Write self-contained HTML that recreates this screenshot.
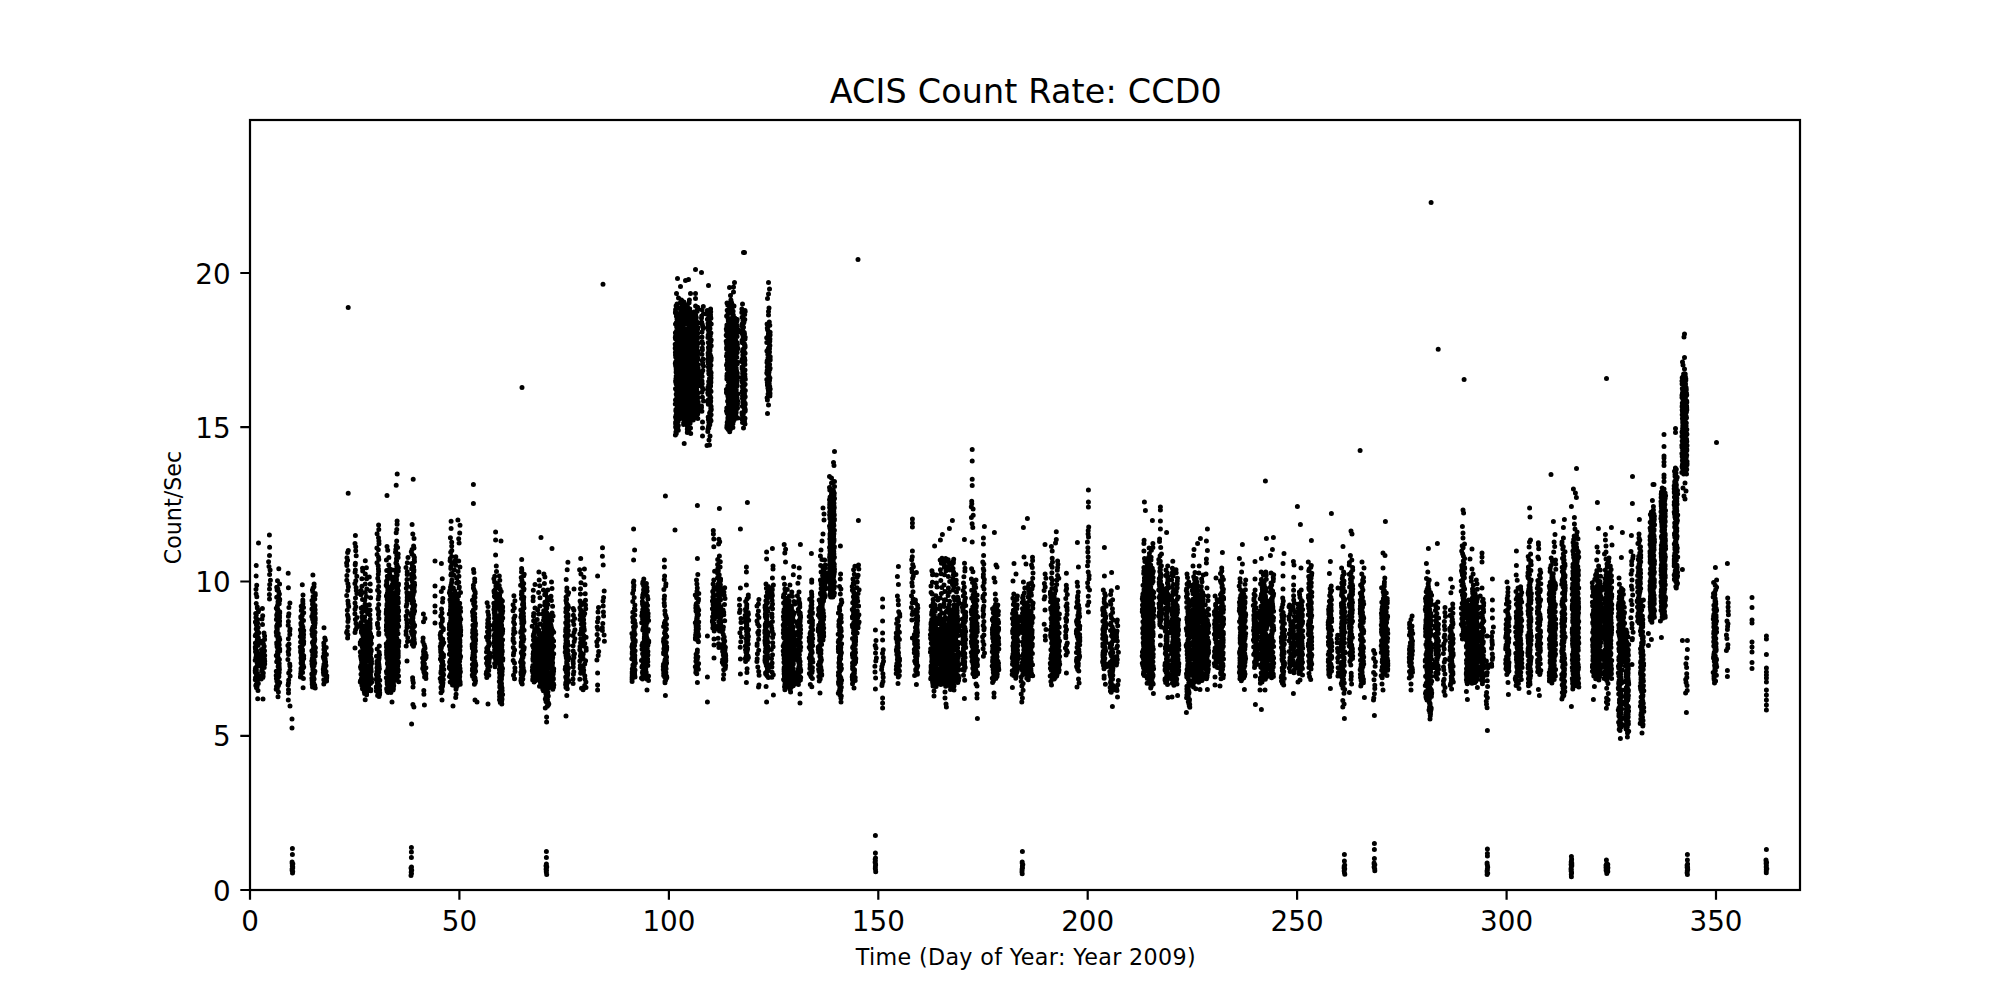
<!DOCTYPE html>
<html><head><meta charset="utf-8"><title>ACIS Count Rate: CCD0</title>
<style>
html,body{margin:0;padding:0;background:#fff;}
body{width:2000px;height:1000px;overflow:hidden;}
svg{display:block;font-family:"DejaVu Sans","Liberation Sans",sans-serif;fill:#000;}
.tk{font-size:27.78px;}
</style></head><body>
<svg width="2000" height="1000" viewBox="0 0 2000 1000">
<rect width="2000" height="1000" fill="#fff"/>
<g fill="none" stroke="#000" stroke-linecap="round" stroke-width="5">
<path d="M256.2 565.5h0m-.1 10.5h0m.6 9.3h0m-.7 4h0m.1 4.6h0m.7 2.8h0m-.6 6.8h0m1.1 3.4h0m0 1.1h0m1.4 2.3h0m-.4 1.4h0m-2.6 1.9h0m.6 1.4h0m-.4 2.5h0m1.6 2h0m-.3 1.5h0m-1.8 1.1h0m2.2 1.2h0m-1.3 1.4h0m.5 1.5h0m1.3 1.2h0m-2 1.5h0m1 1.3h0m.7 1.6h0m.9 .9h0m-2 .8h0m-1 1.3h0m-.4 1h0m2.7 1.1h0m.4 1h0m-.7 .8h0m-.4 1.1h0m.9 .8h0m-1.3 1.3h0m-1.5 1.1h0m2.1 1h0m.7 1.3h0m-1.6 .8h0m-1.3 1h0m.5 .9h0m-.4 .7h0m.3 1.1h0m.9 .7h0m-1.1 1.2h0m1.7 .9h0m.9 1.2h0m-1.9 1.2h0m.3 .9h0m2.1 1.2h0m-2.8 .7h0m.2 .7h0m1.3 .9h0m-2.1 .8h0m1.3 .8h0m2.1 1h0m-1.5 1.1h0m.5 1h0m.8 .6h0m-.1 1.1h0m-1.7 1.2h0m-1 .8h0m-.2 1h0m.6 .6h0m.4 .7h0m-1.2 .6h0m.4 .7h0m-.3 .8h0m2.1 1.2h0m-1.3 .6h0m.4 .9h0m1.8 .6h0m-1.4 1.3h0m-1.4 .9h0m.9 .6h0m1.8 .8h0m-2.9 .7h0m1.8 1.2h0m.1 .7h0m-.1 .5h0m1.2 1.3h0m-2.2 1.1h0m-.3 .8h0m1.3 1.2h0m-.7 1.1h0m1.6 2.7h0m-.3 8.4h0M262.4 608.6h0m.3 7.1h0m-.7 3.4h0m.5 5.3h0m1.5 8.5h0m.6 3.1h0m0 3.5h0m-2.6 1.8h0m-.1 1.5h0m1.5 1.3h0m.8 2.2h0m-.6 1.4h0m-2.1 1.7h0m3 1.3h0m-.6 1.4h0m-2.1 1h0m.6 1.3h0m2.3 1.2h0m-2.1 .8h0m1.2 1.3h0m-2.1 .7h0m2.8 .6h0m-2.8 1.2h0m3 1.1h0m-2.2 1.1h0m-.8 .9h0m3 .6h0m-1.6 1h0m-.3 1.3h0m1.4 1.2h0m-2.1 .7h0m0 .8h0m0 1h0m-.4 .8h0m.8 1.3h0m.8 .9h0m-.6 1.2h0m.3 1.3h0m.1 1.2h0m-.3 1h0m-1.6 1.3h0M269.4 534.9h0m.2 12.4h0m-.1 8.1h0m-.9 6.4h0m.4 4.8h0m1.1 3.4h0m-.5 4.5h0m.8 5.8h0m-.7 4.2h0m-.2 4.5h0m-.1 5.5h0m.1 4.6h0M278.8 568.8h0m-1.3 11.9h0m2.1 3.3h0m-2.9 3.2h0m1.1 1.5h0m-.7 1.4h0m1.5 1.4h0m.8 2.4h0m-.6 1.3h0m-2.1 2h0m3 2.1h0m-.1 1.2h0m-1.6 1.3h0m1.2 1.9h0m-1.4 1h0m-.4 1.2h0m-.1 .9h0m-1 1.4h0m1.5 1.2h0m-.4 .6h0m.6 1.2h0m1.7 .6h0m0 1.3h0m-2.5 .6h0m1.8 .6h0m-2.3 .8h0m2.8 .9h0m-2.4 1.1h0m2.4 .7h0m-.8 1h0m-2.3 .6h0m1.3 1.1h0m1.9 .6h0m-.5 1h0m.2 .6h0m0 .6h0m-1.9 .9h0m2.1 1h0m-2.8 .7h0m.4 .9h0m-.3 .7h0m.1 .6h0m.4 .8h0m-.1 1.1h0m-.4 .9h0m-.5 .8h0m0 .7h0m1.9 1.1h0m-.3 .7h0m-1.3 1.3h0m1.2 1.2h0m1.4 .9h0m-1.2 .8h0m1.7 1.1h0m-.5 .8h0m-.7 1.1h0m-1 .8h0m-.8 .6h0m2.2 .6h0m-2.1 .8h0m2.4 .6h0m-.6 1.2h0m-1.5 .7h0m.8 .8h0m-.1 .7h0m1.9 .7h0m-1.5 1.3h0m1.5 .7h0m-2.2 .8h0m.1 .6h0m.4 .9h0m0 .7h0m-.8 .5h0m.4 .6h0m-1.3 .6h0m.7 .8h0m1.1 1h0m.5 1.1h0m.8 1.1h0m-2 .8h0m-.7 1.3h0m1.8 1.1h0m.7 .6h0m-.7 1.2h0m.6 1.1h0m-1 .7h0m1.1 .9h0m0 1.2h0m.2 .9h0m-.7 1.1h0m-2.4 .7h0m1.2 .7h0m1.7 .6h0m-.7 1h0m.2 1h0m-2.5 .9h0m2.7 1.2h0m-.8 .9h0m-1.7 1h0m.7 1.1h0m.1 .6h0m-.3 1.1h0m2.8 1.1h0m-2.1 1h0m1.1 .9h0m-.3 1.1h0m-1.9 1h0m.6 .7h0m.2 1.1h0m-1.1 1h0m1 .6h0m1.2 2.3h0m-.4 4.6h0M288.2 573.3h0m.2 14.4h0m1.5 15.2h0m-1 4.7h0m0 6.1h0m-.5 2.6h0m0 5.2h0m-.2 3.8h0m1.8 3.6h0m-.3 2.1h0m.1 3.5h0m-1.4 4.3h0m.6 5.1h0m-1.1 1.6h0m1 3.5h0m-.7 2.7h0m.4 2.9h0m-.7 4.8h0m1.8 4.5h0m.2 2h0m0 4.4h0m-1.2 2.7h0m1.4 3h0m-1.4 3.9h0m-.2 3.2h0m-.4 1.8h0m.4 4.8h0m0 3.2h0m-.2 7.1h0m1.7 6h0M302.3 584.8h0m.7 10.2h0m-.2 5h0m0 1.6h0m.1 2.2h0m-1.7 2.5h0m2.3 1.3h0m-1.6 1.4h0m-.6 1.6h0m2.4 2.1h0m-1.1 1.4h0m-.4 1.3h0m-1.4 1.4h0m.1 1h0m1.1 1.8h0m1.5 1h0m-1.7 1.8h0m-.9 .8h0m.5 .8h0m-.3 .8h0m1.2 .8h0m.6 1.4h0m-1.2 1h0m-.1 1h0m-1.2 .8h0m3.3 .8h0m-1.7 .7h0m1.3 1h0m-2.1 .7h0m.4 .7h0m2 .9h0m-.3 1.2h0m-3 .6h0m3.1 1.1h0m-1.1 .9h0m-.7 .5h0m1.6 1.3h0m.5 1.2h0m-3.1 .7h0m1.5 .7h0m1.5 1h0m-1.1 1.1h0m-.7 1.1h0m-1.5 1h0m.7 1.1h0m1.5 1.3h0m-1.8 .8h0m1.8 .7h0m-1.9 1.1h0m1.5 .6h0m-.5 1h0m.8 .7h0m-1.1 .5h0m2.4 .9h0m-.3 1.1h0m-2.4 .9h0m2.7 .7h0m-2.4 1.1h0m.7 .5h0m-.3 1.1h0m.9 .7h0m-1.6 1.3h0m.4 .6h0m1.3 .8h0m.4 .7h0m-1.1 1.1h0m1.7 .7h0m-.5 .8h0m-2.2 .7h0m.3 1.2h0m.7 1.2h0m-1 .7h0m1.6 .9h0m-1.9 1.2h0m.3 .9h0m-.3 1.5h0m-.3 .8h0m3 1.5h0m-.3 9.4h0M312.9 575h0m1.2 8.9h0m-.1 2.9h0m-.9 1.2h0m-.7 2.1h0m.4 1.4h0m2.4 2h0m.1 1.4h0m-2.2 1.6h0m1.7 2.4h0m-2.8 1.6h0m1.1 1.7h0m-.6 2.1h0m2.5 1.3h0m-1.7 .8h0m1.3 1.7h0m-2.7 .8h0m3.2 .8h0m-.6 1h0m-1.5 1.5h0m2.2 1h0m-2.5 1.1h0m.2 1.3h0m-1.1 .8h0m3.3 1.2h0m.1 1h0m-2.6 .6h0m2.6 .9h0m-2 1.3h0m.1 .7h0m1.8 .9h0m-.4 .7h0m.1 1.1h0m-.8 1.2h0m-1 .8h0m1.6 .8h0m-2.1 .6h0m.2 1.1h0m-.8 .6h0m1.1 1h0m2 1.3h0m-2.2 1.2h0m-.7 .7h0m2.3 .9h0m-1.8 .9h0m1.4 .8h0m.5 1.1h0m-.3 1.2h0m.6 .6h0m-1 .8h0m.7 .8h0m-1.8 .7h0m-.3 .7h0m1.5 1.3h0m-.7 .8h0m.4 1.2h0m1.1 .8h0m.7 1h0m-1.9 .6h0m1.3 1.2h0m-2.9 1.2h0m.3 .8h0m3.1 .7h0m-.2 1h0m-.2 .8h0m-2.2 .9h0m2.5 1.1h0m-1.3 .7h0m-1.3 1h0m-.3 .8h0m.4 .7h0m1.4 1h0m-2.3 .7h0m2.4 .8h0m-1.3 .7h0m1.8 .7h0m-2.7 1h0m1.2 .6h0m.9 .9h0m-1.7 .7h0m.9 1h0m-.4 .8h0m0 1.3h0m.2 .9h0m1.8 .9h0m-1.8 1.3h0m1.3 .7h0m-2.6 .7h0m1.5 1.2h0m0 1.2h0m.2 1.2h0m-1.6 .7h0m2.2 .9h0m-2 1.3h0m1 1h0m-.8 .9h0m1.4 .8h0m-1.5 1.2h0m2.5 1h0m-2.2 1.7h0m2.7 1.1h0M324 627.7h0m.8 10.3h0m.6 2h0m-1.6 3.1h0m.2 2.7h0m2.2 1.7h0m-2.3 2.1h0m.7 1.2h0m0 1.4h0m-.5 1h0m2.3 1.4h0m-1.2 .8h0m-1.9 1.3h0m.3 1.3h0m1.6 1.1h0m-.9 1h0m1 .9h0m.3 .9h0m-.8 .8h0m.6 .6h0m-1.4 .9h0m2 1.2h0m-2.2 .8h0m-.2 1h0m1.2 .6h0m0 .6h0m-1.5 .9h0m.2 1.1h0m2.5 1.1h0m-2.6 .9h0m1.2 .9h0m-.9 1.3h0m3.1 1.2h0m-.7 1.1h0m.6 .7h0m-.1 .9h0m-2.8 1.2h0m2.8 1.4h0m-2.1 .9h0m-.7 2h0M348.3 550.5h0m-.7 2.1h0m-.6 5.1h0m.6 2.6h0m-1 2.8h0m.3 2.3h0m1.1 5.2h0m-1.1 5h0m-.1 4.6h0m1.1 3.6h0m.5 3h0m-.6 3.7h0m-1.1 5h0m1.2 5.4h0m.3 3h0m.5 2.6h0m-1.4 3.8h0m.2 4.6h0m.6 2.2h0m.2 1.8h0m-.4 2.5h0m-.1 5.4h0m-.6 4.1h0m-.6 1.6h0m1.3 2.2h0m-.3 3.2h0M355.4 535.5h0m-.4 8.1h0m.7 3.2h0m0 4h0m.5 4.9h0m-.8 7.6h0m-.2 1.5h0m.2 5.2h0m-.3 2.2h0m1.7 4h0m-1 4.6h0m-.9 2.6h0m1.2 4h0m.2 3h0m.6 3.2h0m-1.4 4.4h0m-.5 5.1h0m.8 3.6h0m-.8 2.5h0m-.1 4.6h0m2.1 3.7h0m-1.6 2.1h0m.6 3.9h0m.7 4.1h0m-1.1 2.2h0m-.6 2.7h0M362.5 568.3h0m.2 2.8h0m-.8 7.6h0m0 7.6h0m-.8 4.2h0m-.1 4.2h0m1.5 4.9h0m.2 7.3h0m-1.5 1.1h0m.6 4.2h0m.3 4.3h0m.4 2.3h0m-1.5 3.6h0m-.7 2.8h0m.7 1.6h0m2.6 2.1h0m-2.2 1.8h0m0 1.9h0m2.1 1h0m-.8 1.3h0m1 1.3h0m-.5 1h0m.1 1.2h0m-.5 .9h0m-1.5 1h0m1.1 .7h0m1.1 .6h0m-3.2 .7h0m3.2 .6h0m-2.8 .8h0m-.4 .6h0m2.2 1h0m.4 1.1h0m-.6 .6h0m.8 .8h0m.3 1.2h0m-.1 .6h0m.3 1.2h0m-2.7 .7h0m-.6 .6h0m2.8 1.2h0m.1 1h0m-2 1h0m-.6 .7h0m.3 1.1h0m.8 .8h0m-.6 .5h0m1.7 .8h0m-1.4 .8h0m.6 1.3h0m.4 1.2h0m-.7 .6h0m1.3 .8h0m-.3 .8h0m-1.7 1h0m-.5 1.2h0m.3 1.2h0m.1 .5h0m2.8 1.1h0m-1.7 .6h0m1.1 .9h0m-1.1 .7h0m1.2 .8h0m.4 .7h0m-2.6 .8h0m1 1.1h0m.5 .6h0m.5 .6h0m0 1.1h0m-1.5 1h0m.1 .9h0m-1.1 1.2h0m-.2 1.2h0m.8 .7h0m.9 1.2h0m1.4 .9h0m-1.5 .8h0m1 1.3h0m-.4 1.9h0M365.3 560.8h0m1.1 6.9h0m-1.1 6.3h0m1.3 4.7h0m-1.4 5.4h0m1.6 4.8h0m-1.5 3.6h0m1.1 3.9h0m-1.6 3.6h0m.3 4h0m1 4.1h0m-.7 2.9h0m2.3 2.5h0m-3.1 3.5h0m0 3.4h0m3.1 1.7h0m-.9 2.2h0m-1.9 1.4h0m-.3 1.4h0m1 1h0m0 .7h0m1.1 1.3h0m-.2 1h0m-1.8 .9h0m1 1h0m1.8 1.1h0m-1.2 .9h0m-.6 1.1h0m1.1 .7h0m.2 1.2h0m.3 1.1h0m-.8 1.1h0m-1.2 .9h0m-.7 1h0m2.4 .8h0m-.5 1.1h0m-.8 .8h0m.7 .8h0m.2 .9h0m-1.7 1.3h0m2.1 1h0m-1 .8h0m-1.7 1.3h0m.5 1h0m2.8 1.1h0m-3 1h0m1.5 .9h0m-.1 1.1h0m1.2 1h0m-1.5 1h0m-.7 1.3h0m.6 1h0m-1 1.1h0m.9 1.3h0m-.3 .6h0m-1 .9h0m1.5 .8h0m-.2 1.1h0m-.5 .8h0m2.6 1.1h0m-2.6 .9h0m.6 1.2h0m-.9 .7h0m2.4 1.1h0m-1.2 1h0m-.9 1h0m.5 1.3h0m1.6 1h0m-1.2 1.2h0m.3 .7h0m1 .7h0m.1 .8h0m-1.7 .7h0m.1 .8h0m-1.5 .7h0m1 1.1h0m.1 .7h0m.4 .9h0m.9 1h0m.9 .9h0m-3.1 1.1h0m3.1 1.2h0m-2.8 1.2h0m1.8 1.1h0m-2.3 .6h0m2.4 1.3h0m-2 .7h0m2 1.1h0m-1.4 5h0M369.3 577h0m.9 7.1h0m.2 6.6h0m.2 7.1h0m-1.3 6.9h0m.8 5.3h0m-.3 4.8h0m.4 4.4h0m-1.2 2.3h0m1 1.8h0m-.1 1.5h0m.1 1.5h0m.1 2h0m-1.9 2.3h0m1.7 2h0m.7 1.5h0m-1.1 1.7h0m2.2 1.1h0m-1.2 .7h0m-2.2 1.2h0m2.4 1.1h0m-1.3 1.4h0m.6 1.3h0m1.4 .9h0m-.6 .6h0m-1.4 1h0m.1 1.2h0m.6 .9h0m-1.1 1.1h0m.7 .9h0m1.5 .9h0m0 .8h0m-1.2 .9h0m0 .7h0m.6 1.3h0m-1.2 1.1h0m-.1 .8h0m1.2 1h0m-2.2 1.2h0m3.1 1.1h0m-3 .9h0m-.2 .8h0m3.3 .7h0m-.9 1h0m.9 1.1h0m-1.1 1h0m.3 1.1h0m0 1h0m-.1 .7h0m.3 .9h0m-2 .6h0m2.1 .6h0m-.4 1.2h0m.6 .8h0m-1 1.2h0m-.9 .7h0m0 .9h0m1.2 .8h0m-2.1 1.3h0m-.1 1h0m2.8 .6h0m.4 1h0m-3.2 .9h0m2 .8h0m1.4 1.3h0m-2 .9h0m.8 .6h0m-1.8 .7h0m-.5 .6h0m.4 1h0m-.1 1.3h0m.2 1.5h0m2.1 .9h0m0 1.4h0M378.6 525.1h0m.2 4.3h0m-1.7 4.4h0m1.4 4h0m.4 3.3h0m.1 2.6h0m-2.1 4.3h0m1.4 1.7h0m-1.2 4.7h0m1.4 2.8h0m.3 2.2h0m-1.8 3.4h0m1.2 3h0m.2 3.3h0m.2 2.1h0m-.3 3h0m-.5 4h0m.8 3h0m0 5.2h0m-1 3.8h0m1.4 1.8h0m-.3 4.3h0m-.5 2.8h0m.5 5.4h0m-1.1 3.9h0m1.2 3.2h0m-.4 3h0m.5 3.9h0m-1.4 4.7h0m0 1.6h0m.7 3.2h0m.6 4.7h0m-.1 1.7h0m.6 11.6h0m-2.1 3h0m1.9 3.2h0m.4 2.5h0m-3 1.6h0m2.6 1.8h0m-.2 1.1h0m-1.9 2h0m1.6 1.4h0m-1.7 1.1h0m2 .9h0m-1 1.3h0m1.2 .7h0m-2.1 1.2h0m2.4 1h0m-1.3 1.2h0m.2 .9h0m-1.4 .7h0m1.8 .7h0m-.5 .8h0m-.1 .9h0m-1.7 .6h0m1.1 1.3h0m1 .6h0m-1.7 1.2h0m.6 1h0m-1.1 .9h0m3.5 .6h0m-1.8 1.2h0m-.9 1h0m.6 1.1h0m1.3 1.3h0m.7 1.1h0m-3.4 .8h0m.6 .7h0m-.5 .6h0m2.9 1h0m.3 .9h0m-3.2 1.2h0m1.2 1h0m2.1 .6h0m-1.5 .8h0m1.4 1h0m-2 1h0m1.4 .9h0M387 546.6h0m.7 3.6h0m1.2 7.2h0m-2.5 2.6h0m2.4 5h0m.9 3.7h0m-3 1.8h0m2.9 3.2h0m-2.3 2.6h0m1.6 2.1h0m-1.5 1.3h0m-.8 1.3h0m.2 1.5h0m-.1 1.1h0m-.5 1.6h0m.7 1.4h0m2.6 .7h0m.1 .9h0m-.2 1.4h0m-1.6 .7h0m1.7 .6h0m-1 1.2h0m-1.1 .9h0m.5 1.2h0m-1.2 1h0m-.3 .7h0m1.8 1.1h0m1.1 .6h0m-1.6 .8h0m-.5 .7h0m.2 1.1h0m.6 .7h0m1.5 .8h0m.2 .6h0m-.3 .6h0m-2.4 1.1h0m.2 .9h0m-.3 .7h0m2.9 .9h0m-.3 1.3h0m-2.3 .6h0m-.8 1.2h0m.9 1.1h0m-1 1.3h0m1.1 1.1h0m-1.2 .7h0m1.9 1.2h0m-.3 .7h0m-.8 1.2h0m-.3 1h0m2.3 .7h0m-2.1 1h0m-.4 .7h0m1.5 1h0m-1.1 .7h0m1.8 1h0m-.4 1.2h0m-1.9 .7h0m1.3 1.1h0m-1.3 1.1h0m1 1.1h0m1.9 1.2h0m-3 .9h0m1.6 1.3h0m-.7 1.2h0m2 .7h0m-2.4 .8h0m1.5 .8h0m-.2 .6h0m0 .8h0m.7 .7h0m.5 1.2h0m-.5 .7h0m.1 .9h0m.4 .6h0m-1.3 1.2h0m.1 1h0m-1.8 .9h0m.7 1.3h0m-.4 .7h0m2.5 .7h0m-2.6 .6h0m.4 1.1h0m1.5 .5h0m-.3 1h0m-1.5 1.1h0m2.2 1.2h0m-2.2 .6h0m1.4 .9h0m-1.4 .8h0m.1 .8h0m2.6 1h0m-1 .7h0m-1.5 1.1h0m2.8 1.2h0m-1.9 .8h0m.4 1.2h0m1.5 .8h0m-2.2 1.2h0m0 .7h0m2.3 .9h0m-.2 1.1h0m-.2 1.2h0m-1.2 .6h0m1.5 1.2h0m-1.9 .8h0m-.2 1h0m-1.1 .9h0m1.6 .9h0m-1.3 .6h0m2.3 1.3h0m-.5 1.2h0m.9 1.2h0m-3.1 1.2h0m.9 1h0m0 1.1h0m2.3 .9h0m-2.4 1h0m.7 1h0m-.6 1.2h0m1.3 .8h0m-.2 .7h0m-.3 1.2h0m-.1 .8h0m-1.2 .9h0m0 .8h0m1 .9h0m-.6 1.2h0m1.1 1.1h0M392.4 570h0m.1 7.1h0m.3 3.8h0m-.6 3.9h0m-.3 3.5h0m-.8 2.2h0m.9 1.7h0m.3 1.7h0m-.8 1h0m-.4 2h0m.9 1.3h0m1.8 1h0m-.8 .9h0m-2.6 .7h0m1.4 1.3h0m-.2 .6h0m1.2 .9h0m-1.8 .6h0m1.9 1.3h0m-1.5 .6h0m1.2 .8h0m.7 1.1h0m-1.2 1.1h0m.8 1.1h0m-1 1.1h0m.9 1.2h0m-2.1 1.2h0m-.5 1.2h0m2.1 1.1h0m1.4 1h0m-2 1h0m1.6 1.1h0m-1.7 1h0m.2 .9h0m-.5 1.1h0m.9 .8h0m-.8 .9h0m1.9 1.1h0m-1.5 .9h0m-.5 .7h0m1 .7h0m-1.8 1h0m.9 1.2h0m1.8 1.2h0m-2.3 1.2h0m2.6 .9h0m-3.1 .6h0m1.6 .9h0m1 1.3h0m.8 .9h0m-1.7 1h0m-.5 1h0m.7 .9h0m1.3 .8h0m-1.5 1h0m-.6 .7h0m.7 .8h0m1.2 1h0m-1.4 1.3h0m.4 .8h0m-1 1.3h0m1.7 1h0m-1.8 .7h0m1.9 1.2h0m-2.6 1h0m2.1 1.2h0m1.1 1.2h0m-2.1 1.2h0m-.5 .7h0m.8 .9h0m-1.1 .7h0m1.5 1h0m1.4 .8h0m-3.4 1h0m2.6 .9h0m-.3 .8h0m-1.4 .5h0m1 1.2h0m-1.4 1.1h0m1.3 .9h0m.3 .7h0m1.3 1h0m-2.1 1h0m-.9 .6h0m-.2 1.1h0m.2 .7h0m2.4 .9h0m-.1 1h0m-2.9 .6h0m1.2 1.1h0m.1 1.1h0m-.3 .7h0m2.3 .6h0m-2 1h0m.1 .9h0m1.8 .6h0m.3 1h0m-1.3 .9h0m-2 .7h0m2.9 1.2h0m.1 .8h0m-2.1 1.2h0m2.4 1h0m-.1 .9h0m-2 .7h0m-.6 1.1h0m2.4 .8h0m-.3 1.2h0m-2.3 1.1h0m.1 1.4h0M397.1 520.9h0m0 3.4h0m-.3 5.3h0m-.6 3.1h0m.5 8.2h0m-.4 4.3h0m-.2 .8h0m1.5 1.5h0m-1.8 2.1h0m-.3 2.6h0m2.7 1.7h0m-1.4 1.3h0m1.3 2.4h0m-1.6 1.2h0m.1 2h0m-.7 2.1h0m1.1 1.9h0m-.2 1.1h0m.9 .9h0m.7 1h0m-1.9 1.3h0m.9 .9h0m.9 .9h0m-1.3 .7h0m-.8 1.1h0m.4 1.3h0m.6 1.1h0m-.6 .8h0m-.8 .6h0m.6 1.2h0m-.8 1.1h0m.9 1h0m-.2 .9h0m0 .6h0m-.6 .7h0m.5 1.1h0m2.3 .8h0m-.1 1.2h0m-2.7 1.2h0m-.4 .7h0m2.3 1.1h0m-.9 .8h0m1 1.1h0m.5 .7h0m-.7 .8h0m-1.9 .7h0m2.2 1.2h0m-2.5 1.1h0m.5 .6h0m.5 .7h0m-1 .8h0m2.2 .8h0m.7 .7h0m-.4 1h0m-1 .7h0m-.3 1.1h0m1.7 .5h0m-2 1.2h0m2.1 .5h0m-2.9 1h0m.2 .8h0m.4 1.1h0m1.9 1.3h0m-.2 .6h0m.2 .8h0m-1.7 1.2h0m2.4 .6h0m-.1 .9h0m-.6 1h0m-.4 1.2h0m-2.1 .9h0m1.3 1.1h0m1.8 .9h0m-.6 .7h0m-.2 .5h0m-1.6 1.2h0m2.6 1h0m-1.5 1h0m-1.8 .7h0m1.3 .8h0m-.4 .7h0m1.4 .7h0m-1.6 1h0m1 .8h0m1.5 .9h0m-2.3 .8h0m-.6 1.2h0m.7 1h0m.8 1.1h0m-1.4 1.1h0m1.6 1.1h0m.6 .9h0m-2.4 1.2h0m.9 .7h0m-1.1 .7h0m.5 .8h0m.9 1.1h0m-.4 .6h0m.1 .9h0m-1 .7h0m3.3 .5h0m-3.3 1.1h0m3.2 1.1h0m-3.1 1h0m1.2 .9h0m.4 .7h0m1.3 .6h0m-1 1h0m0 1.3h0m-1.4 .7h0m-.8 .7h0m2.9 1.1h0m-2.3 .8h0m2.3 1h0m-2.4 1.2h0m2.4 1.2h0m-1.8 1.1h0m1.8 .7h0m-1.7 .8h0m0 .9h0m-.4 1.2h0m1.1 .6h0m1 1h0m.3 1.1h0m-1.5 1.2h0m-1.2 1h0m1.5 .7h0m.4 .6h0m-.9 .7h0m-1.3 1.3h0m1.3 .6h0m1 .7h0m.4 .5h0m-.2 1.2h0m-1.8 .9h0m.9 1h0m-.7 .9h0m1.2 .9h0m.9 1.1h0m-2.2 .7h0m.9 1.1h0m-1.3 1.1h0m.5 1.1h0m2.3 1.8h0M408 557.5h0m-.7 5.3h0m-1.3 4.7h0m1.2 4.2h0m0 2.7h0m-.2 5.2h0m-.4 4.1h0m1.2 2.9h0m-1.5 1.7h0m.6 4.2h0m.4 1.9h0m-.1 3h0m-.1 3.2h0m-.3 3.7h0m-.5 2h0m.8 5h0m.7 2h0m-1.7 2.6h0m.4 3.6h0m.6 3.5h0m.1 2.4h0m-.2 2h0m-.9 3.9h0m0 3.1h0m1.7 3.3h0m-.3 3.7h0m-1.3 4.5h0M412.1 524.5h0m.7 9.6h0m1.2 4.4h0m-.4 7.5h0m.4 2h0m-1.9 1.6h0m-.8 2.1h0m.7 2.4h0m1.7 1.7h0m.7 1.8h0m-.1 2.1h0m.2 1.8h0m-2.7 2.1h0m.6 1.8h0m1.2 1.7h0m-2 1.6h0m2.3 1.2h0m-.1 1.6h0m-.4 .7h0m-.2 .8h0m-1.6 1.3h0m2 1.4h0m-1.7 .8h0m2.3 1h0m-2.6 1h0m0 .6h0m.3 1.1h0m.3 1h0m.4 1h0m1.8 .7h0m-.7 1h0m.9 1.1h0m-2.2 .6h0m.6 .6h0m1.1 1.2h0m-2.2 .6h0m1.7 1.2h0m-.7 .8h0m1.3 .7h0m.1 .8h0m-2.8 1h0m.5 .8h0m1.3 1.3h0m-1.5 .5h0m1.1 .9h0m-.3 .9h0m-1.4 .9h0m1.2 .9h0m.5 .6h0m-1.5 1.3h0m2.2 .7h0m-1.4 .7h0m-.1 .9h0m1 1h0m1.7 1.3h0m-1.6 .6h0m1.1 1.1h0m-.8 1.1h0m-1 1h0m1.6 .8h0m.5 1.2h0m-2.3 1.1h0m1.6 1.1h0m-.4 .9h0m-.3 .8h0m-1.8 .9h0m1 .8h0m.5 1.3h0m-.8 .8h0m.4 .7h0m-1.3 .7h0m1.6 1.2h0m.4 .9h0m-1.4 .8h0m.5 .6h0m1.5 .7h0m.8 1h0m-.1 .8h0m-3 1h0m1.8 .7h0m-.8 1.3h0m.2 1.1h0m-1.3 1.2h0m3 .9h0m-2.3 .8h0m-.3 .5h0m1.9 .8h0m-1.1 .7h0m.8 .7h0m.1 1.2h0m.3 .7h0m-.4 1.3h0m.7 .6h0m-1.7 1.2h0m-.5 .6h0m2.5 1h0m.1 1.1h0m-2.1 1h0m1.1 1.8h0m-.9 31.4h0m.2 2.6h0m.5 2.5h0m-.3 4.1h0m-.1 17.7h0m1 2.4h0M423.4 614h0m1.5 4.5h0m-1.4 3.2h0m-.4 16.3h0m-.2 3.5h0m1.2 2.9h0m.6 2.1h0m.3 1.8h0m-1.2 1.6h0m-.3 1.6h0m1.8 1.5h0m-1.6 1.3h0m2.4 1.3h0m-2.5 .9h0m2.4 1h0m-3.4 .6h0m2.4 .9h0m-1.1 1.1h0m-.5 1.3h0m-.5 1.1h0m.2 .6h0m1.3 .6h0m-1.1 1h0m.6 1.2h0m-.7 .7h0m2.7 1.1h0m-3.2 .7h0m.8 1.1h0m.9 1.3h0m-.6 1h0m.5 1.2h0m1.6 .8h0m-.7 .6h0m-.3 .7h0m.8 1h0m-1.1 .9h0m1.3 1.5h0m-2.1 12.1h0m.1 3.6h0M441.4 563.4h0m.9 15.4h0m.8 9.3h0m-1.8 3.3h0m1.5 7h0m-.3 3.7h0m-1 6.8h0m.5 4.1h0m-1.2 3h0m1.6 2.8h0m-.1 2.2h0m-1.3 2.8h0m.5 2.6h0m1.8 2.2h0m0 1.2h0m-2 2.2h0m-.7 .9h0m-.4 2h0m.5 1.8h0m-.1 1.5h0m2.1 .8h0m-1.3 .8h0m1.4 1.5h0m.9 1.4h0m-2.7 .7h0m1.7 1.2h0m-.7 .6h0m-.3 .8h0m-1.4 .6h0m1 1.3h0m-.7 1.3h0m.1 .9h0m.1 .8h0m-.1 1.1h0m1.3 1.1h0m-.5 .6h0m2 1h0m-2.5 .8h0m2.4 1.3h0m-2.2 1.1h0m0 .6h0m-.8 .6h0m1.3 1h0m-.2 .9h0m1.2 .6h0m-.5 1h0m.5 1h0m.6 1.3h0m-1.7 1.1h0m.1 .8h0m-.1 1.2h0m.1 .9h0m2.1 .6h0m-1.4 .6h0m-1.3 1.2h0m.5 1h0m-.7 .8h0m2.3 .6h0m.3 1.1h0m-.8 .6h0m-.2 .8h0m-1.2 1h0m-1.1 1.3h0m3.1 1.1h0m-1 .9h0m-1.3 1.3h0m1.9 1h0m-.1 .9h0m-.7 .8h0m.5 1h0m-.1 .8h0m-1.5 1h0m.2 1h0m.7 1.3h0m.2 1.5h0m-1.1 1.6h0M451.1 521.2h0m0 7.2h0m-.7 9.4h0m1.3 4.5h0m0 3.7h0m.1 4.6h0m-1.1 1.6h0m1 4.4h0m-1.4 1.8h0m-.2 2.4h0m1.6 2.7h0m-.8 3.2h0m-.1 1.8h0m.6 4.9h0m-.5 1.6h0m1 5h0m-.3 2.4h0m-.5 2.7h0m-.6 2.1h0m.1 2.1h0m-.7 1.4h0m-.5 2.1h0m2.4 1.4h0m-1.4 1.4h0m1.8 1.3h0m-.7 .9h0m-1.6 1.9h0m2.2 1.1h0m-1.6 1.3h0m.3 .7h0m1 1h0m-1.1 .8h0m1.4 1.2h0m-1.5 .8h0m1.9 1h0m.2 .7h0m-2.2 1.1h0m-.1 1h0m1.5 .6h0m-.8 .8h0m1.3 1h0m-3.1 1.1h0m1.6 1h0m1.3 .9h0m-1.3 .8h0m-.1 1.3h0m.2 .9h0m.6 1.1h0m-1 1.1h0m1 .6h0m.4 1h0m-2.4 1.1h0m-.1 .7h0m.1 1.2h0m2.3 .6h0m-2.5 1h0m2.4 1h0m-2.4 1h0m1.3 1h0m2.1 1h0m-.5 1.2h0m-1.9 .6h0m-1.2 1h0m1 1.3h0m.1 .7h0m2 .8h0m-1.3 .9h0m-1.6 .9h0m2.9 .8h0m0 1.1h0m-2.4 .8h0m1.2 .5h0m-.2 .9h0m.4 .9h0m.8 .8h0m.4 .7h0m-3.1 1h0m1.7 .8h0m.1 .8h0m-1 .8h0m0 1.2h0m1.9 1.1h0m-1.3 .9h0m0 1.3h0m-1.4 1.2h0m2.1 .9h0m.8 .6h0m-1 .6h0m1.2 .7h0m-.4 .9h0m-.5 1h0m-1.3 1h0m1.9 .7h0m.3 .7h0m-2.9 .7h0m2.4 .6h0m-1.3 1.3h0m-.6 1h0m1.6 1.2h0m-2.3 .7h0m0 1.1h0m.9 1.2h0m1 .7h0m-.1 .8h0m1.3 .6h0m-.3 .8h0m-.1 .7h0m-1.5 1.3h0m0 .6h0m-.6 1h0m-.5 .9h0m2.3 .9h0m-.2 .9h0m.6 .6h0m.3 .7h0m.1 1.3h0m-2.4 1.1h0m1.7 1.3h0m.6 1.6h0M455.8 556.8h0m-.7 3.9h0m-.9 1.9h0m1.6 2.7h0m-1.4 4.8h0m-.4 5.1h0m2.7 2.8h0m-.1 4.9h0m-3.2 5.1h0m1.4 3.1h0m1.1 2.4h0m.1 2h0m-2.6 2h0m.1 2.1h0m2.5 1.9h0m-1.1 1.7h0m.1 .8h0m.5 .9h0m-.2 .9h0m-.8 1h0m-.7 1.2h0m2.8 .7h0m-.4 .9h0m-1.3 1.2h0m-1.4 .6h0m.1 1.2h0m1.5 1h0m-.2 .6h0m.2 .7h0m-.6 .9h0m.2 .7h0m-1 .7h0m2.6 .7h0m.1 1h0m.2 .5h0m-.6 .9h0m-.3 1h0m.2 .7h0m-1.7 .7h0m.4 .6h0m-.3 .9h0m-.8 1.2h0m.5 1h0m2 1h0m-2.6 1.1h0m2 .7h0m-2.1 1.3h0m2.4 1h0m-1.3 1.2h0m.5 1.2h0m-1.7 1.2h0m1.5 1.2h0m-1.2 .9h0m2.3 .7h0m-2.1 1.1h0m0 .8h0m.3 .7h0m2.7 .8h0m-.7 1.3h0m-1 .9h0m1.5 1.1h0m-1 1.2h0m0 .7h0m.5 1.1h0m-.2 .7h0m-2 .8h0m1.8 1.2h0m-1.9 1.2h0m2.9 1.1h0m-.7 1.3h0m.2 1.1h0m-1.3 1h0m1.2 1.2h0m-1.7 1.2h0m.8 1.3h0m-1.5 1.2h0m2.4 1.3h0m.2 .7h0m-2.3 .8h0m.2 .9h0m2.4 .9h0m-.7 1h0m.2 .9h0m-.3 1.1h0m.5 1.3h0m-2.7 .8h0m2.7 1.1h0m-.9 .8h0m.8 1.2h0m-1.1 .5h0m-1.4 .6h0m1.1 1.1h0m.1 1h0m-.8 .8h0m2.2 .9h0m-1.9 1h0m-.1 .6h0m.6 1.1h0m1.3 1h0m-.4 .6h0m.5 .6h0m-2 .7h0m.3 1.3h0m1.9 .7h0m0 1h0m-.4 2h0m.1 5.1h0m-.4 3.3h0M457.9 520.1h0m2.1 5.2h0m-.3 7.6h0m-1 5.8h0m.4 4.4h0m-.4 17.9h0m1.2 5.9h0m-1.8 4.7h0m.8 4.6h0m-.2 6h0m.6 4.7h0m-.2 1.1h0m1.4 4.6h0m-2 3.4h0m-1.1 4.1h0m2.3 3.1h0m-.9 2.2h0m1.6 2.3h0m-.5 1.9h0m-1.5 1h0m2.2 1h0m-2.9 1.8h0m1.6 1.3h0m-.7 .7h0m.9 1.3h0m.4 .8h0m-.7 .9h0m1.5 .9h0m-.6 1h0m-1.5 1.1h0m1.2 1.2h0m-1.6 1.1h0m1.1 .7h0m.8 1.1h0m-2.4 .9h0m2.7 .9h0m-.5 .7h0m-1.6 .6h0m0 .6h0m2.4 .9h0m-2.8 1.2h0m2.7 .8h0m-2.2 .7h0m-.8 .9h0m1 .7h0m2.1 .9h0m-2.8 .7h0m.9 1.3h0m.7 1.1h0m-1.2 1.2h0m1.6 .6h0m-.7 .9h0m.7 1.1h0m-1.4 .8h0m.6 1.2h0m.4 .8h0m.5 .7h0m.2 .6h0m-1.7 1h0m-.3 1.2h0m-.7 .7h0m2.4 1h0m-1.2 1.1h0m-1.1 1.1h0m1.9 .8h0m0 1.3h0m.5 1h0m.6 .9h0m-2.2 1.1h0m1.7 .8h0m-2.2 .9h0m1.2 1.2h0m.5 .9h0m-1.9 1.2h0m-.3 .8h0m1.6 .9h0m.6 1.2h0m-.9 1h0m-.5 .9h0m1.8 1.2h0m-2.3 1.2h0m2.2 1.1h0m.5 .9h0m-.5 1.2h0m-.4 1.2h0m-1.8 1.2h0m2 1.1h0m-1.5 1h0m1.2 .6h0m-1.2 1.1h0m-.2 .8h0m1.6 .6h0m.5 1.4h0m-.4 1.2h0m.5 1.1h0m-3 1.6h0M473.5 569.4h0m.4 3.1h0m.8 6.4h0m0 2.9h0m-1.3 3.5h0m0 2.7h0m.8 2.1h0m.9 1.8h0m.1 1.7h0m-1.1 2.6h0m.9 1.2h0m-1 1.2h0m-1.6 1.6h0m2.4 1.9h0m-1.2 1.7h0m.7 1.5h0m1 1.1h0m-.2 1.9h0m-1.7 1.7h0m-.9 1.7h0m.2 1.1h0m2 1h0m-.9 1.3h0m-.9 .9h0m.3 .9h0m1.6 .7h0m-1 1h0m.9 .7h0m-1.5 .7h0m1.5 1h0m.2 1.2h0m.6 1.3h0m-.7 1.1h0m-1.9 .6h0m2.4 .6h0m-.8 1h0m-1 .8h0m1 .7h0m-1.2 1.3h0m-.5 .5h0m2.6 .9h0m-1.6 1.1h0m-1.2 .6h0m2.4 .7h0m.8 .9h0m-.7 1.2h0m.1 .9h0m-2.6 .7h0m1.4 1h0m-.9 .7h0m2.4 .5h0m.1 1.1h0m-1.8 1.3h0m-.2 1.1h0m1.6 1.2h0m-3 .6h0m2.1 .7h0m-2.1 .9h0m2.8 1.1h0m-2.6 .9h0m1.7 1.2h0m-.7 .6h0m2 1.1h0m-.9 .9h0m-1.4 .7h0m.5 1.2h0m.7 .6h0m-1.4 .7h0m1.4 .9h0m.4 1h0m-2.3 .9h0m0 1.1h0m1.2 .9h0m1.2 1h0m-.3 .8h0m-.6 1h0m1.6 .7h0m-3.1 1h0m3.4 .7h0m-2.2 .7h0m1.6 1.2h0m-.3 1h0m-2.4 .6h0m2.6 1.3h0m-2.7 .5h0m3.2 .8h0m-1 .7h0m-.1 1.2h0m-1.4 1.3h0m-.8 .6h0m.3 1.2h0m2.2 1.2h0m.3 .7h0m-1.1 .7h0m1 .6h0m.5 1.3h0m-.2 .6h0m-.1 1.3h0m-.8 1.6h0M487.1 602.8h0m1 3.6h0m-.3 5.4h0m.7 3.2h0m.2 3.3h0m-.9 1.7h0m.7 1.7h0m-.8 1.8h0m2 1.5h0m-2.2 2.1h0m1.3 1.3h0m.5 2.3h0m-1.8 1.1h0m1.4 1.3h0m-.5 1h0m.6 2h0m-2.5 .8h0m2.2 .8h0m-.6 1.3h0m-.4 1.1h0m.8 1.2h0m.3 1.4h0m.7 1.3h0m-.7 1.2h0m-.1 .6h0m-.9 1.2h0m-1 1.2h0m1 1.2h0m-.7 1.1h0m.4 .8h0m-1 .8h0m3.2 .9h0m-.1 1h0m-.4 1.1h0m-.3 1.3h0m-1.8 .8h0m-.8 .8h0m3.1 .8h0m-2 1.2h0m1.6 1.1h0m.1 1.2h0m-2.5 1h0m.7 1.2h0m.2 1h0m2.2 .9h0m-1.6 .7h0m0 1h0m-.4 1.3h0m1 1.2h0m-2.2 1.3h0m.7 .7h0m-1 1.4h0m2.6 1.2h0m-2 2.3h0M496.3 566h0m.2 5.6h0m-1.8 4.6h0m-.8 2.5h0m.7 3.2h0m2.7 1.8h0m-1.4 2.3h0m.1 2.1h0m-1.1 1.8h0m-.9 1h0m1.1 .8h0m-.9 .9h0m3.1 1.2h0m-2.5 1.2h0m-.4 1.3h0m.5 .7h0m1.4 .8h0m.1 .9h0m.8 .6h0m-.4 .8h0m0 .6h0m.1 .7h0m-.7 1.2h0m-2.4 .7h0m3.3 .7h0m-.9 .7h0m0 1h0m-1.9 .7h0m3 .6h0m-1.2 .8h0m-1.5 1h0m-.7 .6h0m.4 1.2h0m.8 1.3h0m-.8 1.1h0m.4 1.1h0m1 .8h0m-1 .7h0m.1 1.1h0m1.8 .9h0m-2.1 .7h0m.7 .7h0m.9 .8h0m.8 .9h0m-.7 .6h0m-1.6 1.2h0m.8 .6h0m.1 .6h0m-1.4 1.1h0m1.4 .6h0m-.9 .7h0m-.4 .9h0m.9 .6h0m2.1 .9h0m-3.1 .9h0m2.4 .8h0m.4 .9h0m0 1.3h0m.3 .6h0m-2.5 1h0m2.2 .7h0m-2.8 .7h0m3 .7h0m-.7 .9h0m-1 .6h0m-.9 .8h0m.6 1.1h0m2.2 .6h0m-2.9 .9h0m1.8 .6h0m-2.3 .9h0m2.6 .9h0m-1.9 1h0m1.4 .9h0m-1.7 1h0m2.9 1.2h0m-.3 1.1h0m.1 .8h0m-2.4 .7h0m2.4 1h0m-2.4 .6h0m.8 .6h0m-.9 .6h0m1.4 1.1h0m-.7 1.3h0m-1.4 1.1h0m.8 1.2h0m1 .9h0m0 1.3h0m.4 1.3h0m.8 .7h0m.6 .7h0m-2.8 1h0m.4 1.7h0m0 1.6h0M499.3 576h0m.5 4.3h0m-.6 5.1h0m.9 3.6h0m1.1 2.6h0m-1.5 2.7h0m-.1 1.6h0m.1 2.5h0m1.4 1.1h0m1.3 1.6h0m-2.4 .8h0m1.3 .9h0m-.6 1.2h0m.9 1.4h0m1 1.3h0m0 .8h0m-3.2 .9h0m.2 1.2h0m.6 .6h0m2.5 .7h0m-2 1.2h0m1.6 1h0m-.7 1.1h0m-2 1h0m2 .7h0m.5 1h0m.6 1.2h0m-3.2 .7h0m1.8 1.2h0m.4 .7h0m-1.6 .8h0m1 .8h0m-1.6 1h0m1.9 1.1h0m.2 .9h0m-2.4 1.2h0m2.4 .9h0m-.1 1.1h0m1.2 .7h0m-2.7 1.1h0m2.6 .9h0m-1.9 .7h0m1.7 1.3h0m-.6 .7h0m-.2 .8h0m-1.9 1.1h0m.3 .7h0m-.7 .8h0m1.4 .6h0m-1.2 .9h0m3.1 1h0m-2.1 1h0m.3 1.1h0m.1 .6h0m.7 .6h0m-1.1 .7h0m1.5 1.2h0m-.5 1.2h0m.2 1h0m-1.8 1.3h0m.4 1.1h0m1.9 .8h0m.1 1h0m-1 1.2h0m-2 .7h0m2.5 .9h0m-2.3 .8h0m.3 .6h0m-.6 1h0m1 .7h0m2.6 1.1h0m-3.2 .6h0m3.1 1.2h0m-2.3 .7h0m0 1h0m.5 .8h0m-1.5 .8h0m.4 .6h0m1.6 .6h0m-1.3 1.1h0m1.7 1.1h0m-.8 .8h0m1.5 .7h0m-3.1 1h0m2.3 .6h0m.1 .9h0m.3 .7h0m-2.6 1.2h0m.4 .9h0m2.2 1.1h0m-2.1 1.2h0m1.6 .6h0m-1.9 1h0m1.6 .7h0m.2 .6h0m-1.4 .7h0m1 .9h0m-1.8 1.1h0m.7 1.1h0m1.5 .7h0m-.1 1.1h0m-1.5 1.2h0m1.7 .8h0m-1.8 .8h0m2.2 .7h0m-.2 1.2h0m.3 1.2h0m-1.8 .8h0m-.9 1.1h0m.1 1h0m1.5 .6h0m1.6 .6h0m-1.7 1.3h0m-1.3 .7h0m1.5 .9h0m.7 .8h0m.2 1h0m-2.5 .6h0m1.4 .8h0m.7 .9h0m-1.3 1h0m1.5 1.4h0M513.9 595.7h0m1 5.1h0m-1.8 4h0m1.2 3.3h0m-1.3 2.6h0m1.9 5.4h0m-1 2.1h0m-.3 3.9h0m.9 1.9h0m-.6 4.5h0m-.1 1.9h0m1.2 1.9h0m-1.5 1.8h0m-.3 4.5h0m-.1 2h0m1 2.2h0m-.8 4.8h0m1.3 2.3h0m-.9 3.2h0m-.3 2h0m-.2 5.3h0m1.3 2.6h0m.4 5h0m.1 3.4h0m-1.5 3.9h0m1 3.4h0M521.7 559.4h0m-.1 9h0m.2 1.6h0m-.3 2h0m2.7 2.3h0m-.5 1.5h0m-2.5 1.8h0m.6 2.3h0m.3 1.4h0m1.6 2.2h0m-3.1 1.7h0m2.2 1.8h0m1.2 1.9h0m-.3 1.2h0m-2.1 1.6h0m.3 1h0m.1 1.1h0m-.6 .7h0m.7 1.5h0m1.7 1.2h0m-2.3 1.2h0m2 1.3h0m-.3 1.4h0m.3 1.1h0m-.5 .7h0m.6 .9h0m-1.1 .6h0m1.1 .8h0m0 .8h0m.2 1.2h0m.2 .7h0m-1 1.1h0m-2.2 1h0m1.8 1.2h0m-.8 .9h0m1.6 1.1h0m-2 1.2h0m.1 .8h0m.3 .7h0m1.7 .5h0m-2.6 .8h0m2.4 .6h0m-1 .7h0m1.2 .8h0m-1.8 1.3h0m2.1 1h0m0 .9h0m-2.1 1.1h0m1 1.2h0m0 .6h0m-.2 1.2h0m-.4 .9h0m.9 1.2h0m-1.1 .7h0m2.2 .9h0m-3.1 1h0m-.3 1.3h0m1.5 1h0m-.1 1h0m.4 .7h0m.9 1.1h0m-2 .8h0m2.1 1.2h0m.3 .7h0m-1.6 1.3h0m1 .8h0m-1.9 1.2h0m.5 .8h0m-.5 1.1h0m1.1 1h0m-1.3 1h0m3.1 1.3h0m-.7 1h0m.4 .7h0m-.6 .9h0m-1.4 1.2h0m-.6 1.3h0m1.1 .5h0m1.4 1.3h0m-1.4 1.2h0m.2 1.3h0m.3 .6h0m-.8 1.2h0m-.6 1h0m.6 .7h0m.2 1h0m-1.7 .6h0m2.6 .8h0m-1.7 1.1h0m1 .8h0m.3 .6h0m-1.5 1.3h0m1.9 1h0m0 1.1h0m-1.6 1.1h0m2.3 1.1h0m.1 .6h0m-3.1 .9h0m2.6 .6h0m-2.4 1.1h0m1.8 .9h0m-1.1 1.3h0m-.3 1.1h0m-.3 .7h0m1.6 .8h0m-1.6 .8h0m-.3 .7h0m.8 .8h0m-.4 1.2h0m.9 1.5h0M535 584.5h0m-1.7 5.8h0m-.1 6.6h0m-.1 3.8h0m1.9 7.3h0m-1.3 5.4h0m-.2 2.6h0m.1 4.7h0m1.7 2.4h0m-3.1 3.2h0m2.6 3.3h0m-.3 2h0m-.9 2.6h0m-.3 1.7h0m1.3 1.6h0m1 1.7h0m-2.1 .9h0m1.5 1.6h0m-.4 1.2h0m1 .9h0m-2 1.1h0m-1 .7h0m2.5 1.2h0m-1.7 .6h0m.6 .9h0m1.4 .8h0m-1.3 .9h0m.4 1.2h0m-1.1 .9h0m1 .9h0m-1.3 1.1h0m.5 .8h0m1.9 .8h0m-2.3 1h0m2 .8h0m-.5 .7h0m-1.8 .5h0m2.2 .6h0m-2.1 .7h0m.1 .6h0m1.7 1.1h0m.8 1.2h0m-.1 1h0m0 .6h0m-2.6 .9h0m2.4 1.1h0m-2.8 .8h0m2.4 1.2h0m.8 1h0m-3.3 .6h0m-.1 .6h0m2.2 1.1h0m-1.7 .7h0m1.6 .6h0m1.3 1.1h0m0 .8h0m-2.1 .9h0m-.6 .7h0m2.8 1.3h0m-3 1.1h0m-.1 .9h0m2.2 1.1h0m-.8 1.1h0M538.9 572.1h0m.3 7.9h0m.6 5.7h0m-1.2 6.7h0m1.4 5.3h0m-.1 8.4h0m-2.2 3.9h0m.9 4.1h0m-1.4 5.5h0m2.8 4.5h0m-2.8 2.9h0m1.5 3h0m.6 2.3h0m-.6 2h0m1.9 2h0m-1.2 1.8h0m-.8 .9h0m1.9 .9h0m-.5 1.2h0m.8 1.2h0m-2.5 1.1h0m-.2 1.1h0m-.3 1h0m1.2 1.2h0m1.5 .7h0m0 .7h0m-2.8 1.1h0m1.6 1.1h0m0 1.2h0m1.3 .9h0m-.6 .6h0m-1.8 .6h0m2.1 .7h0m-.5 .9h0m0 .7h0m-2.2 1h0m2.2 1h0m-.2 .7h0m-1.1 .7h0m2.1 1.3h0m-1.9 1.3h0m1.4 .9h0m-1.3 1.2h0m-.2 1.2h0m.3 1.2h0m1 .7h0m-.3 .6h0m1.2 .6h0m-.9 1h0m-.4 .6h0m-1.4 .8h0m-.8 1.2h0m.2 .9h0m2.9 1.2h0m-1.5 .6h0m.9 .9h0m-1.4 1.1h0m-.5 1.2h0m2.2 .7h0m-2.2 .6h0m.5 .9h0m2.1 .7h0m-.5 .9h0m.5 .8h0m0 .7h0m.2 1.3h0m-1.2 1.9h0M543.9 574.1h0m1 2.8h0m-.5 6.7h0m-1 6.4h0m1.3 4.8h0m.2 7.5h0m-.2 2.7h0m-1 5.8h0m-1 3.2h0m1.3 3.7h0m-.5 2.5h0m1.4 2.8h0m-2.1 2.5h0m.7 2.5h0m2.2 2.2h0m-1.4 1h0m-.7 1.8h0m-.3 1.2h0m-.4 .6h0m.3 .7h0m1 1.1h0m.5 1.2h0m.9 .9h0m-1.4 1h0m.4 1.2h0m-.2 .8h0m1.3 .8h0m0 .7h0m-3.5 .6h0m.7 1h0m-.3 .9h0m2 1.2h0m.9 1.1h0m-.9 1.2h0m-2.4 1.1h0m1.5 .6h0m-.4 1.3h0m-1.1 1h0m3.2 .8h0m-.2 1h0m-2.3 .6h0m2.3 .7h0m.4 .6h0m-.2 .7h0m-2 1h0m.3 1.3h0m-1.3 1h0m3.3 1.2h0m-.8 .6h0m-2.2 .8h0m1.9 .8h0m1.2 1.3h0m-1.4 1.3h0m-1.6 1h0m1.4 1.1h0m1.2 .8h0m-2.7 .8h0m0 .6h0m2.4 1h0m-1.1 .7h0m.2 1h0m0 .8h0m-1.8 .6h0m.7 .9h0m0 1.1h0m0 1.2h0m.8 .6h0m-.5 .8h0m-.4 1.1h0m2.2 1.1h0m-1.2 .9h0m.4 1.2h0m-1.9 .7h0m.9 .6h0m1.1 .6h0m-1.2 .9h0m2.3 1.2h0m-2.8 1.1h0m.6 1.5h0M547.7 590h0m-1.9 2.7h0m-.2 1.7h0m1.9 3.1h0m0 1.6h0m-.5 1.4h0m-1.4 1.7h0m2.2 2.3h0m-2 1.7h0m1 1.8h0m-1.3 1.7h0m-.3 1.8h0m1.4 1h0m-1.1 1h0m3.3 1.3h0m-2.6 1h0m-.2 1.3h0m1.7 .9h0m-1.9 1h0m1.4 .6h0m1.3 1.4h0m-1.5 .6h0m-1.1 .9h0m1.1 1.1h0m-.7 1.1h0m1.8 1.3h0m-2.4 .9h0m0 .9h0m2 1.1h0m1 .9h0m-.9 .6h0m-2.2 1.2h0m-.2 .8h0m2.4 .9h0m-.1 .9h0m.1 .8h0m.9 .7h0m-3.5 .9h0m2.6 .6h0m-.3 1.2h0m.8 .7h0m-2.7 1.1h0m2 .8h0m-2.2 .6h0m2.9 .8h0m-2 1.3h0m1.7 1.2h0m-.7 1.2h0m.2 1.3h0m-.3 1.3h0m-.1 .7h0m-.7 .9h0m.6 .8h0m-1 1h0m1 .8h0m-.3 .9h0m-.8 1h0m.3 1h0m1.5 1.1h0m-.6 1.1h0m1.4 .8h0m-1.9 .9h0m0 .8h0m1.5 1.1h0m-.3 .9h0m-1 .7h0m-.5 .8h0m1.6 .8h0m-2 1.1h0m2.1 .7h0m-.4 1.1h0m.1 1h0m-2.3 .8h0m-.1 .8h0m1.8 1.3h0m1.6 1h0m-2.7 1.2h0m-.4 .8h0m2.3 1.1h0m-1.4 .9h0m.5 .8h0m1.4 1.1h0m-.1 1.2h0m-1.6 .8h0m2 .8h0m-2.9 .7h0m2.7 .8h0m-2.1 1.2h0m2 1.1h0m-2.5 .9h0m.6 1.1h0m2 .7h0m-1.9 .9h0m-.5 1h0m.5 .5h0m-1.4 .9h0m2.7 .8h0m-.3 .8h0m-1.7 1h0m1.7 .6h0m-1.3 1h0m2 .7h0m-2.3 1.2h0m1.3 1h0m-2 .8h0m2.2 .8h0m-.5 1h0m-1 .6h0m.7 .8h0m1.7 .9h0m.4 .8h0m-.5 1.1h0m-1 1.2h0m-2 1.8h0M551.5 582h0m.5 6.5h0m-1 7.7h0m.4 4.4h0m1.2 5.7h0m-.5 6.8h0m1 2.9h0m-2 1.7h0m.7 2.8h0m-1.3 3.1h0m.5 1.9h0m-.5 1.1h0m1 1.1h0m.5 1.7h0m.7 1.3h0m1 1.6h0m-1.7 1h0m-.5 1.4h0m-.5 1.8h0m.5 1.6h0m.9 1h0m-1.2 1.3h0m2.4 .7h0m-3 1h0m1.5 1.1h0m-.7 .9h0m0 1.3h0m2.2 .9h0m-2 .8h0m1 .7h0m-.8 1h0m-.8 .9h0m.8 1.1h0m-.3 1.2h0m-1.2 1.1h0m3.4 .7h0m-1.1 1.1h0m-.7 .9h0m-1.1 .7h0m1.9 1h0m-.2 .8h0m-.1 .6h0m-.4 .7h0m.2 .8h0m-.3 .6h0m-1.2 1.1h0m1.9 .7h0m-.2 1h0m-.1 1.1h0m-.5 .8h0m.4 1.1h0m-.7 1.1h0m2.2 .9h0m-1.1 1.2h0m-.2 .6h0m1.2 .6h0m-.8 1.3h0m.4 .7h0m0 .7h0m-2.9 1h0m1.5 1.2h0m.9 1.1h0m.6 1h0m.1 .7h0m-3.1 .8h0m.1 .8h0m2 .6h0m-1.6 .6h0m.4 .8h0m2.3 1.3h0m.3 1.2h0m-.7 1.1h0m.4 1.1h0m-.7 2.1h0M567.9 562.3h0m-.7 7.4h0m-1 9.8h0m.7 8.5h0m-.1 3.1h0m1.8 1.7h0m-.7 1.7h0m-1.8 2.6h0m.5 2.2h0m-.6 1.3h0m.5 2.3h0m.5 1.5h0m.9 .9h0m.5 1.7h0m-2.4 1.2h0m1.8 1.1h0m-1.1 1.4h0m-.9 1.2h0m1.1 1.5h0m1.1 1.1h0m-.2 .7h0m.3 .9h0m-1.9 .7h0m.7 1.1h0m.4 .8h0m-.5 .8h0m1.3 .5h0m.1 .7h0m-.8 1h0m-1.7 1h0m.6 1.2h0m1.7 1.2h0m.1 1h0m-.5 .9h0m-1.7 1.3h0m.8 .6h0m-1 .9h0m2.6 .7h0m-2.6 .9h0m1.6 .7h0m-.4 .7h0m-.1 .9h0m1.4 .9h0m.3 .6h0m-3.2 .7h0m2 1.1h0m-1.3 1h0m.3 1.1h0m-.3 1.1h0m1.5 1h0m-.6 .8h0m.6 .6h0m-1.7 1.1h0m2 .9h0m.4 .7h0m-2.8 1.2h0m.1 .7h0m0 .8h0m.6 .9h0m.8 .7h0m1.1 .9h0m-2.4 1.1h0m-.4 .7h0m.4 .8h0m2.4 1.1h0m-2 1.3h0m1.9 .5h0m.7 .9h0m-2.3 .8h0m2.3 .6h0m-1.8 1h0m1.2 .8h0m-1.1 1.2h0m-.2 .7h0m0 1.2h0m.5 1.1h0m.1 .9h0m-.1 .7h0m-1.7 1.2h0m2.9 .8h0m-3.2 1.3h0m2.3 1h0m-.6 1.2h0m-.6 .7h0m1.5 1h0m-.3 .7h0m.1 1.1h0m-.8 .6h0m.5 .7h0m-1.6 .9h0m.5 1h0m.1 1.1h0m1.8 1h0m-.3 .6h0m.8 .6h0m-.8 .6h0m-2 .8h0m1.2 .9h0m-1.4 .8h0m.7 1h0m.3 1.3h0m-.6 .8h0m1.3 1.2h0m-.5 6.8h0M573.2 608.5h0m.7 1.7h0m-.5 5h0m1.2 3.2h0m-1.4 2.7h0m.6 3.5h0m1.1 5.2h0m-.8 2.5h0m-1.1 3.2h0m1.9 3.3h0m-.7 2.7h0m-1.1 4.3h0m.1 5.2h0m1.3 2.7h0m-.8 1.7h0m.2 2h0m-.7 1.7h0m-.1 2.4h0m.2 1.9h0m-.1 3.6h0m.6 4.7h0m-.4 2.6h0m-.4 4.8h0m.1 4.4h0M580.7 558.6h0m-1.1 11.2h0m1.3 4.2h0m.1 8.8h0m-.5 6h0m-.1 5.3h0m-.3 6.8h0m.7 2.2h0m.4 1.7h0m-1.3 3h0m.6 1.7h0m.5 3h0m-.7 2.6h0m-.3 4.3h0m1.3 4.6h0m.2 4.6h0m-.3 2.2h0m-1.3 3.3h0m.9 4.7h0m-.2 4h0m.7 1.6h0m-1.3 2h0m-.2 3.3h0m1.2 2.9h0m-.2 1.7h0m-.4 1.7h0m.5 3.5h0m-1.1 1.5h0m.5 4.5h0m-.1 2.7h0m.8 3.7h0m-.3 1.3h0m-.9 6.1h0m1.7 9h0M584.4 569h0m-.5 8.2h0m1.1 7.6h0m.2 8.9h0m.3 6.6h0m-1.6 2.6h0m1.6 2.2h0m.2 3.6h0m-2.3 3.1h0m1.3 1.6h0m-.8 1.8h0m-.6 1.4h0m.3 3.2h0m.3 3.6h0m-.1 3.6h0m.3 2h0m.2 1.2h0m-1.5 2.2h0m1.3 3.7h0m2 1.1h0m-2.4 1.9h0m-.6 1.2h0m1.7 3.2h0m-1.2 2.6h0m2.5 2h0m.1 2.2h0m-3 3.7h0m-.3 3.6h0m2.7 3.2h0m-.9 3.2h0m-1.4 3.5h0m.4 2.7h0m-.3 2.3h0m1.4 3.2h0m.1 3.4h0m1 2.9h0m-1.2 3.5h0m1.3 2.1h0m-2.9 2.2h0M598.5 607.4h0m-.5 4.7h0m.2 5.9h0m-.7 3.7h0m-.3 5.2h0m.7 2.3h0m-.8 5.3h0m1.3 4.8h0m-1.6 2.4h0m.4 4h0m1.5 5.9h0m-.5 3.8h0m-1.3 4.6h0M602.5 547.8h0m-.1 8.5h0m.8 8.8h0m1 25.9h0m-.6 6.6h0m-.6 3.5h0m.2 5h0m.2 5.8h0m.2 4h0m-.8 7.7h0m-.5 4.1h0m.1 2.8h0m1.7 4.6h0m.3 6.1h0M633.8 581h0m-.5 1.6h0m.6 2.6h0m-.2 1.9h0m-.1 3h0m-.9 3.1h0m1.5 4.4h0m-1.4 3.9h0m2.1 3.5h0m-.4 3.5h0m.5 1.4h0m-2.2 2.4h0m2 2.6h0m-2.1 2.4h0m.5 1.8h0m1.3 1.3h0m-1.5 1.7h0m2.1 1.4h0m0 1.5h0m.3 1.3h0m-1.9 .8h0m.9 1.2h0m-.4 1.6h0m.1 1.1h0m.2 1.1h0m-2.4 1.3h0m3.1 .9h0m-.4 .6h0m-.5 .6h0m-1.4 1.2h0m-.1 .8h0m1.1 1.1h0m-.7 1h0m2.2 1h0m0 1.1h0m-1.5 .7h0m-.7 .9h0m-.6 1.1h0m2.2 1h0m-2.7 1.3h0m1.7 .7h0m-1.2 1.3h0m.8 1.1h0m1.9 1h0m-2.1 .6h0m-.7 .7h0m2 .7h0m-2.1 1h0m1.4 1.2h0m1.2 .6h0m-2.2 1.2h0m2.1 1.3h0m-2.9 .7h0m3 1.2h0m-.2 .6h0m-.5 1.1h0m1.2 1.2h0m-.5 .8h0m-1.9 1.2h0m1.4 1.1h0m-.5 1.2h0m-1.1 .7h0m-.4 1h0m2.7 1.2h0m-.7 .7h0m-2.1 1.1h0m2.4 1.1h0m-2.4 .8h0m2.4 .8h0m.1 .9h0m-2.5 .6h0m2.8 .9h0m-2.9 .8h0m0 1.6h0m0 2h0M643.8 579.1h0m-.9 2.8h0m-.2 1.6h0m.9 2.3h0m0 3.9h0m-.2 3.3h0m-.6 1.9h0m-.3 2.5h0m-.1 4.1h0m.1 2.5h0m.4 1.5h0m1.5 1.5h0m-1.6 2.5h0m1.4 1.9h0m-2 1.2h0m.8 1h0m-1.2 2.2h0m2.9 1.5h0m-2.1 1.7h0m1.7 2.3h0m-2.6 1.5h0m2.1 2h0m-.3 2.5h0m-.4 1.3h0m-.3 1.3h0m1.6 1.6h0m.1 2.5h0m.1 1.7h0m-.2 1h0m-.1 1.9h0m.4 1.6h0m-.5 .8h0m-1.6 2.3h0m-.6 2.3h0m.9 2.2h0m-.9 1.5h0m1.8 2.3h0m.8 .9h0m-2 1.2h0m.7 1.5h0m1.2 2.5h0m-2 1.9h0m-1 1h0m1.8 1.7h0m1.3 1.6h0m-2.1 1.5h0m-.6 1.6h0m1.4 2.5h0m-.6 1.8h0m-.3 1.2h0m.4 1.7h0m.4 2.6h0m-1.7 1.2h0m1 1h0M646.4 583.4h0m.5 4.2h0m.2 3.3h0m-1 1.6h0m1.3 3.8h0m.5 2.8h0m-1.3 4.3h0m.9 2h0m-2.1 1.2h0m0 1.5h0m2 2.1h0m-.6 1.2h0m-.9 1.1h0m2.2 1h0m-.4 1.5h0m.3 1.4h0m-.5 1.8h0m-.3 1.4h0m1.4 1h0m-1.5 1.9h0m-1.5 1.9h0m.5 1.3h0m-.8 2.2h0m3 1.5h0m-.6 2.1h0m-1.6 1.2h0m.2 2h0m.2 2h0m.7 2h0m1.5 2.2h0m0 1.4h0m-.4 .7h0m-1.1 .8h0m.7 1.4h0m-1.9 1.3h0m1.2 2.1h0m-.2 2h0m.9 .8h0m-1 1.1h0m-.7 .7h0m1.7 1.9h0m-1.1 1.9h0m.8 2h0m-.5 1.1h0m.7 1.7h0m-1.4 1.1h0m-.8 1.3h0m2.2 1.3h0m-1.9 1.8h0m-.2 2h0m.1 2h0m.4 .9h0m0 1.7h0m2.3 2.2h0m-.6 1.2h0m-.7 2h0m1.3 1.2h0M664.6 576h0m-.3 3.6h0m1.6 4.2h0m-.2 2.1h0m-1.8 3.6h0m.6 6.5h0m-.3 3h0m0 3.9h0m.3 2.9h0m.4 4.9h0m.2 3.5h0m.7 1.8h0m.7 2.2h0m-1.3 2.8h0m-.8 2.1h0m2 1.4h0m-2.8 2h0m2.8 2.4h0m-.7 1h0m-.6 1.2h0m-.6 1.9h0m1.1 1.4h0m-.1 1h0m1.2 1.2h0m-.9 .9h0m-1.6 .7h0m-.5 .8h0m.1 1.1h0m-.3 1.4h0m2.8 1.1h0m-2.3 .7h0m.9 1.2h0m-.5 1.3h0m2.2 .8h0m.1 .8h0m-2.8 1.3h0m2.7 .9h0m-.3 .7h0m-.4 1.1h0m-2.3 1h0m0 1.3h0m2.2 1.1h0m-.1 .8h0m.2 .8h0m.7 .6h0m-.5 .9h0m0 .9h0m-.9 .7h0m-.2 .6h0m1.3 .6h0m-1.6 1.1h0m1.9 1.3h0m-3.1 1.2h0m2.3 1.1h0m-2.5 1h0m1.5 1.3h0m1.3 1h0m-2.8 .7h0m.9 1.3h0m-.5 .5h0m2.2 1.3h0m-2.2 .7h0m1.9 1.3h0m-1.9 .9h0m2.9 .9h0m-1.9 .6h0m2.1 .6h0m-.2 .6h0m-.8 1.2h0m-.1 .8h0m-.7 1.3h0m0 1.3h0M697.8 574.4h0m-1.3 5.5h0m.4 4.2h0m.4 3.9h0m-.3 3.3h0m1.8 2.2h0m-3.5 1.5h0m1 1.6h0m.4 1.2h0m1.8 1.1h0m-.1 1.6h0m-.6 1.7h0m-1.5 1.6h0m-.4 1.6h0m1.4 1.2h0m-1.5 1.4h0m2.4 .9h0m.5 1.3h0m-2.7 .7h0m1.8 .7h0m-.3 1.1h0m-.4 1.1h0m1.4 1h0m-.9 1h0m-.6 1h0m.3 1.2h0m-.6 .6h0m.1 .9h0m-.3 .9h0m.2 .9h0m2 .8h0m-3.4 .6h0m1.3 1.1h0m.7 .9h0m-1.2 .8h0m2.2 .6h0m-2.1 1.2h0m.2 .9h0m2 .6h0m-2.3 1.2h0m1.6 .8h0m-.8 1.1h0m-.9 .8h0m2.3 1.2h0m-2.7 1.2h0m3.1 1h0m-1.8 1.1h0m-1.5 .6h0m0 1.1h0m2.2 1.4h0m.8 1.5h0m-1 8.2h0m-.1 1.9h0m-1.2 2.3h0m1.7 2.6h0m-1.8 1h0m1.3 1.1h0m-.5 1h0m-.9 1.3h0m.5 1.1h0m2.2 1.3h0m-1.2 .8h0m-.7 .6h0m.8 1h0m-2.2 .8h0m1.9 .7h0m-.9 .7h0m2.1 1h0m-2.3 .9h0m.1 1h0m-.4 1.5h0m1 1.2h0M713.3 530.5h0m.1 3.6h0m.4 4.9h0m0 7.7h0m.8 24.5h0m-.8 8.7h0m-.7 4.1h0m1 3.4h0m-.5 2.5h0m-.9 1.5h0m.8 2.3h0m.4 1.8h0m-1 1.5h0m.5 .9h0m.8 1.5h0m.6 .7h0m-2.4 1h0m.6 .9h0m1.2 1.3h0m-1.1 .8h0m.1 .8h0m1.8 .9h0m-.3 1.1h0m-.1 1.2h0m-2.2 .6h0m.7 .7h0m2.1 1h0m-1.5 1h0m2 .7h0m-2.3 1.1h0m2.3 .6h0m-.4 .7h0m-.7 .7h0m.8 .8h0m-2.8 .8h0m2.5 .7h0m-.6 1.2h0m-1.3 1.1h0m-.7 .8h0m-.1 1.2h0m1.1 1.1h0m.3 .6h0m-.7 1.3h0m1.4 .7h0m-.5 1h0m1.3 .8h0m-2.5 .8h0m1.2 1.1h0m.2 1.7h0M718.9 539.2h0m.8 2.5h0m-1.1 2.4h0m.8 11.9h0m-1.7 3.5h0m2.6 2.2h0m-2.7 2.7h0m2.5 2.5h0m-2.3 1.8h0m.5 2.1h0m-.5 1.2h0m-.1 1.4h0m1.5 1.4h0m-.5 1.5h0m-1.2 1.7h0m3.1 1.1h0m-.1 1.6h0m-1.4 1.3h0m.2 1.4h0m-1.2 .7h0m2.3 .7h0m-1.7 .8h0m-1.1 1h0m2.5 1.1h0m.3 1.2h0m-2.7 .7h0m2 1.2h0m-1.3 .8h0m1.8 .7h0m-.1 .9h0m-1.7 .8h0m1.5 .9h0m-1.4 1.2h0m.2 1.1h0m1.2 1.2h0m-1.4 .9h0m1.9 .8h0m-2.1 1.1h0m-.4 .7h0m-.6 1.2h0m1.8 1.2h0m0 1h0m.1 .8h0m1.3 .6h0m-2.8 .7h0m1.8 1h0m.2 1.2h0m-2.3 1.2h0m.7 .6h0m-.4 1.1h0m2.3 1h0m-.9 .6h0m.8 1.2h0m-1 .9h0m1.8 .8h0m-1.1 1.1h0m.2 .8h0m.3 .9h0m.3 .8h0m-1.6 1.1h0m1.3 .9h0m.6 1h0m-.3 .5h0m-1.4 1.1h0m-1.3 1.2h0m2.1 .9h0m-1.3 1.6h0m1 2.2h0m-1.4 7.2h0m.5 5.4h0m.3 3.7h0M724.7 587.8h0m-.8 4.3h0m.3 3.1h0m.8 3.4h0m-.5 6h0m-1.4 5.4h0m.6 2.3h0m.1 2.4h0m.9 6.1h0m-1.3 6.1h0m-.4 2.7h0m-.6 2.4h0m.9 2.5h0m.9 2.5h0m-.9 2h0m1.4 1.9h0m-.8 1.7h0m-.7 1.3h0m.7 .7h0m-1 1.3h0m2.5 1.3h0m-.3 1.3h0m-2.3 .9h0m2.1 .8h0m-2.3 1.2h0m.9 .6h0m.9 .8h0m.8 .6h0m.3 .8h0m-2.2 .8h0m2.4 .7h0m-.5 1h0m-1 .6h0m1.5 1.1h0m-3.1 1.3h0m3.2 .8h0m-.2 1h0m-3.3 .7h0m.8 1.2h0m.4 1h0m2.1 1.1h0m-.2 1.7h0m-.2 1.4h0m-1.5 1.2h0m0 4.7h0m-.3 4.4h0M739.5 599.3h0m0 5.9h0m.6 4.8h0m-.6 2.4h0m1.5 6.2h0m0 3.9h0m.3 6h0m-1.4 4.2h0m1.5 4.1h0m-.6 5h0m-.6 5.5h0M748.3 595h0m0 2.2h0m-1.2 1.6h0m-1.4 2.7h0m1.1 3h0m-.1 1.6h0m0 2h0m-1.2 1.1h0m.2 1.9h0m2.4 1.3h0m.3 1.9h0m-3.2 1h0m2.2 1.6h0m-2.1 1.1h0m.8 1.1h0m2.6 1.2h0m-3.2 .8h0m.1 1.2h0m1.2 .7h0m-.4 1.4h0m.5 .8h0m-.3 .7h0m-.2 1.1h0m-.5 1.1h0m1.6 .6h0m1 .9h0m-.6 .6h0m-1.4 1.1h0m.9 .6h0m-.5 1.2h0m.8 .9h0m-1 1h0m.2 .7h0m1.5 .9h0m-1.2 1.3h0m-1.2 .8h0m1.9 1h0m-.2 .8h0m-1.1 1.3h0m.2 1.2h0m1.5 1.1h0m-1.9 .7h0m-1 1.3h0m1.5 .7h0m.6 1.1h0m.1 1.3h0m-2.1 .5h0m1.3 .6h0m.3 .6h0m-1.2 1h0m.8 1.2h0m-.2 1.3h0m.7 1h0m.8 .7h0m-1.9 .6h0m2.3 .8h0m-3.1 1h0m2.1 1.1h0m-1.8 1.9h0m1.5 7.3h0m-.2 3.6h0M758.9 599.6h0m-.5 4.4h0m-1.4 2.1h0m1.4 4.8h0m-.8 4h0m1.3 2.6h0m-1.9 3.6h0m.7 2.9h0m1.3 1.9h0m-.3 5h0m-.9 1.6h0m.7 2h0m.1 4.7h0m-1.4 4.6h0m-.1 1.6h0m1.6 4.9h0m-1.3 3.5h0m-.2 4.9h0m-.3 2.8h0m.9 5.4h0m.9 4.5h0m.4 3.8h0m-.1 9.7h0m-.5 2.1h0M766 584h0m2.4 2.5h0m-2 1.7h0m2 1.7h0m-1.1 2.4h0m.3 2.2h0m-1.3 1.7h0m1 2.3h0m-1.4 2.2h0m1.6 2h0m-1.2 1.6h0m-1.2 1.4h0m.8 .8h0m-.9 .9h0m2.4 1.4h0m-1.9 1.2h0m2.3 1.3h0m-2.2 1.2h0m.6 1h0m-.9 .8h0m1.8 1.2h0m-1.7 1.3h0m1.2 .7h0m-.7 .6h0m.6 1h0m.4 1.2h0m0 1h0m-.8 1.2h0m2.2 .5h0m-3 1.2h0m.3 .6h0m-.3 1h0m1.3 .6h0m-.9 .6h0m-.2 .8h0m.2 .6h0m.3 .7h0m.1 .8h0m-1.2 .8h0m2.6 1.2h0m-2.7 .9h0m3.2 .8h0m-2.5 .9h0m2.5 1.1h0m-1.4 .7h0m-1.4 .9h0m1.8 .8h0m.1 1.1h0m-.9 1h0m-1.3 .6h0m3 1.2h0m-2.8 1.2h0m.3 1.1h0m.1 .8h0m2.2 1.2h0m-1.5 1.2h0m-.5 1.3h0m1.5 .9h0m-1 .8h0m1.5 .6h0m-2.4 .7h0m1.8 .7h0m-.4 1.1h0m.8 1.2h0m-.8 .7h0m-1 .6h0m-.6 .7h0m2.9 .8h0m-2.9 1.1h0m1.8 .7h0m-2 .9h0m1.9 .6h0m-1.7 1h0m.6 1.2h0m1 1h0m1.5 .8h0m-1.9 .8h0m1.5 1h0m-.2 1.3h0m-.2 .9h0m.9 1h0m-.8 1.3h0m-.7 .7h0m-1.2 .9h0m0 1.1h0m1 1.1h0m.7 1.1h0m1.1 1.6h0m-2.3 9h0M773.4 584.9h0m-1.3 3.3h0m.2 1.6h0m-.3 3.7h0m.4 1.9h0m-.7 1.9h0m.4 3.3h0m.4 3.5h0m-.9 3h0m.9 1.7h0m-.6 5.3h0m.1 2.9h0m.4 4.5h0m-1.1 4.6h0m.5 2.1h0m.4 3h0m1.2 3h0m-.8 3.3h0m.1 5.3h0m.4 3.9h0m-1.7 2.8h0m1.1 5.3h0m-1 3.8h0m.6 4.4h0m-.2 4.1h0m.2 5.1h0m1.2 2.6h0m-1.4 2.5h0M784.2 544.4h0m1.4 4.8h0m-.8 3.7h0m.7 9.2h0m-1.9 15.9h0m.9 6.3h0m.4 4.7h0m0 3.9h0m-1.2 2h0m-.3 2.2h0m2.9 1.4h0m0 1.8h0m-1.4 1.2h0m-1.3 1.4h0m2.9 1.1h0m-1.5 1.4h0m1.3 1.3h0m-1 1.4h0m1 .6h0m-2.2 .7h0m.9 .7h0m-.1 1h0m-1.2 .9h0m1.4 1.1h0m1.1 .8h0m.3 1.2h0m-3.1 1.3h0m1.4 .8h0m1.1 .8h0m-2.2 1.2h0m3 .9h0m-1.9 1.3h0m0 .6h0m1.2 .9h0m-1.8 .7h0m-1 1.3h0m.3 1h0m1.2 1.1h0m-.7 1.3h0m0 1.2h0m-.5 .6h0m1.1 .6h0m-.1 1.2h0m-1.2 1.1h0m1.8 1h0m.2 .6h0m-.9 .9h0m1.3 1.1h0m-2.1 .7h0m.5 .6h0m2.6 1h0m-.4 1.3h0m-.2 .6h0m-1.2 1.1h0m.5 1.3h0m-1.4 .7h0m1.4 .6h0m.9 1h0m-3.1 .6h0m.9 1.3h0m2.2 .7h0m-.2 .7h0m-.9 1.2h0m-2 1h0m2.2 1h0m-.3 1.1h0m-1.1 .7h0m-.5 1h0m.6 .6h0m1.1 1.2h0m1.5 .8h0m-2.6 1h0m2.2 1h0m-1.5 .8h0m2 1h0m-2.9 1h0m.5 1h0m1.4 .9h0m-.8 .6h0m.4 .7h0m-.5 1.2h0m-.7 1h0m.8 .8h0m-1 .9h0m1 1.1h0m-.9 .9h0m2.3 1.1h0m-2.3 1.3h0m1.4 .6h0m.8 .6h0m-1.9 1h0m1.3 .9h0m-1.2 .7h0m1.2 1.1h0m-2.1 1h0m.5 .7h0m1.4 .6h0m1 1h0m0 .9h0m-1.4 .9h0m-.2 .8h0m.1 1.4h0m-.5 .8h0m.9 1.2h0m-.5 1.8h0M789.9 585h0m-2.6 4.5h0m2 6.5h0m-.3 4.5h0m-.2 1.9h0m.6 3.5h0m-1.8 1.3h0m1.6 2.5h0m.5 1.2h0m.6 1.9h0m-.2 1.3h0m-1.2 .7h0m-.5 1.3h0m1.9 .7h0m-3.1 1.1h0m2 .6h0m.2 1.3h0m-1.8 1.2h0m.3 .9h0m-.2 .8h0m-.3 .9h0m2.1 1.1h0m.5 1.2h0m.3 .6h0m.3 1h0m-3.1 .9h0m.3 1.1h0m1.3 1.3h0m-.1 1.2h0m.6 .8h0m-.7 1.1h0m-.2 .7h0m-.7 1.1h0m.9 .7h0m-1.5 1h0m3.3 .8h0m-.7 .7h0m-2.5 .8h0m2.8 .9h0m-2.9 1.1h0m2 1.1h0m.2 .9h0m-1.7 1h0m-.2 1h0m2.6 .8h0m-1.3 1h0m0 1.1h0m.2 .8h0m-.7 .6h0m2.3 .6h0m-1.2 1.2h0m.7 .7h0m-.2 .7h0m-.7 1.1h0m-1.2 1.1h0m1 1.2h0m1 1.1h0m-1.5 .7h0m-1.2 .8h0m2.2 1.2h0m-.5 1h0m-1.7 1.2h0m2.2 .8h0m-.7 .9h0m-1 .8h0m.4 1h0m2 1.3h0m-2.2 1.3h0m-.6 .9h0m-.1 .8h0m3.1 .9h0m-2.1 1.2h0m2.1 .7h0m-.4 .6h0m-2.8 1.2h0m2.1 1.3h0m-.8 .8h0m.4 1h0m1.3 1.2h0m-3.2 .8h0m2.3 1.2h0m-2 1h0m2.9 .6h0m-1.5 .8h0m-1 1.3h0m-.5 1h0m2.5 1h0m0 .8h0m.3 1.9h0m.4 2.2h0M793.7 566.6h0m-.4 8.1h0m-1.5 17.3h0m.6 4.2h0m1.6 5.2h0m.8 2.7h0m-3.4 1.8h0m.1 2.2h0m1 3.2h0m1.8 1.7h0m-.8 1.7h0m-.6 1.5h0m-.7 1.9h0m.7 1.3h0m-1.2 .8h0m2.4 1.1h0m-2.7 .9h0m.3 1.3h0m-.3 1.3h0m.3 1h0m1 .8h0m.1 1.1h0m-.2 .8h0m-.4 1h0m-.3 1.2h0m1.3 .7h0m.6 .8h0m-.2 .6h0m.9 .8h0m-1.7 .8h0m.3 .8h0m.5 .7h0m.1 .9h0m-.9 .8h0m1 .9h0m-1.1 1.1h0m-1.1 .6h0m.3 .6h0m1.7 .7h0m.9 .8h0m-2.4 .8h0m-.4 .6h0m1.6 1.1h0m.8 .7h0m-1.4 1.1h0m.9 1h0m-2.1 .9h0m3.1 .8h0m-1.1 .8h0m.5 .7h0m-1.5 1.2h0m.5 .8h0m-1 .7h0m1.7 .7h0m.9 .9h0m-.3 1.3h0m-.1 1.2h0m-2.5 .6h0m2.6 1.3h0m-.9 1h0m-.7 .9h0m.5 .6h0m-1.6 .8h0m1.7 1.2h0m-1 1.2h0m-.1 1h0m-.2 1.2h0m1.2 1h0m-1.7 .8h0m1.6 .9h0m-1.2 1.2h0m.4 .6h0m-.3 1.2h0m-.7 1h0m2.4 .6h0m-2.1 1h0m3 .9h0m-1.4 .8h0m-.2 .9h0m1.4 .6h0m-2 .9h0m-.5 .8h0m2.3 1.3h0m-.8 .8h0m-1.5 1.1h0m1.9 .9h0m-.6 1.1h0m-1.9 1.1h0M799.2 568h0m.1 9.2h0m-1.4 6.1h0m1.1 8.7h0m-1.6 3.7h0m1.5 3.2h0m-.2 1.8h0m.6 1.4h0m.4 1.5h0m0 1.4h0m.1 2h0m-1.5 2.3h0m.3 1.8h0m1.6 1.9h0m-.8 1.6h0m1.1 1h0m.1 1.6h0m-.4 1h0m0 1.2h0m-1.4 1.3h0m1.3 .9h0m-1 1.1h0m-1.8 1.2h0m1.6 .6h0m1.3 .6h0m.2 .6h0m-2.7 .7h0m1.9 1.1h0m-.3 .9h0m1.3 1h0m-1.5 .9h0m-.4 .9h0m-1.1 1h0m2.9 1.1h0m-1.3 1.1h0m-1.6 .9h0m1.5 .6h0m1.2 1.2h0m-.4 .7h0m-1 1.1h0m-1 1.2h0m1.2 .8h0m-.3 1.1h0m1.5 .8h0m-1.6 .8h0m.2 .8h0m-.4 1h0m.5 1.1h0m1.7 .5h0m-1.5 .8h0m-1.3 1.3h0m0 .6h0m2.4 .6h0m-2.9 1h0m1.6 .7h0m-.7 .7h0m.5 1.2h0m.6 .8h0m-.3 .6h0m-1.6 1h0m.8 1h0m1.1 1.1h0m0 1.2h0m-1.5 .7h0m2.2 1.1h0m-1.4 .6h0m.2 .8h0m.3 1.2h0m.8 1.1h0m-.6 .7h0m-.5 .9h0m.7 .9h0m.6 .7h0m-1.9 .7h0m2.4 1.1h0m-.1 .9h0m0 .5h0m-3.3 .7h0m.5 1.2h0m-.6 1.1h0m1.3 .6h0m.4 .6h0m1 .8h0m.8 1h0m-2.9 1.1h0m2.6 1.3h0m-1.3 1h0m-.7 .8h0m-.5 1h0m.5 1.7h0M811.7 580.1h0m0 2.2h0m-.2 9.7h0m.2 2.3h0m.1 2.4h0m-2.1 2.6h0m2.2 1.9h0m-.4 1.3h0m.3 2.1h0m-.9 1.5h0m1 1.8h0m-.9 1h0m.3 1.3h0m-1.4 1.2h0m2.5 1.1h0m0 1.1h0m-2.2 1.6h0m-1 1.2h0m2.3 1.6h0m-.4 .7h0m.5 1.1h0m.9 .8h0m-3 1.1h0m2.9 1.2h0m-.6 .8h0m.6 1.2h0m-.2 .6h0m-.1 .8h0m-1.2 1h0m1.2 1.2h0m.6 1.3h0m-.9 1h0m-1.2 1.1h0m.4 .9h0m-.9 .7h0m2.1 1.2h0m-.5 1.1h0m-.4 .9h0m-2.1 1h0m3.5 .9h0m-1.8 .7h0m-.8 .6h0m-.8 1.2h0m2.8 1.2h0m-2 1.2h0m.4 1.2h0m2.1 .9h0m-.9 1h0m-2.5 .6h0m.4 .7h0m.5 1.2h0m1.5 1.3h0m.2 .7h0m-.7 .8h0m1.1 .6h0m-.9 1.1h0m-.9 1.1h0m0 .6h0m.8 1.1h0m-1.1 .7h0m-.8 .9h0m1.5 .6h0m1.6 .6h0m-.5 .7h0m-1.6 1.1h0m2.5 1h0m-2.2 1h0m-.5 1.3h0m.2 1.2h0m0 .9h0m2.1 1h0m-2.5 1.1h0m1.9 1.3h0m.5 .9h0m-.9 .6h0m.6 1.2h0m-2.6 1h0m.8 .9h0m.4 1.2h0m.5 1.2h0m1.3 1.7h0m-2.1 6h0m1.5 2.3h0M829.8 490h0m1.5 1.9h0m.2 2.5h0m-1.4 2.6h0m-.1 1.2h0m-.5 1.6h0m.9 1.3h0m-.6 1.8h0m.4 1h0m-.5 .9h0m1.4 1h0m-1.5 1.7h0m1.6 1.6h0m-1.1 1.4h0m-.4 1.5h0m1.7 .7h0m-.1 .9h0m-1.7 1.3h0m1.2 .7h0m0 .7h0m-.8 1.2h0m-.1 .9h0m.9 1.3h0m-.1 1.1h0m.6 .6h0m-.8 1.1h0m0 1h0m.1 1.1h0m-.1 .8h0m-1 .7h0m1.7 .9h0m-1.3 1.1h0m.8 1h0m-.3 .9h0m.5 1h0m-.4 1.2h0m.4 1.1h0m-.9 .7h0m.2 .7h0m-.1 1h0m.9 1.3h0m-.1 .8h0m-1.1 1.2h0m1.6 1.1h0m-.1 .8h0m-1.2 1.1h0m1 .7h0m-.9 .9h0m.8 .9h0m.3 1.2h0m-1.4 1.1h0m-.4 .8h0m.7 .7h0m.3 .7h0m.3 .7h0m-.8 .8h0m.2 1.1h0m1 .6h0m.1 1.1h0m-1.3 .7h0m-.2 1.1h0m1 1.3h0m-1.2 .9h0m.7 .8h0m-.5 1.3h0m-.1 1h0m1.3 1.3h0m0 1.1h0m-1 .7h0m.6 .6h0m-.7 .6h0m1.4 .7h0m-1.2 1.1h0m-.3 1.3h0m.5 .7h0m-.6 1.1h0m.9 1.2h0m-.4 1.1h0m-.5 .6h0m.8 1.1h0m-.6 1.1h0m0 .8h0m1 1.1h0m.1 .7h0m-.6 .6h0m.6 .7h0m-.1 1.1h0m-1.3 .7h0m1.3 1.1h0m.3 .5h0m-1 1.2h0m.6 1h0m0 1.2h0m.2 1h0m-1.4 .9h0m.7 .9h0m0 .8h0m-.2 .7h0m1.2 1.2h0m-.1 .9h0m-.7 .6h0m.6 1.2h0m-1.3 1.2h0m.9 2.2h0M833.2 490h0m.4 1.4h0m.7 1.9h0m-.3 2.2h0m0 1.9h0m.5 1.2h0m-.8 1.7h0m-1 1.2h0m1.3 1.8h0m-1 1.6h0m1 1.4h0m.3 1.5h0m-.3 .8h0m-.2 .8h0m-1.2 1.2h0m1.2 1.1h0m-1.1 1.5h0m1.4 1.1h0m.2 .7h0m-1.1 1.4h0m-.4 .8h0m.5 .8h0m1.1 1.1h0m0 1h0m-.6 .9h0m-.5 .6h0m-.5 .5h0m-.1 1.2h0m.9 .8h0m-1 .9h0m1.3 .6h0m-1.2 .9h0m.5 .9h0m-.6 1.3h0m0 .7h0m1.8 .9h0m-1.7 1.2h0m.5 .9h0m.7 1.3h0m-.9 1h0m.6 .9h0m0 .8h0m-.3 .6h0m0 1.3h0m.7 1h0m0 1.1h0m-.1 .9h0m-.2 .7h0m-.8 .5h0m.3 .7h0m-.7 1.1h0m.2 1.2h0m1.7 1.3h0m-.2 1h0m-.8 1.2h0m-.8 1.2h0m1.2 1.2h0m-1 1.1h0m.7 .6h0m.4 1h0m-.3 .7h0m-.6 1.3h0m1.4 1.2h0m-1 1h0m0 .9h0m-.8 .6h0m.2 .8h0m.4 1.2h0m.4 1.2h0m.7 1.2h0m-.9 1.1h0m.2 .7h0m.6 .8h0m-.4 .6h0m-.5 .8h0m1.2 1h0m-1.3 1.3h0m1.2 1.2h0m-.8 1h0m.5 .7h0m-.1 .9h0m-.3 1.2h0m-.1 1.1h0m-.2 .7h0m-.5 .5h0m.4 1.3h0m.1 .7h0m.3 .6h0m-.8 .7h0m1.5 1h0m-.5 .6h0m-.4 1h0m-1 .8h0m1 .9h0m1 .8h0m-.3 .8h0m-.1 1.1h0m-.6 .9h0m-.8 1.2h0m-.2 .7h0m.9 1h0m1 1.2h0m-.9 1.1h0m.5 1h0m-1.2 1.7h0M820.4 556h0m1.5 3.6h0m-1.2 5.9h0m2.3 2.6h0m.5 2.4h0m-2.4 1.6h0m2.2 1.9h0m-.7 1.4h0m1.1 2.5h0m-3.3 2h0m.6 1.4h0m.1 .9h0m1.2 1.4h0m-1.1 .8h0m2.3 .7h0m-1.6 1.3h0m1.8 1.3h0m-2.6 .7h0m1.4 .7h0m-.4 1h0m0 1.1h0m.5 .8h0m-2.2 1.3h0m.3 .9h0m1.1 1.1h0m.8 1.2h0m-.3 1.2h0m1.4 1h0m-2.3 1.2h0m2.1 .6h0m0 .6h0m-.9 1.3h0m-.2 1.2h0m-.1 1.1h0m-1.8 .8h0m1.3 1.1h0m.4 .6h0m-1.1 .8h0m1.3 1.2h0m.7 1.1h0m-1.3 .9h0m-.3 .8h0m1.9 1.2h0m-.6 .7h0m-2.6 .7h0m2.8 1.1h0m.8 .8h0m-2.4 1.1h0m1.8 1.1h0m.3 .7h0m-2.3 .8h0m.9 .9h0m-.8 .9h0m1.2 .6h0m.2 1.1h0m.6 .9h0m-2.6 .5h0m1.5 .6h0m-1.2 .9h0m-.8 1h0m3.5 .5h0m-3.3 1.3h0m1.6 1h0m1.2 1h0m.4 1h0m-.1 1h0m-.3 .7h0m.3 .8h0m.2 1.4h0m-2.1 1.7h0m1.4 1.9h0M824.6 560h0m.7 5.1h0m-.4 2.8h0m-.8 3.1h0m1.9 2.1h0m-1.4 1.3h0m1.1 1.3h0m-2 .9h0m1.3 .9h0m1.2 .7h0m-.9 .9h0m-2.5 .9h0m2 .8h0m1.4 .6h0m-1.8 1h0m-.8 .6h0m1.4 .8h0m-.6 .7h0m.3 .7h0m-.1 1.1h0m.3 1.1h0m.2 .6h0m.3 .9h0m-1.4 1.3h0m-.5 1.2h0m-.8 1h0m1.6 1.2h0m.2 .9h0m-1 .9h0m1.5 1.4h0m-1.3 1.1h0M819.2 600h0m1.1 2.4h0m1.3 2.4h0m-2.9 3.4h0m.1 1.7h0m.4 1.9h0m2.2 2.2h0m-3.1 1.1h0m1 1.2h0m.5 1.1h0m1 1.3h0m.9 2h0m-1.2 1.3h0m-.1 .9h0m1 1.6h0m-2.6 .8h0m1.9 1.5h0m-2.3 1.2h0m-.1 1.1h0m2.8 1.2h0m-2.9 .8h0m3.6 1.1h0m-2.3 1h0m1.6 .8h0m-1.6 1.3h0m2.3 .7h0m-2 .9h0m1 .8h0m-.9 1.3h0m-.3 1.2h0m1.5 .8h0m-.2 1.3h0m.3 1.1h0m.4 1.2h0m-2 1h0m.5 .5h0m-1.9 .8h0m1.1 1.3h0m-1 1.3h0m2.7 .8h0m-.4 1.1h0m-2.1 .9h0m2.4 1.2h0m-.7 .9h0m-.2 1.1h0m-.1 .9h0m.9 1.1h0m.2 .8h0m-.4 .9h0m.8 .8h0m-.4 1.2h0m-1.5 .9h0m.9 .9h0m-.2 .5h0m-1.8 1.3h0m1.9 1.2h0m.5 1.3h0m.1 1.1h0m-2.3 .8h0m2.8 1.2h0m-2.4 1.1h0m1.1 1h0m-.1 .8h0m1.7 .9h0m0 1h0m-2.9 1.2h0m.8 1.3h0m.6 1.4h0m-.9 1.9h0M840.6 573.9h0m-.3 5h0m-.8 7.7h0m1.4 2.3h0m-.6 5.1h0m1.1 6h0m.4 2.2h0m-1 2.2h0m-1.3 2.7h0m0 1.9h0m.2 1.6h0m-1.3 2.3h0m2.6 2.3h0m-.5 1.6h0m.5 1.2h0m-1.4 1.8h0m-.6 1.3h0m2.3 .9h0m-1.5 1.4h0m-.9 1.2h0m.6 .7h0m-.6 1.1h0m.5 1.1h0m1.5 .8h0m0 .9h0m-1.3 1.2h0m1.6 .5h0m-.9 1h0m-.1 1.1h0m-2 1.2h0m2.2 1.3h0m1.1 .8h0m-1.2 1.3h0m.1 .5h0m-.1 .9h0m-1.6 1.2h0m.6 1.1h0m-1 .8h0m.9 .6h0m2.4 1h0m-2.4 .6h0m1.3 .9h0m.1 .8h0m-2.2 .6h0m2.4 1h0m-2.4 .7h0m0 1h0m2.3 1.3h0m-1 .6h0m-1.2 .6h0m2.9 .9h0m-.5 1.2h0m-.6 1h0m.3 .9h0m-1 1h0m-.3 1.1h0m1.3 .9h0m-1.2 1.3h0m.2 .8h0m-.1 .8h0m-.6 1.1h0m.3 .9h0m1.8 1h0m-1 .6h0m.5 .7h0m-1.5 1.1h0m.3 .7h0m2.1 .8h0m-.4 1.2h0m-1.2 .8h0m.1 .7h0m-1.4 1.3h0m.4 .9h0m.4 1.1h0m-.9 1h0m1.7 1h0m.7 1.2h0m-1.7 1.1h0m1.3 .7h0m1.2 .6h0m-1.6 1.1h0m-1.5 .8h0m2.5 1h0m-2.4 .6h0m1.3 1.1h0m-.2 1.1h0m1.6 1.3h0m-1.2 .8h0m-.3 1h0m.9 1.2h0m-1.6 1.1h0m1.1 1h0m-1.9 1h0m1.5 1.5h0m1.5 1.2h0m-.4 1.9h0M854.9 566.2h0m-1.3 3.6h0m.7 4.4h0m-1.3 4.8h0m.3 4.2h0m.5 .8h0m-1.6 2.4h0m.9 2.4h0m-.7 1.4h0m1.2 1.5h0m.3 1.4h0m.9 1.4h0m-1.4 2.3h0m2.3 1.1h0m-1.2 1h0m-.6 1.9h0m-1.2 1.9h0m2.8 1.5h0m-.2 1.7h0m-1.3 1.2h0m-.4 1.4h0m-1.3 .9h0m.4 .8h0m.6 1.4h0m2.4 .9h0m-1.9 1.2h0m-.3 .6h0m2.1 .8h0m.1 .9h0m-3.3 .7h0m.1 1.2h0m1.8 1.2h0m.9 .7h0m.5 .9h0m-.1 1h0m-2 1.2h0m1.2 1.1h0m-2.5 1h0m2.6 1.1h0m-2.4 .7h0m1.7 .6h0m1.1 .6h0m.5 .9h0m-2.1 1.1h0m0 .7h0m1.6 1h0m-1.9 1.2h0m1.2 .6h0m-.1 1h0m.6 1.2h0m.1 1h0m.4 .7h0m-3.1 1h0m2 .7h0m1.1 .8h0m-1.7 .7h0m1.7 .9h0m-.2 .8h0m-1.2 1.1h0m1.2 1.3h0m-1.2 1.1h0m-1.2 .6h0m-.4 1h0m.8 1h0m1.8 .9h0m-.3 1.2h0m-.8 .8h0m1.4 1.3h0m-3 1h0m-.1 1.3h0m2.2 .6h0m.3 .7h0m-2.1 1.1h0m3 1.2h0m-.1 1h0m-1.8 1.2h0m1.7 1.2h0m-3.1 1h0m2.2 .9h0m-1.9 .8h0m-.1 .9h0m-.1 .9h0m.4 1.1h0m-.4 1.2h0m1.9 1.1h0m0 .7h0m-.1 .9h0m-.5 .7h0m.5 1.2h0m-1 .7h0m-1 1.2h0m1.6 .9h0m-1.8 .9h0m3 .6h0m-1.9 .9h0m-.9 1h0m2.8 .9h0m-2.3 1.8h0m-.4 1.6h0M858.5 565h0m.3 4.1h0m-.7 6.2h0m-.9 2h0m0 4.7h0m-.2 5.8h0m2.1 2h0m-1 3.6h0m-.9 4.4h0m.5 3.3h0m.9 5h0m-1.3 4.9h0m1.6 3.8h0m-1.2 2.6h0m1.4 4.5h0m-.7 1.9h0m-.3 3.9h0m-1 5.4h0M876 640.6h0m-.8 5h0m.8 2.4h0m-.5 4.9h0m.9 5.1h0m-.6 2.9h0m-.9 5.3h0m.1 5.8h0m.6 6h0M883.2 649.8h0m-.7 3.4h0m.8 4.4h0m.2 3.6h0m-.9 2.8h0m-.7 2.4h0m-.3 3.1h0m1.3 4.3h0m.3 3.5h0m-.2 4.2h0m-.8 2.2h0m-.3 1.9h0M898.2 600.3h0m.2 4.4h0m.3 7h0m1 2.3h0m.1 2.3h0m-2.6 2.8h0m.9 1.8h0m-1.5 2.5h0m2 2.3h0m-.9 1.8h0m0 1.4h0m.1 1.7h0m1.6 1.6h0m-3.1 .8h0m.6 1.7h0m.8 1.4h0m-1.5 .9h0m2.2 1h0m-2.2 .6h0m3.2 .9h0m-2.3 1.2h0m.6 .8h0m-.5 1.1h0m.8 .9h0m-.3 .7h0m.3 1.1h0m-.5 .6h0m-.5 1h0m1.2 .8h0m-1.3 .8h0m-.5 1.2h0m.1 1.3h0m1.7 .9h0m.3 .9h0m-1.2 1.2h0m-.4 .6h0m1.5 1.2h0m-.8 1.1h0m1.1 .8h0m.8 1h0m-2.1 .7h0m2.1 1h0m-.5 .9h0m-.5 .7h0m.2 .8h0m-1.8 .7h0m1.9 .8h0m.7 1.1h0m-3.1 .8h0m.7 1.2h0m.9 1.1h0m-1.7 .9h0m2.6 .7h0m.5 .9h0m-1.3 1.1h0m-1.9 1.4h0m1.9 1.1h0m1.2 1h0m-1 1.3h0M912.3 556.8h0m-.6 3h0m1 4.8h0m.7 2.1h0m-1.6 2.3h0m.3 3h0m1.2 4h0m-.7 2.2h0m-.7 4.6h0m.4 3.3h0m.7 5.7h0m-1.5 4h0m1.6 3.3h0m-.9 3.7h0m-.8 4.7h0m1.4 4.6h0m-.6 2.3h0m-.3 5.6h0M915.4 600h0m.2 3h0m1.9 2.3h0m.3 2.7h0m-1.9 1.9h0m1.4 1.9h0m-.7 1.7h0m-.4 1.3h0m1.3 1.3h0m.1 1.5h0m-2.2 1.6h0m2.2 1.4h0m-.4 1.6h0m-.8 1.3h0m.8 .9h0m-.7 1.2h0m.4 1h0m-1.5 1h0m1.6 1.5h0m.2 1.1h0m-1.6 1.1h0m1.9 1.3h0m-1.7 1h0m-1.4 1h0m2.8 1.2h0m-1.3 1h0m-1.6 1.1h0m.8 .9h0m.4 1h0m1.9 1h0m-2.8 .8h0m2.6 .6h0m-1.4 .9h0m-1.2 .6h0m2.8 .5h0m-2 .6h0m.9 .9h0m.2 .7h0m1.2 1.1h0m-2.4 .6h0m-.1 .6h0m-.9 .7h0m.9 1.2h0m1.9 1.1h0m-2.8 1.1h0m3 1h0m-.9 1h0m.8 .9h0m-1.7 1h0m.4 .9h0m.7 .7h0m0 1.1h0m-.9 .6h0m-1 1.1h0m2 1h0m-1.3 .9h0m1.3 .6h0m-.3 .6h0m.4 1h0m.9 .6h0m-.4 1.1h0m-.5 .7h0m-.1 .9h0m-1 1h0m.1 1.3h0m1 1.1h0m.6 .9h0m0 1.4h0m-2.8 1.4h0M931.9 570.7h0m.6 4h0m-.1 7.6h0m-1.4 3.6h0m.1 6.5h0m1.1 1.6h0m.9 5.4h0m.1 3.7h0m-2 2.9h0m1.5 1.5h0m-.2 2.6h0m-.7 2.1h0m-.2 2.4h0m2 1.1h0m-.2 1.8h0m-1.6 1.9h0m.2 .9h0m-.4 1.1h0m-.5 1.4h0m-.1 1.4h0m2.2 .8h0m-.4 .7h0m-1.1 .8h0m-.6 .9h0m2.5 1.2h0m-2.8 1.2h0m1 .6h0m.4 1.1h0m1.6 1.2h0m-2.7 1.1h0m-.7 .9h0m2.5 .8h0m-2 .8h0m2.5 .9h0m-2.8 1.1h0m.4 .8h0m.7 1.2h0m1.7 .9h0m-1.6 .8h0m-.5 1.2h0m1.2 1h0m0 .8h0m.7 .9h0m-.4 .9h0m-.1 1h0m-2 .9h0m.7 .8h0m1.6 .5h0m-1.1 1h0m-1.5 1.1h0m2.4 .6h0m.5 .6h0m.4 .9h0m-2 1.2h0m.1 .8h0m.1 1.2h0m1.9 1h0m-1.8 1.2h0m0 1.1h0m-.3 .9h0m2.1 1.3h0m-1.6 1h0m0 .6h0m-1.1 1.2h0m0 1.2h0m.1 1.1h0m1.8 1h0m.2 .5h0m-2.1 1h0m1.1 .8h0m-1.4 1.1h0m.2 .6h0m.7 1h0m1.1 1.1h0m-.5 .8h0m.1 .7h0m-1.3 1h0m-.4 1.1h0m1.5 1.5h0m.4 1.9h0m.2 1.4h0M936.4 575.1h0m0 7.8h0m.6 4.1h0m-1.1 8.7h0m1.9 4.3h0m-2.9 4.9h0m1.1 3.6h0m-.9 2.7h0m-.8 4h0m1.4 3h0m-.6 2.6h0m-.1 1.9h0m2.3 1h0m-2 1.3h0m.2 1.9h0m-.8 1.3h0m2.7 1h0m-.3 1.4h0m-2.1 1.2h0m-.3 .6h0m1.5 1.1h0m.6 .8h0m-.4 .7h0m-1.7 .9h0m.2 1.1h0m2 1.2h0m-1.1 .8h0m-1.1 .7h0m.8 1.1h0m0 1h0m-.7 .7h0m1 1.2h0m1.5 .6h0m-2.3 .7h0m1.2 .7h0m-1.9 1.1h0m2.4 1.2h0m-1 1.2h0m-1.2 .9h0m2.8 .7h0m.1 .8h0m.1 1.2h0m-1.8 .6h0m-.4 1.2h0m-1 .7h0m1.9 1h0m-1.1 .7h0m-.3 1h0m2.5 1.2h0m-2.6 .8h0m.6 1h0m1.5 .6h0m-1.6 1h0m1.6 .7h0m-1.3 1.3h0m-.5 1h0m1.3 .9h0m.1 .7h0m-2 1h0m1.3 .6h0m.5 .7h0m.3 1h0m-.1 1.2h0m-1.8 1.1h0m2.9 1.2h0m-.3 1h0m-1.4 1h0m.1 .7h0m1.2 1h0m-1 1.3h0m-.6 1.2h0m.2 .6h0m1.3 .9h0m-2.7 .8h0m.6 1.2h0m1.3 1.7h0m-.1 1.2h0M942 558.3h0m-1.8 1.6h0m1.2 3.3h0m-1 6.5h0m.7 4h0m-.3 6.7h0m1 7.1h0m-.4 6.1h0m-1.2 4.4h0m-.1 7.5h0m-.2 3.4h0m1.8 3.9h0m-2.1 2.5h0m.8 2.6h0m1.2 2.1h0m-2.2 1h0m2.9 2h0m-2.3 1h0m2.2 1.2h0m.4 1h0m-.1 .8h0m-1.1 .6h0m.4 1.4h0m-1.3 1.3h0m2 1.3h0m-.5 .7h0m-2 1.3h0m2 .8h0m.5 1h0m-1.7 .9h0m-.6 .6h0m-.1 1.2h0m2 1.3h0m-1.8 .9h0m-.7 .6h0m3.1 1.2h0m-2.5 1.2h0m.6 1.3h0m1.7 .8h0m-.9 1.2h0m-2 .7h0m.5 .7h0m1.2 .7h0m-1.3 .8h0m.5 1.2h0m-1.3 .6h0m.1 .9h0m0 1h0m2.1 .9h0m-1.4 1h0m2.7 1.1h0m-.1 1.2h0m-2.1 1.3h0m.2 .9h0m-.9 1.2h0m1 .7h0m2 1h0m-3.6 .8h0m3.2 .8h0m-1.3 .6h0m1.1 1h0m-.8 .8h0m1.3 1.3h0m-2.3 1h0m1.4 1h0m-.2 1.1h0m.2 .8h0m-1.8 .8h0m1.2 .6h0m-1 .7h0m.3 .8h0m2.2 .8h0m-1.5 1h0m0 .8h0m-.1 1.2h0m-.6 .9h0m-.5 .7h0m.2 .6h0m.5 .7h0m-1.1 1.3h0m1.2 1.9h0M945.6 558.6h0m-1.4 3.6h0m.3 3.2h0m-.1 1.9h0m1.6 3.4h0m-1.5 4.1h0m-.5 10.3h0m.9 6.3h0m.7 8.4h0m-1.3 .2h0m-.3 3.7h0m.2 2.9h0m2.2 4.6h0m-2.2 2.3h0m1.1 3.9h0m-1.8 2.2h0m.5 1.3h0m-.6 2h0m2.7 1.7h0m-1.9 .8h0m1.2 1.3h0m.2 1.5h0m-1.2 1h0m.5 1.2h0m.2 1.3h0m.5 1h0m-.6 .9h0m.4 1.1h0m-1.1 1.3h0m2.4 .9h0m-1.5 1.1h0m-1.4 .8h0m.9 .9h0m-.6 .9h0m1.2 .9h0m.3 .6h0m-1.7 1.1h0m-.6 .7h0m2.3 .9h0m-.3 .9h0m-1.9 1h0m1.6 .6h0m.7 1.2h0m-1.6 .9h0m1.4 .6h0m-.9 1.2h0m-.4 .6h0m1.8 1.1h0m.4 .8h0m-3.1 .9h0m3.1 .7h0m-2.9 1h0m1.1 .8h0m-1.3 .9h0m1.8 1.2h0m-1.8 .8h0m3.3 1h0m-.3 1.1h0m-.7 1.2h0m-1.3 .6h0m.4 .9h0m-1.3 .8h0m2.2 1.2h0m-.7 .7h0m-1.2 1.2h0m.3 1.1h0m2.1 1.2h0m-1.5 1.3h0m-.2 .9h0m2.2 .8h0m.2 1.3h0m-1.8 1.2h0m1.5 1h0m0 .9h0m-2.3 1.2h0m1.5 .8h0m-1.6 .7h0m-.5 .7h0m3.2 1.2h0m-1.8 1.4h0m.7 1.8h0M948.2 559.8h0m.5 2.1h0m.6 2.6h0m-.9 2.1h0m1.5 3.4h0m-1.6 6.5h0m1.4 4.9h0m-1.3 6.7h0m.9 3.9h0m-1.2 3.4h0m1.5 5.8h0m-.3 3.6h0m-.9 3.1h0m1.5 1.7h0m-1.1 2.9h0m1.4 2.3h0m-.1 1.9h0m-2.8 2h0m1.5 1.7h0m1.1 1.3h0m-.6 .7h0m.5 .7h0m-1.2 .8h0m1.5 .7h0m-1.8 1.1h0m-.4 1.1h0m1.5 1.1h0m0 1.2h0m.3 1.3h0m-.4 .8h0m-1.1 1h0m1.9 .8h0m.6 1.2h0m-1.7 1h0m.7 .9h0m.9 1h0m-2 1.1h0m-1.2 .8h0m1.3 1.1h0m-1.3 .9h0m3 .9h0m-.5 .7h0m-.3 1.2h0m-1.5 1h0m1.2 1h0m-.2 1.3h0m1.4 .8h0m-2.1 1h0m-.7 1.1h0m2.7 .7h0m-.3 .9h0m-1.2 .7h0m1.2 .7h0m-1.5 1h0m-.6 .8h0m1.7 .7h0m-2.1 .8h0m1.2 .9h0m-.2 1.3h0m2.1 .8h0m-1.8 1.1h0m-.9 .8h0m.9 .7h0m-1.3 1h0m.2 .9h0m.6 1h0m1.6 1.1h0m-1.4 .8h0m-.6 .7h0m2.1 1h0m.6 .6h0m-2.2 1.3h0m1.1 .9h0m-1.1 .8h0m.4 1.1h0m.3 .9h0m-.3 .6h0m-1.1 .8h0m1.9 .9h0m-.7 1h0m-.3 1h0m-.7 1.3h0m1.2 .6h0m-.6 1h0m-.2 .9h0m1.7 .7h0m-1.9 1.2h0m.7 1h0m.9 .8h0m1 1.4h0m-.3 2.2h0M953.7 559.2h0m-.3 1.7h0m0 1.9h0m-1.3 1.5h0m.9 4.2h0m.6 3.4h0m-.2 2.8h0m-.5 3.5h0m-.5 3.2h0m.1 3.1h0m1.3 2.7h0m-.6 2.8h0m.4 7h0m1 3h0m-.4 4.8h0m0 2.4h0m-2.9 2.7h0m2.4 1.8h0m.9 1.8h0m-.4 2h0m-1.8 1.8h0m-1.2 1.6h0m.3 1.3h0m1.3 1h0m.7 .6h0m-1.5 1.2h0m2 .7h0m-2.7 1h0m3.3 .7h0m-2.4 .8h0m2.2 .9h0m-1.8 1.1h0m-1.3 1.1h0m1.2 .6h0m-.8 1h0m2.6 .6h0m-2.9 .7h0m.1 .6h0m1.8 .8h0m-1.1 1h0m.2 .9h0m-.8 1h0m-.4 1h0m.8 1.3h0m-.1 1h0m.3 .8h0m1.8 1.1h0m.7 1.2h0m-1.5 .8h0m-1 .9h0m2.5 .9h0m-.8 .6h0m-.5 .8h0m.4 .7h0m-1.5 .9h0m-1.1 .9h0m3.3 .7h0m-1.9 .6h0m-1.3 1h0m.6 1.3h0m.9 1.2h0m.6 1h0m-.4 .6h0m1 1.2h0m-.4 1.1h0m-.9 .6h0m-1.4 .9h0m.3 1.2h0m.6 .9h0m2.4 .7h0m-.8 1h0m-.6 1h0m-1.8 1.2h0m.6 .9h0m.6 1h0m-.6 1.2h0m2.5 .8h0m-1.8 1h0m1.1 .9h0m0 .6h0m.3 .8h0m.4 .6h0m-3.2 1.2h0m3.2 .6h0m-2.2 1.2h0m1 1.1h0m.4 .8h0m-2 .8h0m2.1 1.2h0m-1.1 .8h0m-.2 1h0m.6 .8h0m-1.6 1.5h0m1.4 1.2h0M955.9 574.5h0m.3 5.8h0m0 3.4h0m1.9 4.9h0m-1.6 3.4h0m1.2 5.3h0m.7 2.2h0m.3 2.4h0m-.3 1.9h0m-1.3 2.5h0m-.1 1.7h0m.2 2.4h0m-.1 2.5h0m-1.4 2.1h0m1.7 1.6h0m-1 1.7h0m1.7 1.1h0m-1.6 .9h0m1 1.3h0m-2.2 1h0m1.4 1.2h0m-.1 .7h0m1.6 .7h0m.5 1.1h0m-2.9 1.1h0m3 .8h0m-2.4 .6h0m-.6 .6h0m1.6 .8h0m.9 .6h0m-2.5 .9h0m1.3 .6h0m-.1 .8h0m-.5 .6h0m-1 1h0m2.7 .9h0m-2.5 1h0m-.2 1h0m-.3 .7h0m.6 .9h0m-.2 .8h0m.1 1.2h0m2.4 1.1h0m-.8 .8h0m.8 .8h0m-2.6 1.1h0m.2 1.1h0m.2 .9h0m1.7 .9h0m-1.2 1.1h0m.4 .6h0m.4 1.2h0m.8 1h0m.6 1.1h0m-.7 1.2h0m-2.2 1.2h0m2.1 .7h0m.5 1h0m-1.9 1.2h0m1.2 .6h0m-.6 .7h0m-.4 .7h0m.9 1.1h0m-2.1 1h0m2.3 1.2h0m-.3 1.2h0m1 1.1h0m-.9 1.1h0m-2.2 .6h0m2.9 1h0m-2.2 .9h0m2.2 .9h0m-2.5 1.1h0m.2 .7h0m.2 1.1h0m.6 1.2h0m0 .7h0m1.7 .7h0m-1.7 .5h0m-1.4 .9h0m3.5 .7h0m-2.1 1.2h0m1.8 1.5h0m-.7 2h0M964.5 563.2h0m.5 5h0m-.1 2.9h0m-1 5.7h0m-.4 6.3h0m.8 3.9h0m-1.2 3.4h0m1.5 2.9h0m-1.3 2.7h0m2.1 2.1h0m-.7 2.3h0m-.2 2.1h0m-1.6 1.6h0m2.8 1.4h0m-3.3 1.8h0m.7 1.1h0m-.2 1.6h0m0 1.4h0m2.8 .9h0m-1.4 .8h0m.6 .8h0m-.3 .7h0m1 .8h0m-1 .9h0m1 .5h0m-.1 1.1h0m-3.1 1.1h0m1.2 1.1h0m1.8 .7h0m-1.9 1.1h0m1 .6h0m-1.4 .6h0m-.3 .6h0m.4 1.1h0m0 1.3h0m1.6 1.1h0m-.4 1h0m.8 .7h0m-1.1 1.2h0m-1.6 .7h0m3.2 .8h0m-2.5 .8h0m-.9 .9h0m2.7 1.2h0m-2.7 .7h0m2.8 1.3h0m-2.1 1.1h0m1.5 1.2h0m1.2 .6h0m-2.8 1.1h0m1.4 1.2h0m-2 1h0m2.8 .7h0m-2.2 .6h0m1.4 .6h0m.7 .7h0m0 .9h0m.7 1.2h0m-2.2 .7h0m-.1 1.1h0m0 1.3h0m-.3 1h0m.1 1.1h0m1.6 .9h0m-2.1 1.1h0m.3 .7h0m1.6 1.1h0m.5 1.1h0m-1.1 .7h0m-.5 .6h0m-.4 1h0m-.1 1.1h0m1.7 .9h0m-.1 .7h0m-2.2 .9h0m2.1 .6h0m.1 1.2h0m0 1.2h0m.6 1.1h0m-1.1 1h0m-1 .7h0m-.5 .6h0m1.5 .7h0m-.6 4.8h0m1.2 5h0M971.7 501.3h0m.1 2.4h0m-.5 3h0m1.8 2.2h0m.1 6.3h0m-1.8 2.4h0m.7 6.2h0m.7 3.8h0m-1.2 41.2h0m1.3 2.9h0m-1.5 7.2h0m1.1 3.5h0M976 580h0m-.9 4.8h0m.6 2.8h0m-1 4.4h0m2.4 2.9h0m-1.7 2.6h0m1.6 2.8h0m-1.7 2.5h0m.5 1.5h0m.6 1.8h0m-.3 1.3h0m-.6 1.5h0m-.7 .7h0m-.3 .8h0m1.7 1.3h0m-.4 1.2h0m-.8 .9h0m.7 1.3h0m1.2 .8h0m.9 1.2h0m-2.1 .9h0m0 1.2h0m.2 .7h0m-.8 .8h0m.4 1.1h0m-.2 1h0m1.7 .7h0m-.3 1.1h0m-1.9 1h0m2.4 .9h0m-.9 1.2h0m-1.5 1h0m2.4 .6h0m-2.1 .5h0m1.6 .9h0m.6 1.1h0m-2.1 1.2h0m-.6 .7h0m0 .8h0m1.7 1.3h0m-1.9 .9h0m.7 1.3h0m-.2 1.1h0m-.2 .7h0m.5 1h0m1.6 1h0m-2.1 .7h0m.9 .9h0m-.1 .9h0m-.9 .7h0m1.9 1.1h0m0 1h0m-1.6 1h0m1.2 1.2h0m-1 .9h0m2.6 .8h0m-.6 .9h0m-.7 .6h0m-1.4 .8h0m.6 .8h0m.1 1h0m-.9 1.2h0m1 1.2h0m-.2 1.1h0m1.8 .8h0m-.6 1h0m0 1h0m.1 1.2h0m-1.4 1.3h0m1.9 .8h0m0 1.1h0m-1.7 .9h0m-.8 1.3h0m-.1 .7h0m.9 .7h0m.2 .9h0m-.5 .5h0m-1 1h0m3.1 .9h0m.1 1.2h0m-1.6 1.8h0m-1.6 1.1h0M974.2 586h0m-2.5 4.2h0m1.4 4.9h0m-1.4 3.2h0m1.6 2.9h0m1.1 2.8h0m-.2 1.4h0m-1.5 1.6h0m1.4 1.5h0m-2.6 1.5h0m.2 1.3h0m-.3 .8h0m1.4 1.1h0m-1.1 .7h0m1.5 1.5h0m0 1.4h0m.5 1.3h0m-2.3 .8h0m2.7 .7h0m-1.8 1h0m1.2 .7h0m-1.4 1.3h0m1 1.3h0m-1.2 .7h0m2.6 1.1h0m-2.4 .7h0m-.1 .6h0m.7 .7h0m.9 .8h0m-1.4 .7h0m-.4 .9h0m-.3 .5h0m2.1 .6h0m-.7 .6h0m.5 1.2h0m-.8 .8h0m-.2 .8h0m-.6 .6h0m.1 .7h0m-.3 .8h0m.3 1h0m1.8 .9h0m.2 1h0m-1.1 1.1h0m-1.4 .7h0m1.1 1.1h0m-1 .7h0m2.9 .7h0m-.2 .9h0m-2.1 1.2h0m2.3 .7h0m-1 .8h0m-.5 1.2h0m1.7 .9h0m-.1 1.2h0m-2.5 1.1h0m-.7 .5h0m1.9 1.3h0m1.4 1.2h0m.1 .7h0m-2.9 .8h0m3 .7h0m-2.3 1.3h0m1.7 .9h0m.2 1.2h0m-2.4 .8h0m2.6 .9h0m-.3 1h0m-1.3 .7h0m.3 1.3h0m.8 1.1h0m-.4 .9h0m-.9 1.1h0m1.3 .9h0m.7 1.2h0m-1.2 .9h0m.7 1.3h0m-1.4 1.2h0m1.2 1.5h0M982.8 562h0m1 2.1h0m-.5 4.6h0m.5 1.9h0m-.4 3.9h0m-.1 2.6h0m1 2.5h0m-.2 3h0m-1.1 3.7h0m1 2.7h0m.5 4.9h0m-1.4 2.2h0m-.2 1.9h0m1.2 3.1h0m-.3 5.1h0m-.5 2.1h0m-.2 2.1h0m.5 3.8h0m-.5 2.3h0m.8 5h0m-.7 3.9h0m1 2.7h0m-.3 1.6h0m0 5.3h0m-1.3 1.8h0m.3 4.5h0m1 3.2h0m-.8 4.2h0m1.4 4.2h0m-1.1 3.4h0M995.3 594h0m.2 5.5h0m.1 4.8h0m-1 2.4h0m-2 2.1h0m3 2.2h0m-2.3 1.8h0m2.4 2.6h0m-2.2 2h0m-1.1 1.9h0m0 .8h0m.7 1h0m.7 1.5h0m.2 1.4h0m-.6 .9h0m.4 .6h0m1.9 1.2h0m-3.1 1.3h0m2.6 .9h0m-2.8 .6h0m.1 .7h0m2.3 1.1h0m-2.4 1.3h0m2.7 1.1h0m-2.6 .7h0m2.5 1.3h0m-2.1 .6h0m-.1 1h0m-.1 .9h0m1.2 .6h0m1.3 1h0m-1.7 .5h0m.7 .6h0m-.8 .7h0m1.1 1.3h0m-.1 1h0m.3 .7h0m-2.2 1.3h0m.9 1.2h0m1.2 .7h0m-1.8 1.2h0m1.2 .7h0m0 .7h0m-1.7 1.3h0m.6 .9h0m1.4 .6h0m-.4 1.3h0m.8 1h0m1 1.2h0m-2.9 .8h0m1.6 1.2h0m-1.7 1.2h0m-.1 1.1h0m0 .7h0m1.1 .8h0m1.9 1.1h0m-1.3 .8h0m-.7 .9h0m-1.4 .7h0m2.6 .8h0m-.1 1.1h0m-1 .9h0m-.6 .7h0m1.2 1.3h0m-.2 .9h0m-.8 .9h0m.4 .8h0m1.7 1.3h0m-1.6 .7h0m1.8 .7h0m-1.7 .7h0m0 .6h0m-1.6 .8h0m1.7 .8h0m-.7 1.1h0m.1 .9h0m-.8 1.4h0M996 600h0m1.8 4.9h0m-.8 2.4h0m1.4 4h0m-.2 3.4h0m-2.2 2.8h0m1.9 2.6h0m.6 1.8h0m0 1h0m-1.3 1.4h0m-1.4 1.7h0m-.5 1.2h0m3.3 .7h0m-1.9 .9h0m1.9 .7h0m-.3 1h0m-1.4 .8h0m.4 .8h0m0 1h0m-1 1h0m-1 1.3h0m2.3 .7h0m.7 1.3h0m.3 .7h0m-1.3 .9h0m.1 1h0m1 1.2h0m0 .8h0m-.7 .8h0m-.2 .7h0m1.3 .7h0m-2.2 1.1h0m-1 1.3h0m1.9 1.1h0m-.6 .5h0m1.9 .7h0m-1.3 .6h0m-1.8 1h0m1.6 1.2h0m-1.2 1h0m.3 .7h0m-.5 .6h0m.7 .9h0m-.9 1.1h0m1.4 .7h0m-.8 1.1h0m-.6 .7h0m.9 .8h0m-.5 1.1h0m1.8 .9h0m-2.6 .7h0m3.2 1.2h0m-2.3 .8h0m-.2 .9h0m2.4 1.2h0m-1.8 1h0m2 1.2h0m-1 .7h0m1.2 .7h0m-2.1 1.1h0m-.4 1.1h0m.7 .6h0m-.2 .6h0m.5 1.2h0m-1.3 .9h0m1 1.2h0m-1.2 2h0M1013.8 594h0m-.9 4.3h0m1.3 3.7h0m-.8 2.6h0m2.2 3.1h0m-2.2 2.6h0m.7 1.4h0m-1.5 1.8h0m1.8 1.8h0m.4 1.5h0m-2.4 1.7h0m1.7 .9h0m.1 1.4h0m-.8 .9h0m.2 1.3h0m-.6 1.1h0m.9 1h0m1 .6h0m.9 1.2h0m-1.1 1.2h0m-1.5 .9h0m.5 1.1h0m-1.1 .8h0m2.2 1h0m-2.1 1.1h0m1.8 .7h0m.9 .7h0m-.9 1.2h0m-.3 .8h0m-.8 1.1h0m1 1h0m.6 1.3h0m-.8 1h0m.2 1.2h0m-1.1 1.1h0m.9 .6h0m1.5 .7h0m-.3 .8h0m-2.5 .8h0m.5 .9h0m1 1.3h0m-1.1 .7h0m.7 .6h0m-.7 .9h0m.5 1.1h0m.8 1.2h0m.6 .7h0m-2.2 .6h0m2.6 .6h0m-.4 .9h0m-2.7 1.3h0m-.2 1.2h0m2.8 1.1h0m.3 .8h0m-1.4 1.2h0m-1.2 .7h0m1.3 .6h0m-1.2 1h0m-.4 .9h0m2.1 .8h0m-.5 .7h0m1.3 .6h0m.2 .7h0m.1 1.3h0m-1 .7h0m1 .6h0m-3.4 1.1h0m.3 .6h0m3 .9h0m-2.2 1.1h0m-1.2 1.2h0m1.4 1h0m1.9 .9h0m.3 1.7h0M1017.4 596h0m-.5 3.4h0m.3 5.5h0m-.3 3.7h0m-1.7 2.4h0m.7 1.9h0m-.5 1.5h0m3.4 2.4h0m-.6 2h0m.1 1.2h0m0 1.2h0m-2 1.1h0m-.3 1.2h0m1.8 .9h0m.9 1.3h0m-2.2 1.2h0m.8 .9h0m1.2 1h0m.2 1h0m-1.9 .9h0m-.4 .5h0m-1.2 1h0m.4 .8h0m2.8 .8h0m-2.8 1.2h0m1.4 1h0m-.7 .6h0m.4 1h0m-1.3 .9h0m2 1h0m-.2 .7h0m1.2 1.3h0m-1.3 1h0m-.3 1.1h0m-.3 1.1h0m1.3 1h0m-.4 .9h0m-.9 .9h0m.3 1h0m-.2 .9h0m.9 .8h0m-1.6 1.2h0m1.2 1h0m.5 1h0m-2.4 .9h0m1.9 .8h0m1.4 1h0m-.9 1.1h0m.5 .8h0m.3 .6h0m-1.6 1h0m.4 1h0m-1.6 1.3h0m1.7 .6h0m-1.3 .7h0m1.1 1.3h0m-.6 .8h0m-.4 .7h0m2.6 .7h0m-2.2 1.1h0m2.2 .6h0m-3.2 1.2h0m1.7 1.2h0m-.4 1.3h0m-1.6 .9h0m.9 1.3h0m-.1 1.9h0M1023.4 582h0m1.4 6h0m-.5 5.1h0m-1.2 2.6h0m-.5 2.1h0m.7 1.9h0m-1.1 2.7h0m1.8 1.7h0m.7 1.2h0m.2 1.1h0m.5 1h0m-2.9 1.1h0m.4 .9h0m.4 .8h0m.2 1.5h0m1.4 .9h0m-2.4 .6h0m.9 1.2h0m-.5 .7h0m2.8 1.1h0m-.9 .9h0m-1.9 .9h0m.5 .8h0m1.7 .7h0m-1.5 .6h0m-1.3 1.1h0m2.1 1.3h0m-1.5 1h0m2.3 .7h0m-2.9 1.3h0m.6 1.2h0m1.4 .6h0m.9 .6h0m-2 1.2h0m.8 .6h0m-1.7 1.2h0m.3 1h0m.2 .9h0m1.3 .6h0m1.4 .8h0m-.7 1.2h0m-.3 .9h0m-.6 .8h0m-.2 1h0m1.6 .9h0m-.5 1.2h0m-1.5 1.2h0m-.3 .6h0m2 1h0m.5 1.1h0m-2.2 1.1h0m.6 .6h0m1.4 .8h0m-1.2 1.2h0m.7 1.2h0m-1 .9h0m1.3 1.3h0m.7 .9h0m-.8 .7h0m-1.6 1h0m.9 .6h0m-1.5 1.2h0m3 1.2h0m-1.6 .7h0m-.8 .9h0m-.2 .7h0m2 1.2h0m-1.2 1.3h0m-1.6 .9h0m1.9 .9h0m-1.9 1.3h0m0 1h0m.5 1.3h0m1.6 1.1h0m-.6 .7h0m-1.1 .9h0m-.4 .8h0m3.3 1.2h0m-2.1 1.4h0m-.9 1.6h0M1028.7 584h0m-1.1 3.3h0m1.1 2.9h0m.6 2.3h0m-.1 2.2h0m-1.1 2.2h0m1.5 3.2h0m-2.9 3h0m1 2.2h0m.2 1.3h0m-1.6 2.1h0m1.9 1.5h0m-.3 1.6h0m1.4 .9h0m-.6 .7h0m-2.3 .9h0m2.9 .7h0m.2 .7h0m0 .6h0m-.9 .6h0m-.3 1h0m-1.3 1.2h0m1.3 1.3h0m-1.2 1.2h0m1.7 1.3h0m-1.8 .9h0m1.2 1.2h0m1.2 1.3h0m-.6 1.1h0m.4 .7h0m-2.6 1h0m0 .6h0m2.4 .8h0m-.3 1.1h0m.9 .8h0m-2.6 .7h0m.1 .9h0m2.1 1.1h0m-1.8 1.1h0m-.1 1h0m.8 .9h0m1.1 .7h0m-.2 1.1h0m-2 .7h0m2.1 1.1h0m.5 1h0m-2.6 .9h0m.3 .9h0m1.7 .8h0m-.2 .8h0m-2.5 1h0m3 .9h0m0 1.1h0m.5 1h0m-2.1 .6h0m1.2 .7h0m-.3 .7h0m-2.3 1.1h0m1.1 1h0m1.1 .7h0m-1.5 1h0m-.5 1.1h0m2.9 .6h0m.2 1.3h0m-.7 1.3h0m-.8 .9h0m1.5 1h0m-1.8 1.3h0m.3 .7h0m1 .8h0m-.7 1.3h0m-.3 .6h0m0 .6h0m.5 1.2h0m-1.8 .9h0m2.5 1.2h0m-2.9 1h0m1.2 1h0m0 .9h0m-.9 .7h0m1.4 1.1h0m.8 1.2h0m-2.1 1.6h0m1.4 1.5h0M1032.5 557.3h0m.1 3.3h0m-1.1 4.4h0m.8 2.4h0m.7 5.5h0m-.3 5.4h0m-1.2 4.4h0m1.3 3.1h0m-.8 3h0m-1 4.2h0m.4 2.3h0m-.3 5.9h0m2 1.9h0m-.5 1.9h0m.2 3.2h0m-1.7 3.8h0m1.4 3.9h0m.5 1.5h0m-1.1 2.3h0m.2 3.1h0m-1 3.2h0m1 4.2h0m-.1 1.7h0m-.1 1.9h0m.6 3.8h0m-1 1.9h0m.8 4.5h0m-.1 2h0m-1.1 2.1h0m.1 3.6h0m1.2 1.8h0m-1.3 4.5h0m.1 3.8h0m-.2 1.6h0m1.5 1.4h0m-1.6 4.3h0m.1 1.9h0m.6 2.7h0m1.1 2h0M1021.2 677.1h0m0 4.1h0m1.9 2.3h0m-1.2 2.6h0m1.2 4.2h0m-1.9 3.6h0m1.2 4.2h0m-.6 3.8h0M1045.1 574.1h0m.8 4.2h0m-1.5 5.2h0m.8 3.5h0m-1.1 3.5h0m.8 6.2h0m-.7 2.4h0m0 25.2h0m1.8 5.3h0m-.8 6.5h0m.2 3.8h0M1051.4 546.5h0m.8 4.5h0m0 7.2h0m.3 3.7h0m-1.3 3.1h0m1 2.3h0m-.3 5.4h0m-.6 5.3h0m1 2h0m-.3 3.7h0m-.1 4.7h0m-1.5 3.5h0m0 2.4h0m.5 1.7h0m-.1 1.8h0m.5 2.5h0m-.8 1.4h0m2.5 1.3h0m.4 1.4h0m-.9 1.4h0m.7 1.2h0m-2.5 1h0m2.4 .9h0m-2.3 .6h0m1.9 1.1h0m-.2 .9h0m-.2 .9h0m-.6 .6h0m.6 1.3h0m.1 .8h0m-.5 1.3h0m1.3 .8h0m-2.2 1.2h0m.3 1.1h0m1.8 .8h0m.4 .8h0m-.2 .9h0m-1.6 .7h0m1.6 .5h0m-1.4 1.2h0m1.8 .9h0m-2.4 .9h0m2.2 .6h0m-1.4 1.2h0m1.1 1.1h0m-2.6 1h0m2.7 1.1h0m-1.6 .9h0m-.8 1h0m1.7 .7h0m-2 1.3h0m1.4 1.1h0m-1.2 .6h0m1.9 .7h0m-1.2 .7h0m1.4 1h0m.3 1.3h0m-1 .7h0m0 1h0m-.6 1h0m1 .7h0m.1 1.2h0m.9 1.1h0m-1.3 .7h0m.2 1.2h0m-.5 .5h0m-1.1 1.2h0m2.8 .8h0m-1.5 .9h0m1.1 1h0m.1 .9h0m-1.8 1.1h0m-.3 1h0m.6 .6h0m-.6 .6h0m2.4 1.2h0m-2.9 .7h0m1 .8h0m1.3 .6h0m-1 .7h0m.4 .8h0m-.5 .6h0m-1.7 1.2h0m.2 .7h0m2.1 1.2h0m.8 .7h0m-1.4 .7h0m.4 1.1h0m-2 .6h0m3.2 .6h0m-2.3 1.3h0m1.2 .6h0m.9 .7h0m-.4 1.2h0m0 1.1h0m-1.4 1.2h0m-1.4 1.1h0m1.6 1.1h0m1.2 1.3h0m-.3 .8h0m-1.8 2.2h0m.6 3.5h0M1056.3 531.7h0m0 7.8h0m-.8 3.6h0m1.4 36.9h0m-.2 4.5h0m-1.4 3.5h0m.4 2.5h0m-1.1 3.3h0m-.4 3.5h0m1.2 2.5h0m-.2 2.5h0m1.5 1h0m.4 1.3h0m-1.3 1.5h0m.9 1.4h0m-1.8 1h0m1.3 1.2h0m-1.4 .6h0m-.3 .9h0m1.1 1h0m1.3 .8h0m-2.5 1.1h0m3.4 1h0m-.1 1h0m-2.7 .7h0m0 .8h0m.1 .7h0m2 .9h0m-2.8 1.1h0m2.2 1.2h0m-2.3 .7h0m.5 1.2h0m.6 .7h0m2.3 1.2h0m-.3 1.2h0m-1.4 1.2h0m-.9 .6h0m-.4 .7h0m.7 .6h0m0 .6h0m-.2 1.2h0m2.2 .9h0m-.5 .6h0m-2.5 .9h0m2.8 1.3h0m.6 .6h0m-1.2 1h0m-2.2 .7h0m2.5 1h0m-2.5 .7h0m1 1h0m2 .8h0m-2.7 1h0m2.2 1.1h0m.8 .9h0m-1.1 1h0m-1.2 .5h0m.4 .8h0m-1.1 1h0m-.2 1h0m1.9 .8h0m-.9 .5h0m1.4 1.2h0m-2 .8h0m2.5 1.1h0m-1.6 .6h0m1 1h0m.5 .7h0m-.1 1h0m-.4 1.3h0m-1.4 1h0m.2 .8h0m.8 1.1h0m1.1 .8h0m.3 .9h0m-.9 1.1h0m1 .8h0m-1.2 .9h0m-.5 .8h0m-.6 .7h0m1.4 .9h0m-2 .7h0m1 1h0m-1.6 1.2h0m2.9 .9h0m-1.7 1.1h0m.1 .9h0m-1.1 .6h0m2.8 .7h0m-2.1 .7h0m1.5 1.2h0m-1.4 1.5h0m-1.1 1.6h0M1057.6 560.9h0m.4 3.4h0m-.4 3.1h0m-.3 2.8h0m.3 5.2h0m1.2 2.8h0m-1.1 21.8h0m-1.3 4h0m1.4 3.4h0m-.7 4.1h0m2.3 2.6h0m-1.6 2.9h0m1.2 1.6h0m-1.9 2.7h0m.4 2.1h0m-1.2 1.5h0m.8 1h0m2.1 1h0m-1.9 1.6h0m0 1.3h0m-.4 1.1h0m1.2 1.2h0m1 1h0m-1.1 1h0m-.1 1.1h0m-.6 .9h0m-.3 .7h0m1.3 1.3h0m-1.4 .5h0m1.1 1h0m1.5 1.3h0m-.4 .6h0m-.2 1.3h0m-1.3 1.3h0m1.1 1h0m.1 1.2h0m-1.4 1.1h0m.9 1.2h0m-.9 1.2h0m1.9 1h0m-.6 1.2h0m-1.9 .6h0m1.7 .8h0m.1 .6h0m-1.7 .6h0m1.3 .8h0m1.4 1.1h0m-3.1 .7h0m1.8 1.2h0m.5 1.2h0m-1.3 .7h0m.3 .7h0m1.5 .8h0m-2.4 1.2h0m2.8 1.3h0m-.4 .8h0m-.5 1.3h0m-.3 .8h0m-1.1 1.1h0m-.9 .9h0m2.6 .7h0m-.4 .8h0m.1 1h0m-2.3 1.1h0m.6 1.8h0M1066.4 573.2h0m-.1 12h0m.3 3.3h0m-.6 2.1h0m1.3 3.9h0m-1.5 3.9h0m1.2 5.3h0m-.9 2.4h0m.9 1.7h0m.1 2.4h0m-.1 4.3h0m-1.2 3.8h0m.8 1.7h0m-.2 1.6h0m-.8 4.6h0m.9 3.2h0m-.7 2.2h0m-.1 3.9h0m.1 2.2h0m1.5 5.2h0m-.7 2h0m-1.2 3.1h0m1.3 2.6h0m.7 1.6h0m-1.3 2.7h0M1077.2 582.3h0m.4 3.9h0m.7 5.8h0m-.6 3.9h0m-.2 1.6h0m.3 3.1h0m-.7 1.4h0m.4 1.5h0m1.1 1.7h0m-2.2 2.1h0m2.8 1.2h0m-.2 2h0m-.3 1.1h0m-.1 .9h0m.6 1.1h0m-1.3 1.6h0m1.7 1.4h0m-1.1 1.5h0m-1 1.2h0m-.8 1.2h0m-.2 1h0m2.1 .6h0m-1.7 .9h0m.3 1.3h0m.8 .9h0m1.8 .7h0m-.4 1.1h0m.1 .8h0m.1 1.3h0m-2.8 .6h0m-.3 .7h0m-.1 1h0m1.1 .9h0m-1.1 1.1h0m3.2 1.1h0m-1.9 .8h0m-.4 1.1h0m2.5 1.2h0m-1.9 .7h0m.3 .7h0m1.5 .8h0m.1 1.1h0m-.6 1.1h0m-.6 .9h0m-1.1 .6h0m2.2 1.3h0m-1.7 .6h0m.4 .9h0m-1.3 1h0m.7 1.2h0m1 1.1h0m-.7 1.3h0m.9 1h0m-2.6 .7h0m2.3 1.2h0m.4 1.1h0m.3 .7h0m.2 1h0m-.3 1h0m-2.5 .6h0m1.8 1h0m-2.1 .8h0m0 1.2h0m.5 1.2h0m1.3 1.1h0m-.9 .7h0m.7 .8h0m.1 .7h0m-1.6 .8h0m.5 1.2h0m.6 1.8h0m1.1 1.4h0m-.3 8h0m.6 4.1h0m-2.1 3.9h0M1088.7 527.1h0m-.5 3.3h0m-.1 3.7h0m.4 2.8h0m-1.1 5h0m.5 5.9h0m-.1 4.1h0m.4 5h0m0 4.6h0m-.7 4.2h0m.7 6.4h0m.9 3.5h0m-.1 3.2h0m-1.4 3.9h0m.3 4.5h0m1.6 2.8h0m-1.2 6.3h0m.5 5.6h0m-1.2 3.3h0M1103.3 590h0m1.4 3.5h0m.7 1.9h0m-1.1 3.3h0m-.1 3h0m.1 1.1h0m1.6 1.6h0m.2 1.8h0m-2.1 1.2h0m-1.2 .9h0m-.1 1.7h0m1.5 1.1h0m-.8 1.7h0m1.7 .8h0m-2 1.3h0m2.6 1.6h0m-.1 1.4h0m-.5 1h0m-.2 .7h0m-1.1 .9h0m-.9 .8h0m2.5 1.1h0m-1 .6h0m.2 .6h0m1.5 .6h0m-1.6 .8h0m1.4 .8h0m-2.2 .5h0m1.6 .8h0m.4 .8h0m-2.6 .8h0m-.2 .9h0m1.6 .6h0m-1.1 1h0m1.1 .7h0m-.2 .9h0m-1.2 1h0m-.3 .6h0m2.3 1.1h0m-1.3 .7h0m2.1 .8h0m-.7 .9h0m-2.5 .6h0m2.2 .7h0m.8 .9h0m-.7 1.1h0m1.1 1.3h0m-3.2 1.2h0m.2 .9h0m1.3 1h0m-1.5 .6h0m1.9 .9h0m-.5 .9h0m.8 1h0m-1 1.1h0m1.6 .7h0m-2.4 .5h0m1.4 .7h0m-1.7 1.1h0m1.7 .9h0m-1.8 1.1h0m.7 1.1h0m-.6 .8h0m1.8 1.2h0m-.3 1.1h0m-.5 .7h0m-1 .6h0m-.4 1.1h0m.2 .9h0m3.4 1.1h0m-2.3 .6h0m-.4 1.3h0m2.7 1.1h0m-2.2 2.1h0m.1 7.2h0m0 2.2h0m1.3 6.1h0M1111.3 590.7h0m-.7 3.9h0m2 5.1h0m-2.1 1.7h0m.3 2.8h0m1.6 4.5h0m.2 3.7h0m-1.7 2.5h0m.6 3h0m1.6 2.1h0m-2.3 3h0m0 1.7h0m1.4 2h0m1 2.5h0m-2.7 1.2h0m2.7 1.6h0m-.8 1.7h0m-.9 2h0m1.1 1.3h0m.8 1.6h0m-.2 1.1h0m-.3 1.3h0m-1.1 1.4h0m-1.7 1.5h0m1.5 .9h0m-1.1 1.4h0m-.4 1.3h0m1.4 .9h0m.2 1.1h0m.6 1.2h0m-.6 .9h0m1.2 .8h0m-2.4 .8h0m.2 .7h0m1.6 1.2h0m-1 .7h0m2 1.3h0m-.1 .7h0m.2 .6h0m-.2 .8h0m-.9 .5h0m.5 1.3h0m-2.4 1h0m2.8 .7h0m-2.6 1.2h0m1.4 .8h0m-1.4 .8h0m-.4 1.2h0m1.1 1h0m1.6 .9h0m-.3 1.1h0m.1 .6h0m-2.9 1.1h0m2.6 .7h0m-.7 1.2h0m-1.6 1.2h0m2.7 .8h0m-2.2 1.1h0m.8 1h0m-.2 1.1h0m1.3 .8h0m-1.4 1.1h0m-.4 1.1h0m-.2 .9h0m.8 .8h0m-.4 .6h0m.1 .8h0m2 1h0m-2.1 1.1h0m-.8 .7h0m2.4 1.2h0m.6 1.3h0m-2.7 1.2h0m.8 1.1h0M1117.3 620.1h0m-.5 1.9h0m.9 3.7h0m-.7 5.2h0m-.5 2.5h0m-.1 2.3h0m.2 1.6h0m.7 3.6h0m.1 5.1h0m-.8 1.9h0m1.8 4.3h0m-1.6 4.4h0m.5 2.9h0m-.4 3.3h0m-.5 2.2h0m2 15.4h0m-.6 4.4h0m-1.2 3.4h0m.4 2.2h0m.5 6.7h0M1144.1 540.2h0m-.2 3.3h0m0 7.4h0m.6 7.7h0m.4 2.9h0m-1 6.1h0m.7 .4h0m-.7 3h0m-.2 2.6h0m.7 4.5h0m0 2.7h0m0 2.7h0m-1.4 1.7h0m2.5 2.1h0m-1.5 2.2h0m.3 1.2h0m-.3 .9h0m1.7 1.7h0m-2.8 .8h0m1.5 1.1h0m-1.8 1.6h0m1.3 .7h0m-1.6 1.2h0m2.5 .9h0m-2 .8h0m2.1 .6h0m-.8 1h0m.8 1h0m-1.4 .9h0m-1 1.2h0m1.4 1.2h0m-.8 .9h0m.2 1.3h0m-.9 .8h0m2.8 1.2h0m-2.5 .6h0m-.4 .7h0m3 1h0m-1.3 1h0m-.7 1.3h0m-.1 .8h0m.7 1h0m.1 .7h0m1.4 1.2h0m-.1 1.1h0m-1.3 .9h0m-1.1 1h0m1.1 1h0m0 .8h0m.5 .7h0m-.7 .6h0m.3 .6h0m1.1 .6h0m-.1 .6h0m.5 .8h0m-2.9 .8h0m.4 1h0m.8 1.2h0m.4 .7h0m-1.1 .8h0m-.1 .6h0m-.3 .7h0m1 .8h0m.4 1h0m.2 1.1h0m.9 .9h0m-2.1 .7h0m2.3 .5h0m-1.8 1.2h0m.5 1.2h0m1.2 1.3h0m-2.2 .8h0m2.4 .8h0m-2.1 .9h0m.1 .6h0m.1 1.2h0m1.7 1.2h0m-.6 1.2h0m-1.5 1h0m1.8 1.2h0m-2.7 1.1h0m2.3 1.1h0m-1.3 .6h0m-.3 .9h0m-.4 .6h0m-.5 .9h0m1.5 1.2h0m-.6 .7h0m1.3 .8h0m-.7 1.1h0m.6 1.1h0m.5 1.1h0m-2.5 1.2h0m.3 .8h0m.2 1.2h0m.6 1.2h0m1.3 .7h0m-1.2 .6h0m1 .9h0m.1 1h0m1.1 1.1h0m-2 1.2h0m-.2 1.4h0m.7 2.2h0M1149.1 548h0m.3 5.6h0m-.7 3.7h0m-.7 4.2h0m-.8 3.3h0m2.1 1.6h0m.4 2.1h0m-2.6 1.9h0m2.3 1.1h0m-2.6 1.2h0m2 1.3h0m-2.4 1.4h0m2.2 1.4h0m.9 .9h0m-.5 1h0m-1.7 .6h0m1.4 1.1h0m0 1.1h0m.6 .6h0m-2.2 .6h0m.9 .7h0m-.3 .7h0m-.3 .6h0m-.8 .8h0m-.3 1.2h0m3.1 .7h0m.2 .8h0m-1.5 .8h0m-.4 1h0m-.1 1.2h0m.4 1.2h0m1.2 .8h0m-2.9 1.2h0m2.6 1h0m-1.2 1h0m-.9 1.1h0m.1 .9h0m2.1 1.2h0m0 .8h0m-.4 1h0m.4 .7h0m.8 1h0m-2.2 .8h0m-.5 1.1h0m2.2 1.1h0m-.5 .7h0m-1.6 .8h0m1.8 .8h0m-1.4 1h0m1.5 1.1h0m.2 .7h0m-.8 .9h0m-1.5 1.2h0m1.8 .9h0m-1.2 .6h0m.2 .9h0m1.4 1h0m-.4 .6h0m-2.3 .8h0m.2 .9h0m.1 .9h0m-.1 .8h0m.3 1.3h0m1.4 .9h0m-1.7 1.1h0m.8 1.2h0m.2 .6h0m-.2 1h0m-.2 1.1h0m2.3 1.2h0m-3.2 1.1h0m1.7 .9h0m-1.2 .8h0m-.3 1h0m1.1 .7h0m-.1 1.3h0m1 1.3h0m.9 1h0m-.6 1h0m.2 .9h0m-2.9 1.2h0m.1 1.2h0m.2 1.1h0m1.3 1.1h0m1.4 .6h0m.2 .8h0m-1.2 .8h0m.7 .9h0m-.9 .8h0m-.6 .7h0m-.3 .7h0m1.6 .7h0m-1.9 .7h0m1.7 1.3h0m.8 .6h0m-.9 1.1h0m-.3 1.3h0m-1.9 .6h0m1.7 .6h0m1.3 1h0m-2.7 .6h0m1 .6h0m1.5 1.3h0m-.7 .6h0m-1.3 .7h0m.1 .7h0m-.1 .8h0m1.3 .8h0m.5 1h0m-2.5 .8h0m1 .9h0m.4 .7h0m.7 1.3h0m-2 1.1h0m2.3 .9h0m.2 1.2h0m.9 .6h0m-.8 .6h0m.5 .9h0m-.6 1.3h0m-.4 .6h0m-.8 .6h0m-.4 .7h0m.8 .5h0m-1 .7h0m.2 1.1h0m2 1.1h0m-.2 1.4h0m-2 2.2h0M1152.9 543.5h0m0 4h0m-1.5 2.7h0m-.3 7h0m-.1 2.8h0m-.3 4.9h0m1.6 3.4h0m1 3h0m-.5 1.6h0m-.7 3h0m1 1.6h0m-2 1.8h0m1.9 2.1h0m-1 1.9h0m-1.7 .8h0m0 1.4h0m.4 1.3h0m-.4 1.4h0m.7 1.2h0m.9 1.4h0m1.4 1h0m.4 .7h0m-3.4 .8h0m1.2 .8h0m-1.1 1h0m2.6 1.2h0m.8 1.1h0m-1.1 .6h0m-1.9 1.2h0m.1 .8h0m1 1.3h0m-.8 1.2h0m1.8 1h0m-1.7 .8h0m1.3 .6h0m-1.6 .8h0m.4 .8h0m1 .7h0m-1.3 .6h0m2.8 .9h0m-2.8 1h0m2.6 1.2h0m-.5 .8h0m-.9 1h0m.4 1.3h0m1 1h0m-3 .9h0m2.2 .5h0m.6 1h0m-2.3 1.2h0m1.2 .7h0m-1.7 .6h0m.7 .6h0m-.4 .9h0m2 1h0m-.7 1.2h0m.9 1.1h0m-1.8 1.1h0m1.9 1h0m-1.7 .8h0m.9 .5h0m-.6 .6h0m-1.2 .7h0m.8 1.3h0m1.5 1.2h0m-1 1h0m1.2 1h0m-1 .7h0m-1.2 .8h0m2.1 .7h0m-1.2 1.3h0m-1 .6h0m.7 .8h0m.6 1.2h0m.4 .9h0m-1 .7h0m-1.1 .9h0m1.9 .8h0m-1.1 1h0m1.1 .6h0m-2.1 .7h0m2.6 1.2h0m-1.5 1.3h0m2 1.1h0m-3 1h0m1.2 .8h0m.8 .9h0m-1.3 .7h0m.6 .5h0m-.6 .7h0m2.2 .5h0m-1.2 .8h0m-1.7 .9h0m2.8 1h0m-.6 .7h0m-.3 1.1h0m-.2 .8h0m-.2 1.1h0m1.1 1.1h0m-1.1 1.1h0m-1 .7h0m1.4 .7h0m-.9 .6h0m.8 .7h0m1.1 .7h0m-1.7 .6h0m1.7 1.1h0m.4 .8h0m-1.4 1.2h0m-1.3 .8h0m-.5 1.1h0m.6 1.1h0m1.4 .6h0m-2 .9h0m2.6 .6h0m0 .9h0m-2.8 1h0m2.2 .8h0m-1.7 .7h0m.7 1.3h0m.4 1.1h0m-.8 1.3h0m1.5 .6h0m.7 1.3h0m-2.4 .9h0m.4 1.6h0m-.5 1.4h0M1159.6 539.1h0m-.1 2.4h0m1.2 6.1h0m.8 6.4h0m-1.4 1.8h0m-1.3 3.7h0m1.5 1.7h0m-1.5 2h0m2.6 2.6h0m-1.3 2.1h0m.3 1.8h0m-.6 1.7h0m.7 1.9h0m.2 1.1h0m-.3 1.7h0m.2 1.1h0m-1.3 1.4h0m.8 1.5h0m.4 1h0m-1.3 1.2h0m1.2 .8h0m-.2 .6h0m-.9 .6h0m2.5 .9h0m-2.2 1h0m.8 1h0m-.2 .6h0m1.3 1.1h0m-2.8 1.2h0m1.3 1h0m1.6 .9h0m-1 .8h0m1.1 1.2h0m-1.2 .9h0m-.5 .7h0m1.4 .7h0m-2.3 1h0m2.6 1h0m-1.7 1.2h0m.5 .8h0m1.6 .9h0m-.3 1.2h0m-2.8 1.3h0m.9 1.2h0m.9 .8h0m-1.4 .8h0m-.1 1.3h0m.7 .6h0m1.5 1.2h0m-1.4 .9h0m1.4 .6h0m-2.1 1.1h0m2.4 1.1h0m-2.4 .8h0m1.4 1.1h0m-2.2 .9h0m2.5 .8h0m-.8 .6h0m-.4 1.2h0m1.1 .6h0m-.2 1.1h0m-.9 1.2h0m.3 .9h0m-.4 1.4h0m.1 1.1h0m1.4 2h0M1167.7 566h0m-1.7 4h0m1.3 3.1h0m-1.7 2.5h0m2.3 1.2h0m-.1 1.7h0m.1 2.4h0m-.5 2h0m.8 1.9h0m-.2 2h0m.1 1.1h0m-2.6 .9h0m1.3 1.6h0m-.8 1.5h0m-.7 .7h0m2.4 1.4h0m-.5 1h0m1 .6h0m-2.7 .8h0m1 .9h0m.9 .9h0m.3 .7h0m-1.5 .8h0m1.3 1.2h0m.2 1.1h0m-1.7 .9h0m1.9 .9h0m-.6 .7h0m.9 .9h0m-.1 1.1h0m-1.6 .9h0m-1 .7h0m.1 .8h0m1.2 1h0m.7 1.1h0m-.8 1.3h0m0 1h0m-.7 .9h0m0 .8h0m.4 .9h0m.8 1h0m-.3 1.3h0m-1 1.3h0m1 1h0m-.4 .9h0m1.8 .7h0m-.6 .6h0m-1.7 .9h0m2.2 .8h0m-1.3 .8h0m.3 .9h0m-.5 .9h0m-1.8 .7h0m-.1 1h0m1 .9h0m.2 1.1h0m-.6 .6h0m1.7 .8h0m.7 1.1h0m-1 1.3h0m.4 .6h0m-.2 .8h0m-.8 .6h0m1 .8h0m-1.1 1.2h0m1 1h0m-1 1.1h0m1.1 .7h0m-.6 .8h0m.2 1h0m-.7 1.3h0m.2 .7h0m1.6 1.3h0m-2.5 .6h0m2.2 .7h0m-2.2 1.1h0m2.5 1.1h0m-1.8 1.2h0m-.4 1.1h0m-.4 1.3h0m.6 .8h0m1.7 1.2h0m-.9 .9h0m.2 .8h0m.5 .6h0m-1 1.3h0m.5 .8h0m1.2 .9h0m-1.5 .7h0m.9 1.1h0m-2.3 .7h0m.1 1.1h0m-.4 1.2h0m2.8 1.2h0m.3 .9h0m-.8 1.2h0m-2.1 .7h0m0 .6h0m2.2 1.1h0m-1.1 1.3h0m1.7 .8h0m.4 1.1h0m-.1 .6h0m-.5 .8h0m-1 .7h0m.7 1.2h0m-2.3 1h0m-.1 1.3h0m1.8 1.1h0m-1.2 1.4h0m1.9 1.9h0M1172.8 561.3h0m-.4 7h0m0 4.3h0m-.2 2.4h0m.9 1h0m-1.5 4h0m1.9 4.6h0m-1.3 2.9h0m2.3 2.4h0m-1.5 2.1h0m-.4 2.7h0m-1.2 2.3h0m.2 1.8h0m-.1 1.1h0m2.9 1.8h0m-1.4 1.4h0m.1 .8h0m.7 1.4h0m1 .6h0m-1.5 1.3h0m.5 .6h0m-2.6 1h0m.1 .9h0m2.3 .6h0m-1.2 1.1h0m-.2 .7h0m1 .7h0m1.3 .8h0m-2.5 .5h0m.8 1.1h0m-.2 .6h0m1.5 .7h0m-.6 .8h0m-.8 1h0m.4 .6h0m-1 .6h0m-.3 1.3h0m0 1.2h0m-.5 .6h0m3.1 1.2h0m-2 .8h0m1.1 .8h0m-.6 .7h0m-.7 1.1h0m1.4 .6h0m-2.4 1.1h0m3 .8h0m-.6 1h0m-1.7 1.3h0m-.2 .9h0m1.6 1.2h0m.3 1.2h0m.2 .8h0m-.8 .8h0m1 1h0m-.1 .7h0m-.4 1h0m-.4 .6h0m.4 .6h0m-.9 1.1h0m.8 .9h0m1.3 1h0m-1 1.2h0m-2.3 .8h0m.6 1h0m1.5 1.1h0m-2.1 1.2h0m1 .9h0m-.3 .8h0m.7 1.2h0m-1.2 1h0m1.9 .9h0m-1.1 .7h0m.8 .7h0m1.5 .6h0m-.2 .9h0m-.6 .6h0m-1.1 1.2h0m.6 .8h0m-1.3 .8h0m1.4 1.2h0m-.6 1h0m1 1.1h0m-1.6 .8h0m-.9 .8h0m.2 .9h0m.8 1h0m-.4 .8h0m0 .8h0m.8 1.2h0m-.5 .9h0m1.1 1.3h0m.2 .7h0m1.2 .5h0m-2.8 1.1h0m2.5 .9h0m-.5 1.1h0m-2.1 1h0m1.4 1.1h0m-1.9 .6h0m3.1 1h0m-1 .8h0m.9 .7h0m-2.1 1.7h0m1.6 2h0M1176 569.8h0m.2 3h0m1.3 5.5h0m-.2 2.8h0m-.1 2.9h0m0 3.8h0m-.9 3.6h0m-.5 2.7h0m2.4 3h0m-.9 1.8h0m-1.4 2h0m-.6 1.2h0m.4 2.2h0m1.3 1.3h0m.3 1.1h0m-1.3 1.4h0m1.5 1.5h0m-1.1 1.7h0m1 1.3h0m-2.1 1.1h0m1.4 .8h0m-1.1 .6h0m0 1.2h0m.5 1h0m.5 .9h0m.2 .8h0m1.8 .7h0m-2.9 .9h0m.1 1.1h0m2.2 1.2h0m-.9 1.2h0m.9 1.1h0m-.6 1.2h0m.5 1.2h0m-1.4 .8h0m2 1.2h0m0 .8h0m-.8 1.2h0m-1.5 .8h0m1.5 .8h0m-1.7 .8h0m2.1 .7h0m-2.3 .7h0m-.4 1h0m.5 .8h0m1.3 1.2h0m-.3 .9h0m1.3 .6h0m-3 1.2h0m2.8 1h0m.6 1.2h0m-.2 1.2h0m.4 .7h0m-1.3 1.3h0m-1.4 1.2h0m-.5 .9h0m3.2 .9h0m-1.9 1h0m-.9 .8h0m.2 .9h0m1.1 .9h0m0 .9h0m-.3 .8h0m1.2 .9h0m-.9 1.3h0m-1 1.1h0m0 .7h0m1.7 .6h0m-.5 1.2h0m-1.8 .8h0m1.6 1.1h0m1.5 .7h0m-.1 1.1h0m-.7 1.3h0m.6 1.2h0m-2.2 .7h0m1.1 .9h0m-1.3 .7h0m2.5 1.1h0m-.1 .9h0m-.2 1.2h0m-1.8 .7h0m1.5 1.1h0m-2.5 1.1h0m-.3 1.1h0m.1 .8h0m.3 .9h0m1 1.1h0m-.3 1.4h0m-.8 2.1h0m1.4 1.4h0M1187 574.1h0m.5 3.3h0m1.2 4.6h0m-1.6 2h0m1.9 2.3h0m-2.4 2.4h0m-.3 1.9h0m.7 1.9h0m.4 1.6h0m-.9 2.4h0m.2 1.1h0m1.1 1.5h0m1 2h0m-2.1 1.2h0m2.5 1.4h0m-.2 1h0m.6 1.1h0m-2.8 1.7h0m1.5 1.4h0m-.2 1h0m-.2 1.4h0m.1 1.1h0m.9 .6h0m.5 .6h0m-1.2 .6h0m.5 .7h0m.2 1.1h0m.9 1.1h0m-2.8 .7h0m2.5 .9h0m-2.6 .8h0m.4 1h0m1.8 .6h0m.1 .9h0m-1.8 .6h0m1.8 .7h0m-.8 .8h0m-.6 .6h0m.9 .9h0m1 .7h0m-1.7 .8h0m-.6 .9h0m-1.1 .6h0m3.4 1.2h0m-3 1h0m.7 .7h0m0 .6h0m0 .8h0m.8 1.1h0m-.9 1.3h0m1.6 .6h0m.2 1.1h0m0 .9h0m-.3 .6h0m-.6 1.1h0m-.3 1h0m0 .8h0m1.3 1.1h0m-1 .8h0m-1.4 .8h0m-.6 1.1h0m.2 1.2h0m2.5 .7h0m-1.6 .8h0m2.3 1h0m-2.1 1h0m-.4 1.2h0m1.7 .7h0m.3 1.1h0m-.4 .9h0m-1.5 .7h0m2.1 1.2h0m-1.1 1.3h0m-.7 1.1h0m2 .8h0m.1 1.1h0m-1.9 .7h0m1.8 1.2h0m-.1 1.2h0m-.6 .7h0m-1 .7h0m0 .5h0m-.1 .7h0m.9 1.1h0m1 1.2h0m-2.2 .8h0m-.3 .8h0m2 1.2h0m-.6 1.1h0m-1.3 .7h0m-.7 1.2h0m.2 1.3h0m2.2 .7h0m-2.1 1.2h0m1.2 1.2h0m.2 .7h0m.3 .7h0m.7 1h0m.1 1.3h0m-.5 1h0m.4 1.2h0m.4 1h0m-2.7 1.2h0m1.5 .7h0m-.7 1h0m-.8 .9h0m1.4 .9h0m.4 1.1h0m-1.7 .6h0m2 .9h0m-.1 .8h0m-1.6 .7h0m-.4 1.2h0m1.3 1.2h0m-.3 .6h0m-1.3 .9h0m1.3 .8h0m1.6 .9h0m-.1 .9h0m-.5 .8h0m-.6 .6h0m.9 1.1h0m-.3 .8h0m.8 .9h0m-.4 1.3h0m.5 1.3h0M1193 566h0m2 6.4h0m-1.3 4.4h0m.8 2.4h0m.4 3.4h0m-2.5 2.6h0m.8 1.9h0m1.4 1.7h0m-2.4 1.6h0m1 1.2h0m0 1.2h0m-.2 .9h0m2.4 1.1h0m.3 .8h0m-.3 1.1h0m-.5 1.3h0m-2 1.2h0m.6 1h0m-.3 .7h0m-.5 1.1h0m2.5 .6h0m-2.9 1.1h0m-.1 .7h0m3.5 1h0m-1.4 .7h0m.5 .8h0m0 1h0m.9 .7h0m-3.1 1.1h0m2.5 .6h0m-1.5 1.1h0m.9 1.2h0m-2.2 1h0m1.3 .9h0m-.2 .9h0m.1 1.2h0m-.4 .6h0m1 1.2h0m1.3 .8h0m-1.7 1.3h0m-.3 .6h0m1.9 .6h0m-1.9 1.1h0m1.9 1.1h0m-2.5 1.3h0m1.7 .9h0m-.4 .8h0m-.4 .9h0m-.1 1h0m.1 .8h0m-.9 1.1h0m.2 .9h0m-.8 1.3h0m3.5 .8h0m-2.7 1.1h0m1 1.1h0m-1.4 .6h0m.6 .6h0m2.5 .8h0m-1.5 1.2h0m.2 1.1h0m-.9 1.1h0m-.5 1.1h0m.2 .7h0m.1 .9h0m-1 1h0m2.1 .7h0m.6 1.2h0m-.6 .9h0m1.1 .5h0m-.4 1.1h0m-1.4 .6h0m1.5 .8h0m-2.4 1.1h0m.1 1.3h0m1.3 .6h0m1.4 .9h0m-.1 .6h0m-2.2 1.1h0m1.4 .6h0m-1.4 .6h0m.2 .6h0m1.7 1.3h0m-.7 1h0m.5 1h0m.7 1.2h0m-2.3 1.2h0m-.3 1.3h0m1.4 .6h0m.9 .6h0m-.3 1.3h0m-1 .8h0m-.3 .5h0m-.9 1.2h0m.6 .7h0m-.1 .8h0m-.9 .8h0m1.5 1h0m-.6 1h0m1.6 1.3h0m-1.4 .9h0m.2 1.2h0m.4 .9h0m-.2 .6h0m1.5 .6h0m-2.9 1.1h0m2 .7h0m-.9 1h0m-.7 .8h0m-.6 .9h0m.6 .7h0m.1 .7h0m.4 1h0m2.3 1.8h0M1199.2 566h0m-.3 7.1h0m-2.7 5.4h0m.5 3.3h0m.8 3.5h0m-.7 2.3h0m.4 2.7h0m.3 1.2h0m-.6 1.2h0m.9 1.5h0m1.8 .7h0m-.3 .8h0m-1.1 1.4h0m-2 1.2h0m2.9 .7h0m-2.5 1.1h0m-.1 .7h0m2 1.2h0m-.3 .8h0m-1.1 .9h0m-.9 1h0m3.4 1h0m-1.8 .7h0m.9 1h0m-1.3 1.1h0m.1 1.2h0m.5 1.1h0m1.4 1h0m-1.4 .7h0m-1.6 .8h0m.5 1.1h0m-.2 .7h0m2 1.1h0m-.7 .8h0m0 .8h0m-.8 .6h0m.2 1.3h0m1 1h0m0 .9h0m-.1 1.1h0m-1 1.2h0m.6 .7h0m.1 1.1h0m-.1 .6h0m-1.1 1.2h0m.4 1h0m1.7 .9h0m-2.1 .8h0m2.9 .9h0m-2.4 .6h0m.6 .7h0m.3 1.1h0m-1.2 1h0m1.9 1h0m-2.6 .8h0m1.7 1.3h0m.4 1.2h0m-1.6 .8h0m2.1 1.3h0m-2.6 1h0m1.4 .7h0m.2 .7h0m-1 .9h0m2.7 .9h0m-.4 1.2h0m-2.2 .8h0m2.6 .9h0m-3.1 .7h0m-.3 1.2h0m3.5 .9h0m-3.5 1h0m2.7 .8h0m-2.4 1h0m1.4 .9h0m-1.2 .7h0m.9 .8h0m-.2 1.3h0m-1.1 1.2h0m.4 .9h0m.5 .6h0m1.2 1h0m.4 .8h0m.5 1.1h0m-2.8 1.1h0m3.1 1.1h0m-1 1.2h0m.7 .7h0m-.5 .9h0m-1.8 1.2h0m2.6 .6h0m-3.1 1.2h0m2.8 .9h0m-1.2 1h0m-1.8 1.3h0m.5 .8h0m1.5 1.3h0m1 .7h0m-1.4 1.3h0m-.9 1.3h0m2.8 1.5h0m-1.1 1.2h0M1203.3 575h0m-1.7 3.9h0m.4 2.8h0m-.7 4.8h0m-.1 3.8h0m1.4 2.3h0m1 2.6h0m-2 1.6h0m1.5 2h0m-1.9 1.8h0m1.8 1.6h0m-1.6 1.2h0m-1 1.3h0m1.3 1.2h0m.6 1.1h0m-1 .9h0m-.6 .9h0m1.8 .7h0m1 .7h0m-2.1 1h0m-.2 .7h0m-.5 .8h0m3 .8h0m-.2 1.2h0m-.8 1.3h0m-.2 1.3h0m-1.7 .8h0m2.9 1.1h0m0 1.2h0m-1 .9h0m.1 1.3h0m.5 1.2h0m0 1h0m-.1 .8h0m-2.2 .9h0m2.1 1.1h0m-1.2 1.1h0m1.3 .7h0m-.6 1.1h0m-2.3 1.1h0m3 1.2h0m-2.9 .6h0m.7 1.2h0m2.4 1h0m-1.5 .7h0m1.3 .6h0m-1.5 1.2h0m-1.1 1.1h0m2.4 1.2h0m-2.8 1.1h0m2.3 .7h0m-.6 1.2h0m-.2 1.1h0m-.6 1h0m2.1 .7h0m-1.9 .9h0m0 .8h0m-.6 .9h0m.7 .9h0m0 .9h0m1.9 .5h0m-.5 .8h0m-1.3 1.3h0m1 .8h0m-.5 1.2h0m-1.5 1.1h0m1.2 .8h0m-.2 1h0m1.6 1.1h0m-1.1 .7h0m-.7 .7h0m1.8 1h0m-.1 .6h0m.1 1.1h0m-1.1 .6h0m.9 .7h0m-2 1h0m2.4 1.3h0m-2.4 .8h0m.4 1.2h0m-.2 1.2h0m.3 1.2h0m-.2 1h0m-.9 1h0m1.1 .8h0m1.6 1h0m.5 .9h0m-.8 .7h0m-1.8 1h0m.5 1.1h0m.5 1.6h0M1208.1 596h0m-.1 4.4h0m-2.7 4.4h0m3.1 4.2h0m-1.4 3h0m1.7 3.1h0m-3.3 2h0m.5 1.7h0m1.5 1.5h0m-2 1.1h0m2.2 1.3h0m.5 1.2h0m.6 1.5h0m-1.9 .9h0m-.8 1h0m2 1.3h0m-1.4 1.3h0m.5 .9h0m-1 .6h0m2.4 1.1h0m-2.1 .6h0m.3 .9h0m-.9 .8h0m-.4 .7h0m0 .8h0m2.1 1.2h0m-1.1 .9h0m0 1.1h0m1.8 1.2h0m-1.1 .7h0m1.6 .8h0m-3.4 .7h0m3.3 .8h0m-.8 1h0m-.1 .9h0m-.6 .9h0m1 1h0m-.6 1.3h0m-1.7 1.1h0m2.7 .7h0m-1.6 .6h0m.3 .8h0m1.3 .7h0m-.3 .7h0m-1.5 1.2h0m.7 1.2h0m-.3 .7h0m-.8 .7h0m-.5 .6h0m1.2 1.2h0m-.1 1.2h0m.1 .8h0m1.7 .8h0m-2.8 .5h0m1.1 .8h0m-1.4 .8h0m2.8 1h0m-2 1h0m-.3 .9h0m.2 .6h0m1.7 .8h0m.3 .9h0m-2 .6h0m1.7 .7h0m-.8 .7h0m.6 .9h0m-1.6 .9h0m.7 1.3h0m.3 .7h0m-1.7 1.2h0m1.5 .8h0m-.5 1.9h0M1215.1 596h0m2 3.4h0m.4 2.6h0m-1.9 2.2h0m0 1.3h0m1.4 2.5h0m-1.2 1.8h0m-1.4 1.9h0m2.8 1.7h0m-2.7 1h0m1.9 1.5h0m-.7 1.2h0m2.1 1.8h0m-3 1.7h0m.4 1h0m1.2 1.4h0m-1.9 1.1h0m3.2 1.3h0m-2.5 .7h0m2 .6h0m-2.4 .7h0m1.8 1.3h0m-1.5 .8h0m.3 1.3h0m1.1 1.1h0m1.2 .9h0m-2.6 .8h0m-.8 .7h0m3.3 .9h0m-2.2 1.1h0m1.7 .8h0m-1.8 1.2h0m-.2 .7h0m.8 1.2h0m.7 1h0m-.5 1.2h0m.5 .5h0m.7 .8h0m-.6 1h0m.6 1h0m.2 1.2h0m-2.4 1.1h0m.4 1.2h0m.7 1.1h0m-1.7 1h0m.2 .6h0m2.6 .7h0m-1.8 1.2h0m.8 .9h0m-1.8 1.1h0m-.2 1.2h0m2.5 .7h0m-.3 .8h0m-.6 .9h0m1.2 1h0m-.1 .8h0m.4 1h0m-2.1 .7h0m-1 .7h0m1.5 1.3h0m-1 1.2h0m2.6 1.4h0M1221.7 568h0m.1 3h0m-1.3 2.6h0m1.8 3.3h0m1.1 2.5h0m-3 1.3h0m.4 1.4h0m.8 1.4h0m.7 2h0m-.3 1.8h0m1.4 1.9h0m-.8 .9h0m.5 1.8h0m-1.5 1.2h0m-.4 .7h0m-.7 .8h0m1.5 1.3h0m.8 .9h0m.7 .8h0m-2.6 .8h0m2.7 .7h0m-2.7 1.2h0m-.6 1.3h0m1.6 1h0m.4 .8h0m-.2 .7h0m-.4 1.1h0m1.7 1.2h0m-2.4 .7h0m.5 .6h0m-.2 .6h0m.6 .6h0m1.6 .7h0m-2 1.2h0m-1 .9h0m2.6 .6h0m-1.6 .7h0m-.5 .7h0m0 .7h0m.1 1.2h0m0 1.1h0m2.3 1.2h0m.2 1h0m-.2 1.1h0m-2.9 .9h0m2.7 .6h0m-1.5 1.3h0m1.8 1.2h0m-.6 .8h0m-.3 1.1h0m-2.2 .7h0m.8 .8h0m.3 1h0m-.2 .8h0m-.1 .7h0m0 1h0m2.1 1.3h0m-2 .8h0m2.1 1.1h0m-2.4 1.1h0m-.6 .8h0m.8 1.2h0m1.8 .9h0m-.2 .7h0m-1.1 .6h0m1.5 .6h0m-.1 .7h0m-2.5 1.1h0m2.5 .8h0m-1.4 1.1h0m-.9 .6h0m1.2 .8h0m1.3 1.1h0m-1.1 1h0m.2 1h0m-2 .6h0m1.3 .9h0m-.7 1.2h0m.1 .9h0m2 1h0m-1.5 .6h0m1.3 1.1h0m-2.1 1.1h0m1 1.1h0m-.9 1.2h0m2.6 1.2h0m-2.7 1h0m.7 .8h0m-.7 1.2h0m.7 .9h0m1.3 .9h0m-1.8 .6h0m1 .6h0m1 1h0m-2.2 1.1h0m-.5 1.3h0m2.2 .7h0m-.9 1.1h0m.2 1h0m-.5 .8h0m-.7 .9h0m.2 1.1h0m2.7 1h0m-.4 1.4h0m0 1.2h0m-2.1 1h0M1241.6 572h0m-1.6 6.7h0m.2 3.6h0m-1 3.7h0m1.1 3.4h0m1.9 1.6h0m-.2 2.3h0m-1.2 2.2h0m1.3 1.3h0m-2 1.4h0m.7 1.3h0m1.5 1.4h0m-2.9 1.3h0m1.4 1h0m-.6 .6h0m1.5 .5h0m-1.9 .7h0m.4 1.2h0m1.4 1.1h0m-2.1 1h0m2.7 .8h0m-1.9 .8h0m-1 .9h0m2.7 1.1h0m-1.7 1.3h0m2.3 1h0m-1.7 1.2h0m.3 1.3h0m.1 1h0m-.7 .7h0m1.4 .9h0m-1.6 1h0m-.9 1.2h0m1 .7h0m.4 1.3h0m1.3 .9h0m-.1 .7h0m-.8 .6h0m.1 1.2h0m-1.4 .8h0m.2 1.1h0m.5 1.3h0m1.1 .6h0m-.2 1.1h0m-1.1 .6h0m2 .9h0m-1.7 .6h0m.7 .8h0m-1.2 .9h0m.9 .9h0m-.8 .6h0m-.2 .7h0m0 .9h0m1.5 .8h0m.9 .7h0m-2.3 .6h0m1.3 1.1h0m-1.4 .8h0m.4 1.1h0m1.9 1.1h0m-.9 .7h0m-.4 .7h0m.3 1.2h0m-1.1 1.2h0m.8 .8h0m-.1 .8h0m-1.2 .8h0m-.3 1h0m-.1 .7h0m.3 1.1h0m2.5 .7h0m-1.4 1h0m.2 .8h0m-.6 1.1h0m-.6 .6h0m1 1.1h0m-.9 1.3h0m.6 1.1h0m1.2 .7h0m-1.8 .8h0m.7 .9h0m2 .6h0m-2.2 .9h0m-.8 .6h0m-.2 .7h0m2 .9h0m-1.4 1.2h0m1.8 1.2h0m-2 .6h0m2.4 .7h0m-2.9 1.1h0m.4 .7h0m.9 1h0m1.5 1.3h0m-2 .8h0m.5 1h0m-.8 1.5h0m1.4 2h0M1245.7 580h0m-.7 4.2h0m.4 5.6h0m-1.6 4.4h0m1.4 3.1h0m-1.4 1.8h0m1.2 2.6h0m0 1.4h0m-1.4 1h0m-.3 1.5h0m1 .7h0m.3 1.4h0m-2.1 .8h0m1.7 .7h0m-1.3 .6h0m.7 1h0m-.9 1.1h0m1 .9h0m1.8 .7h0m.2 1.3h0m-3.4 .7h0m3.1 1.1h0m-2.1 .8h0m.9 1.2h0m.6 .9h0m.4 1h0m-.3 1h0m-1 .5h0m.1 1.2h0m.1 1.1h0m-1.6 1.3h0m.3 .7h0m2.9 1.2h0m-2.5 .7h0m1.2 .8h0m-1.3 1h0m.7 1.2h0m-.3 .9h0m-1.2 .9h0m3.4 .6h0m-2.2 .8h0m-.2 1.2h0m2 .7h0m-.8 .8h0m-1.8 .8h0m2.3 .7h0m-.4 1h0m-.3 1.1h0m-1.4 1h0m.9 .7h0m-.8 1.2h0m2.2 1.1h0m-2.6 1.1h0m2.5 .7h0m-2.8 .7h0m2.4 1h0m.1 1.1h0m-1.3 1h0m-.3 1.3h0m-.6 .9h0m2.1 1h0m-1.2 .9h0m1 .6h0m.4 .6h0m.4 1h0m-.4 1h0m.7 .8h0m-1.4 1h0m1 .8h0m-1 1h0m.8 1h0m-2.1 1.3h0m.3 1.3h0m1.6 .9h0m-1.4 1.1h0m.7 .8h0m-.5 .9h0m-1.4 .8h0m1.3 1.2h0m1 1.3h0m-1.7 .6h0m.1 .8h0m2.1 .7h0m-2.3 .9h0m1.9 1.1h0m-.8 1.8h0m-1.5 1.3h0M1255.1 590h0m-1 4h0m1 1.6h0m-1.1 2.8h0m-.1 1.7h0m1.4 2.6h0m-.8 1.5h0m-1.2 1.4h0m2.7 2.1h0m-1.6 1.3h0m-.2 1.9h0m2.3 1.5h0m-.5 1.1h0m.7 1h0m-2.9 .8h0m.6 1.3h0m1.9 1h0m-2.3 .8h0m0 1.1h0m0 .9h0m1.6 1h0m.4 .6h0m-1.7 1.3h0m0 1.1h0m2.3 1.2h0m-1.9 1.1h0m-.8 .8h0m2.7 1.2h0m-.1 1.1h0m-3 .8h0m3.3 .9h0m-.6 1h0m-1.5 1.1h0m-.6 .9h0m2.6 .8h0m-1.3 1.3h0m-1 1h0m2 1.1h0m.3 .6h0m-3.3 .7h0m1.3 .5h0m-.6 1.1h0m1.9 1.3h0m0 .7h0m-.2 .7h0m.3 .5h0m-.4 .9h0m-.7 .6h0m-1.3 .8h0m3 .9h0m0 .5h0m-.6 .9h0m-.8 1.1h0m1.4 1h0m-.6 .9h0m-1.7 .9h0m-.7 1.3h0m2.2 1.3h0m.5 .7h0m-.6 .5h0m.1 1.3h0m-.2 1.3h0m.8 1.1h0m-2 1.2h0m.1 .7h0m1.9 .7h0m.2 1.2h0m-1.9 1h0m-.3 1.9h0M1261.2 572h0m2.2 3h0m-2 4.4h0m-.8 4.4h0m1.4 2.4h0m.3 3.3h0m.2 2h0m-1 2.5h0m.6 1.2h0m-1 1.1h0m.7 1.5h0m-1.6 1h0m3 1.6h0m-1 1.2h0m1.5 1h0m-.1 1.3h0m-1 1.1h0m-1.6 1.2h0m1.2 .9h0m.1 .8h0m1.2 1h0m-1.8 .9h0m-1.5 1h0m.1 .5h0m3 1.2h0m-2.2 1.2h0m-.4 1h0m1.4 .9h0m-1.5 1.1h0m1.7 1.2h0m-1.8 1.3h0m2.6 1.1h0m-2 1.3h0m2.3 .8h0m-2.8 1.1h0m.7 1h0m-.7 1.1h0m1 1.1h0m-.5 .7h0m2.5 1.1h0m-3.3 1.3h0m2.2 1.2h0m-2.2 .9h0m1.8 1.1h0m0 .7h0m1.5 .6h0m-.8 1.2h0m-2 1.3h0m2.8 .9h0m-1.1 1.2h0m-.5 .6h0m.1 1h0m-1.1 .8h0m.1 .7h0m-.3 1.3h0m2.9 .7h0m-3.4 .7h0m1.9 .8h0m1.1 1.1h0m-3 1.2h0m.7 1.1h0m2.2 1.1h0m-1 .6h0m-.5 1.2h0m1.3 1.1h0m-2.4 .8h0m-.3 1.1h0m1.6 1.2h0m-1.2 1h0m1.1 .9h0m-1.3 1.1h0m1.6 .7h0m.5 1.2h0m1 .5h0m-1.1 .9h0m.7 1.3h0m-2.1 .8h0m.9 .9h0m.4 .7h0m-1.6 1.2h0m1.3 1h0m1.2 .7h0m-.3 .6h0m.4 .6h0m-.7 .8h0m-.1 1h0m-1.4 1.2h0m1.1 .8h0m-.6 1.1h0m.8 .8h0m-.4 .7h0m.6 .8h0m-2.3 .8h0m1 1.1h0m-1 .8h0m1.6 1.9h0m-1.6 1.3h0M1265.8 572h0m.4 3h0m.1 4.3h0m-2.1 2.5h0m0 3.5h0m1.4 2.6h0m.5 3h0m-1.4 1.4h0m.3 2.3h0m.5 1.6h0m0 1.2h0m0 1.4h0m0 1h0m2.2 1.5h0m-.8 1.2h0m-.1 .9h0m1 1h0m-3.6 .8h0m2.5 .9h0m1 .8h0m-1.2 .7h0m1.2 1.2h0m-.9 .8h0m-.8 .7h0m1 .6h0m-2.6 1h0m1.6 1.3h0m1.5 1.1h0m-1.7 1h0m.2 1.1h0m-1.8 .7h0m3.3 1.1h0m-1.4 1.1h0m-.7 1.2h0m1.6 .7h0m-.8 1.2h0m.2 1h0m-.7 .8h0m.6 .6h0m-.8 1.2h0m1.3 1.1h0m-2 1h0m1.6 .9h0m-2.1 1.2h0m.6 .7h0m-.1 1.1h0m.5 .9h0m.4 1.1h0m.4 .8h0m1.2 1.2h0m-.5 .9h0m0 1.3h0m.2 1h0m-.7 .6h0m-.3 .8h0m-.8 .6h0m1.9 .9h0m.6 1.3h0m-.6 1h0m-2.5 .9h0m2 .8h0m-2 .9h0m2.1 .7h0m-.9 1.3h0m1.6 .9h0m-.8 1.1h0m.5 1h0m-2.7 .8h0m2.2 1.1h0m1 .7h0m-1.8 .9h0m-1.1 .6h0m2 1.1h0m-.6 1h0m.9 .8h0m-2.5 1.3h0m2.5 .8h0m0 1h0m-1.3 .7h0m-1.4 .9h0m.5 1h0m2.2 .9h0m.6 .6h0m-2.1 1.1h0m1.2 .6h0m1.1 .9h0m-1.4 .9h0m-1.7 .8h0m.3 .9h0m.1 .9h0m2.2 1.1h0m-2.1 1.1h0m1.7 .6h0m.8 1.1h0m-1.3 1h0m-1.1 2.1h0M1271.1 573h0m2.6 1.7h0m-.5 2.5h0m.2 1.5h0m-.2 2.4h0m-2.2 1.8h0m.7 2h0m-.9 1.6h0m-.5 1.1h0m.6 1.2h0m1.7 2.1h0m-2.1 1.6h0m3.1 1.2h0m-.2 1.7h0m-.9 1.1h0m0 1h0m-.2 1.1h0m-1.3 .7h0m1.1 .9h0m-.5 .9h0m.6 1h0m-.8 .9h0m1.1 1h0m0 1.1h0m-1 .6h0m1.3 1.1h0m0 1.2h0m-.4 1h0m-.1 .8h0m-.9 .8h0m2.2 .7h0m-2.3 1.3h0m-.9 .9h0m.8 1.2h0m-.2 1.2h0m1.7 .9h0m.8 1h0m-1.6 1.1h0m-.3 .8h0m1.6 .9h0m-1.9 .6h0m-.7 1.1h0m.9 1.1h0m-.4 1.2h0m2.2 1.2h0m-1.1 .8h0m1.4 1.1h0m-.2 1h0m.3 1.2h0m-1.9 .7h0m.6 1h0m-.1 .6h0m-.2 1.3h0m-.8 .7h0m.4 1.2h0m-.5 .6h0m-.4 1h0m1.1 .9h0m-.7 1.1h0m.7 .6h0m.3 .7h0m1.1 .9h0m-1.2 .7h0m-1.4 .7h0m1.5 .7h0m.2 .9h0m-1.9 1.1h0m3.1 1.3h0m-2.8 .7h0m-.3 1.1h0m.8 1.1h0m-.6 1.2h0m0 1h0m2.1 .6h0m-2 1.2h0m-.1 1.2h0m.4 .8h0m1.2 .8h0m.8 .5h0m.5 1.2h0m-2.9 1h0m0 .8h0m1.7 1.2h0m.6 1.1h0m.7 1.1h0m-2.2 .7h0m.9 .9h0m-1.3 .9h0m1.5 .8h0m.6 .6h0m-1.5 .7h0m-.8 1.2h0m.1 .9h0m1.4 .6h0m-.7 1.3h0m-.3 1.2h0m1.9 1.1h0m-.5 .6h0m-1.2 1h0m1.8 .9h0m-1.8 1.2h0M1282.7 598h0m.6 3h0m-.5 3.3h0m-.8 3h0m-.8 2.9h0m1.9 2.4h0m-1.3 2.2h0m2.2 1h0m-1.8 1.4h0m1.2 1.8h0m-.1 1h0m-1.9 1.4h0m2 1.2h0m1 .9h0m-1.2 1h0m-.4 .9h0m-.2 1.4h0m-.5 1h0m.1 .9h0m2.4 1.2h0m-.6 .7h0m-.4 1.2h0m-1.4 1.3h0m1.8 1.2h0m-1.1 1.1h0m1.7 1.1h0m-3.3 .7h0m.1 1h0m2.9 1.2h0m-2.6 1.3h0m-.3 .9h0m.2 1.1h0m.3 .6h0m2.4 .7h0m-.6 1.2h0m-.9 1.1h0m-.9 .7h0m-.4 .6h0m1.7 .7h0m0 .7h0m-.9 .9h0m.4 .6h0m1.2 1.2h0m-1.6 1.1h0m1.7 .6h0m-1.1 .6h0m-1 .9h0m.4 .6h0m.7 .9h0m.5 1.2h0m-1.5 1.3h0m.5 .7h0m-.3 .7h0m.4 .9h0m1.4 .8h0m.5 1.1h0m-1.2 1h0m1.2 .9h0m-.2 .8h0m-.3 1h0m-1.8 1.1h0m.6 1h0m-.2 .7h0m-.2 1.2h0m1.3 .7h0m-.3 .9h0m-.3 .6h0m.2 .9h0m-.1 .9h0m-1.6 1.3h0m.9 .6h0m-1.2 .7h0m2.9 1.1h0m-2.3 .5h0m.7 .7h0m-1.1 1.3h0m1.6 1.1h0m-.7 1.1h0m1.3 1.9h0M1289.6 605h0m-.6 1.8h0m1.6 3.6h0m-.4 3.7h0m-1.2 2.7h0m.2 2.8h0m1.4 2.3h0m.2 3.3h0m-.3 4.2h0m-1.3 4.4h0m1.1 3.8h0m-1.1 3.2h0m1.7 3h0m0 3.7h0m-1.8 3.9h0m1.6 2.7h0m-.7 3.7h0m-.2 2.9h0m-.1 2.5h0m.5 2.9h0m-.9 1.9h0m.9 3.4h0M1293.7 577.3h0m-.1 7.7h0m0 5.2h0m0 5.6h0m.1 4.3h0m.6 2.8h0m-1.3 3.9h0m.4 2.4h0m1.5 2.9h0m-.4 4.4h0m-.5 4.5h0m-.8 3.3h0m.3 3.8h0m-.1 3.2h0m.4 3h0m.2 4.3h0m-.5 3.8h0m.6 3h0m-.3 2.4h0m-.6 1.4h0m1.2 2.5h0m.1 3.3h0m-1.1 1.6h0m-.2 4.4h0m.9 1.9h0m.7 2.9h0m-.6 4.2h0m-.3 2.8h0M1298 604.2h0m.4 3.8h0m.3 1.7h0m-.2 4.4h0m.4 1.9h0m-1.9 1.9h0m1.4 3.6h0m-.3 3.9h0m-1.1 1.6h0m1.6 3.5h0m0 2.5h0m-.7 2.6h0m.5 3.6h0m-1.2 3.5h0m1.4 3.6h0m-.3 3.9h0m-.9 3.3h0m1.6 4.6h0m-.7 2.2h0m-.4 3.8h0m-.2 2.3h0m1 1.9h0m.4 3.1h0m-.1 2h0M1301.2 590h0m-1.8 2h0m.2 2.6h0m.4 2.8h0m1.5 3h0m.8 1.2h0m-2.3 2.2h0m1.6 1.6h0m-1 2.2h0m2 1.9h0m-1.2 1.9h0m-1.9 1.6h0m2.8 1.4h0m0 1.1h0m-.1 .9h0m-1 .9h0m-1.6 1.2h0m.9 .6h0m1 1h0m1.1 1.3h0m-.8 .6h0m-2.4 .7h0m3 .6h0m-1.3 1.1h0m.4 .9h0m-.6 .7h0m-1.6 1.2h0m.2 1.1h0m.3 .9h0m-.4 .6h0m3.3 .9h0m-1.9 .7h0m-.3 .8h0m.1 .7h0m-.9 1.3h0m2.4 1.1h0m-.4 .9h0m1.1 1h0m-.9 .6h0m-.3 1.1h0m-2.2 1.3h0m2.5 1h0m-.8 .6h0m.5 1.2h0m.5 .8h0m-2.1 1.3h0m2.2 .7h0m-1.5 1.1h0m2 1.3h0m-2.1 1h0m-1.4 .6h0m1.6 .9h0m-.8 .6h0m1.9 1.2h0m-2.3 .8h0m2.9 1.3h0m-.8 1.1h0m-1.5 1h0m-1 1h0m.7 .8h0m1.9 .6h0m-1.5 .9h0m1.2 1.2h0m1 1h0m-1.7 .7h0m1 .6h0m-2.5 1.1h0m.2 .8h0m1.9 1.2h0m.3 .7h0m.7 1.3h0m-3.1 .8h0m.8 .8h0m.3 1.2h0m-.2 1.6h0m2.3 2.1h0M1308.3 562h0m3 3.5h0m-.5 1.8h0m-1.5 1.6h0m-.5 1.9h0m3 2.4h0m-.2 1.9h0m-2.9 1.5h0m2.4 1.4h0m-1.6 1.4h0m.9 2h0m.9 1.3h0m-2.4 .9h0m1.1 1.4h0m1.1 1.4h0m-2.3 1.3h0m.2 1.3h0m.3 .7h0m.7 .9h0m.5 .7h0m1.3 .9h0m-.6 .9h0m-.8 1.2h0m-1.9 1.1h0m3.2 1.2h0m-3.2 1.2h0m.8 .7h0m-.2 .7h0m1.2 .6h0m-.9 1.3h0m1.9 1.1h0m0 1h0m-.9 .7h0m-2.2 1.1h0m.9 1.3h0m1.9 .9h0m-2.3 .9h0m2.6 1.3h0m-1.9 .9h0m-.1 .6h0m1.6 1.3h0m-.4 .6h0m-.5 .6h0m-1.7 1.3h0m3.4 .9h0m-1.9 .7h0m1.4 1.1h0m-.9 1h0m.3 .9h0m0 1.3h0m-1.6 .7h0m1.6 .9h0m-1.4 1.2h0m-.7 .7h0m-.2 1.1h0m1.5 .6h0m1.9 1.1h0m-2.2 .8h0m-.8 .6h0m2.4 .7h0m-.4 1.1h0m-1.8 1.1h0m1.2 1.3h0m1 .7h0m-2.8 .8h0m.4 1.1h0m2.5 1.3h0m.5 .8h0m-1.5 1h0m1.2 .7h0m-2.2 1h0m.1 .8h0m2.3 .8h0m-1.1 1h0m-2.1 1.1h0m2.6 1h0m.6 .6h0m-3.3 .9h0m1.4 1.3h0m2 1.2h0m-2.5 .6h0m.1 .9h0m.2 1.1h0m.2 .9h0m.5 1.1h0m1.1 .9h0m.5 .8h0m-3.3 .7h0m2.9 1.1h0m-2 .5h0m1.4 1.1h0m-.1 1h0m-.4 1.2h0m-1.4 .8h0m2.2 .8h0m-1.6 1.2h0m2.2 .8h0m-2.1 .6h0m1.1 1h0m0 .8h0m-1.8 .9h0m2.1 1.7h0m-2 4.5h0m.6 3.1h0m1.1 2.7h0M1331.2 586h0m-1 2.8h0m1.4 1.6h0m-1.1 2.1h0m-.8 3h0m1.2 1.8h0m.6 2.4h0m-2.1 1.6h0m.9 1.7h0m.9 1.8h0m-2.1 1.6h0m1.9 1.6h0m-2.4 1.6h0m2.7 1.1h0m-2.5 1h0m1.9 .7h0m-1.3 .7h0m-.6 1h0m2 1h0m-1.4 .6h0m1 1.1h0m-1.2 1h0m2.4 .8h0m-2.4 .9h0m-.6 .9h0m3 1h0m-3.4 1h0m.7 1.2h0m.3 .6h0m-1 .9h0m1.5 1.3h0m1 .6h0m-2.4 1.3h0m.3 .6h0m1 .9h0m2.1 .5h0m-2.5 1.2h0m.7 1h0m-.8 1.1h0m1.7 1.3h0m-.6 1h0m-1.9 1.1h0m1.7 1.2h0m-.5 .7h0m1.5 1.1h0m-1.4 .7h0m-1.2 1.3h0m3.2 .8h0m-1.5 1.1h0m-1.6 .9h0m.9 1.1h0m2.3 .6h0m-1.8 .6h0m.3 1.1h0m.7 .8h0m-.2 .8h0m1 .8h0m-2.7 1.2h0m.8 1.3h0m-1.1 .8h0m-.4 .6h0m1.3 .8h0m1.9 1h0m.2 1.1h0m-.4 1.2h0m-2.9 .8h0m1.1 1h0m-1.2 1.3h0m.9 1.3h0m1.6 1h0m.2 .9h0m-2.4 1.2h0m3.1 1.2h0m-1.4 1.1h0m-1.7 1h0m.7 1h0m2.2 .7h0m-2.6 .8h0m1.2 1.2h0m-1.3 1.5h0m.9 2h0M1337.7 635.2h0m-.5 3.4h0m-.1 4.2h0m.4 5.8h0m.3 3.2h0m1.1 3.9h0m-1.2 2.2h0m.3 4.1h0m.1 5.7h0m.3 4.7h0m-.5 3.5h0M1341.6 568h0m2 3.9h0m.6 1.8h0m-1.5 2.2h0m-.4 2.7h0m1.7 2.3h0m-2.2 2h0m2.1 1.2h0m-1.4 1.8h0m.7 2h0m-1.3 1.9h0m2.8 1.6h0m-2.8 .9h0m.4 1.1h0m-.7 1.2h0m-.1 .7h0m.9 .7h0m.9 1.2h0m0 .7h0m1.4 1.4h0m-1 .6h0m.6 .6h0m-.8 .8h0m-.7 1.3h0m-1.4 .8h0m2.2 1h0m-2.1 1.1h0m.7 .8h0m-.6 .6h0m2.7 .8h0m-.9 1.2h0m-1 .8h0m-.7 1.2h0m2.9 .6h0m0 .8h0m-3 .7h0m2.7 .8h0m-.9 1.2h0m-.6 1h0m1.8 .8h0m-3 .8h0m1 1h0m2 .8h0m-1.7 1.1h0m-1 1.2h0m2.8 .7h0m-.8 .6h0m-2.3 .8h0m2.2 1.2h0m-1.8 .8h0m1.9 1.1h0m-2.6 .8h0m1.9 .8h0m.8 .8h0m-2 .9h0m-.3 .9h0m3 1.1h0m-2.9 .7h0m.3 1h0m.9 .7h0m.6 .7h0m-1.6 .9h0m1.2 1.2h0m.8 1.2h0m-2 .7h0m1 .8h0m-1.4 1.1h0m-.3 .7h0m3.2 1.2h0m-1.2 1h0m-.9 .8h0m-1.2 .9h0m1.7 .7h0m.5 .8h0m-.8 .7h0m-.6 1.2h0m-.8 1.3h0m3.5 1.3h0m.1 1.2h0m-1.8 1.3h0m-1.2 1.2h0m0 1.1h0m2.2 1.2h0m0 1.1h0m.1 .8h0m-.6 1.2h0m-1.5 1.1h0m1.8 .8h0m-.6 1h0m-1.9 .7h0m2.9 .9h0m-2.5 1.3h0m.5 1.3h0m.5 1.2h0m.6 1.2h0m-1.9 1h0m3.1 .7h0m-1.1 .6h0m.1 1.2h0m.2 1h0m-1.5 1.1h0m.1 .7h0m-.3 1h0m.9 .8h0m.6 .8h0m-.4 1.3h0m-1.1 1.1h0m2.3 1.3h0m-3 .6h0m.8 .8h0m-.3 .7h0m1.2 1.4h0m0 1.7h0m1.7 1.3h0m-.7 3.8h0m-1.2 7.2h0m1.3 3.5h0m-1.3 2.9h0M1351.8 560h0m-2.4 2.6h0m-.1 2.4h0m3.3 2.6h0m.1 2.5h0m-1.5 2.1h0m-1.9 2h0m1.6 1.5h0m1.5 1.7h0m-2 1.8h0m1 1.9h0m-.3 .9h0m-.5 1h0m1.6 1.4h0m.4 1.3h0m-3 1.2h0m2.8 1.1h0m.3 .9h0m-1.3 .6h0m-.1 .8h0m-.2 .7h0m1.4 .7h0m-1.5 1.3h0m.2 .6h0m1.3 .7h0m-2.9 1.2h0m1.9 .7h0m-1.9 .7h0m-.3 .7h0m.4 1.2h0m.5 .6h0m1.8 .6h0m-.9 1.1h0m1.4 1.3h0m-2.7 1h0m-.6 1.1h0m2.8 1.2h0m-2.4 1.1h0m2.4 1.2h0m-1.2 1.2h0m1.6 .8h0m-.8 .9h0m-1.7 1.1h0m2.2 1h0m-2 1.3h0m.8 .8h0m-1.7 .7h0m2.7 1h0m-2.2 .9h0m-.1 .8h0m-.2 1h0m0 .8h0m3.1 .9h0m-2.9 1.1h0m2 .6h0m-.3 .7h0m-1.7 .5h0m1 1.3h0m-1.2 .7h0m1.8 1.1h0m-1.7 1.1h0m.8 .9h0m.5 .5h0m.2 1h0m-.2 1.1h0m-1 .9h0m.2 .8h0m1.6 .9h0m-1.6 .9h0m-.3 1.1h0m2.7 1.2h0m-2.6 .7h0m-.5 1h0m1.7 .9h0m-1.1 1.1h0m-.4 1.1h0m1.2 1h0m.2 .8h0m.8 .8h0m-2.5 1.1h0m1.1 .8h0m1.9 1.1h0m.2 1.1h0m-1.2 1.3h0m.6 .5h0m.7 1.2h0m-2.9 .9h0m.2 .9h0m.1 .8h0m2.8 1.2h0m-1.4 1.1h0m1.2 1.6h0m-1.9 1.4h0m-.7 1.5h0m.9 3.5h0m.4 8.3h0m.1 3h0m-.3 3.3h0m.6 4.4h0M1361.8 574h0m1.7 3.5h0m-.8 2.4h0m.9 1.6h0m-1.1 1.5h0m-1.9 1.9h0m1 1.4h0m.5 1.3h0m.8 2.5h0m-1.1 2.1h0m-1.5 1.1h0m1.4 1.5h0m-.4 1.5h0m1.2 1h0m-.7 1.6h0m-1.5 1.4h0m3 1.1h0m-.3 .6h0m-2.5 1h0m3.2 1.1h0m-3 .8h0m-.3 1h0m2.1 1.3h0m-2 .9h0m-.3 .8h0m1.7 .7h0m0 .7h0m-1.5 1.1h0m2.1 1.2h0m-2.2 1h0m1.3 1.3h0m1.1 .7h0m-1.8 .9h0m2.5 .6h0m.3 1.2h0m-1.9 1.1h0m-1.3 1.2h0m2.8 .9h0m-.2 .9h0m-1.8 1.2h0m-1 1.2h0m-.1 1.2h0m.1 .6h0m1.9 .7h0m0 .9h0m-.8 1.2h0m2 .6h0m.3 1.3h0m-1.5 1.2h0m1.3 .6h0m-2 1.3h0m-1.1 .7h0m.6 .8h0m.4 .8h0m.3 1.2h0m.6 .7h0m-1.8 .9h0m.8 .9h0m2.1 .7h0m-1.4 1.3h0m-.3 1.2h0m.3 1.2h0m-.7 .8h0m2 1.2h0m.2 1.3h0m-3.2 .7h0m2 1.1h0m-1.2 .8h0m1.9 1.1h0m-1.6 .6h0m-.2 .8h0m-.9 1.2h0m2.8 .8h0m-1.3 .6h0m1.9 1.2h0m-.7 1.1h0m-1.3 1h0m.2 .6h0m-1.4 .6h0m2.9 .9h0m-1.4 .8h0m.4 .7h0m1.3 1.2h0m-2.6 .6h0m.8 .9h0m.9 1.3h0m-2 1h0m1.2 1h0m-1.8 1.1h0m1.2 .8h0m.6 .9h0m.1 1.1h0m-.2 .7h0m-1.5 1h0m1.8 1h0m.4 1h0m-2.1 1.1h0m.7 .8h0m2.2 1h0m-.4 .9h0m-1.9 .5h0m2.3 1h0m0 1.1h0m-2.2 1.5h0m-.4 1.9h0M1373.6 650.4h0m1.2 3.2h0m-1.1 4.9h0m1.7 3.3h0m-.3 4.4h0m-1.5 6.2h0m1.5 2h0m-1.1 5.4h0m.8 5.4h0m0 3.3h0m-.4 5.2h0m-.6 4.2h0m-.3 2.1h0M1384.8 578h0m-.5 6h0m-2.7 3.7h0m1.6 4.2h0m.6 2.8h0m.8 1.7h0m-1.2 2.1h0m-.1 1.6h0m-1.5 2.1h0m1.9 1.1h0m-.7 1.5h0m.1 1.5h0m-.8 .8h0m.2 .9h0m2 .7h0m-2.6 .8h0m1 .6h0m-.1 .6h0m.1 .7h0m-.8 .6h0m-.7 1.3h0m2.8 .9h0m-2.5 1.2h0m1.5 .7h0m1.3 1.1h0m-2.8 1h0m1.6 .6h0m-1.2 1.2h0m1.8 1.1h0m-2 .5h0m.1 .9h0m1.5 .7h0m-.1 .6h0m-2.1 1.3h0m.3 .7h0m2.4 1h0m-1.7 1.1h0m.9 .8h0m-1.7 .9h0m2.6 1.3h0m-2.6 1.1h0m.2 .9h0m.2 1.3h0m1.2 .6h0m-.3 .9h0m.4 1.1h0m1.2 .9h0m-1.3 .7h0m.9 .6h0m-.8 .7h0m-1.7 1.1h0m1.5 .6h0m-1.1 1h0m2.7 .8h0m-2.8 1h0m.4 1h0m-1 .6h0m3.5 1.2h0m-.9 .7h0m-2 1.1h0m2.6 1.3h0m-2.3 .6h0m.5 1.1h0m-1.3 .6h0m3.3 1.2h0m-.7 .9h0m.9 1.1h0m-1.9 .7h0m1.7 1h0m-.6 1.3h0m-1.6 .9h0m1.5 1.3h0m-1.7 1.3h0m.6 .9h0m1.6 .9h0m-.6 .9h0m.7 .9h0m-2.2 1.2h0m2 1.3h0m-.6 1.1h0m-2 .9h0m.8 .6h0m1.8 1.1h0m-.6 .8h0m.7 1.2h0m-3.2 1.8h0m1 2.1h0M1384.4 582h0m-.1 4.3h0m.1 4.4h0m1.9 2.3h0m-2.1 2.1h0m3 3.5h0m.1 2.2h0m0 2.1h0m-3 1.2h0m1 1.8h0m1.6 1.5h0m-1.6 1.3h0m.3 1.6h0m.5 1.1h0m.1 .6h0m-1.4 1.1h0m1 1.1h0m-.2 1.2h0m1.9 .6h0m.1 .8h0m-2.1 1.1h0m1.6 .9h0m-2.4 1.2h0m-.2 .8h0m.7 .9h0m1.4 .8h0m-1.7 1.2h0m.8 1h0m-.3 1h0m-.1 .6h0m.7 1.3h0m-1.7 1.2h0m3.2 .7h0m-1.2 .7h0m-1.6 .6h0m2.6 1h0m-3 .9h0m3.5 .7h0m-1.7 1.2h0m-.8 .8h0m-.3 .5h0m.5 1.2h0m2.1 1.2h0m-2.4 1.1h0m-.6 .9h0m.9 .7h0m1.8 .6h0m-1.8 .9h0m.3 1h0m-.2 .8h0m-.3 .9h0m.6 .8h0m1.2 1.2h0m-1.2 1.2h0m-1.5 1.3h0m2.2 1.1h0m.6 .6h0m-.8 .8h0m.1 .6h0m-1 1h0m1.6 .8h0m-2.9 1.3h0m1.9 .8h0m-.7 .7h0m1.9 1h0m-1.7 1.2h0m2.1 1.2h0m-2.8 .6h0m-.4 1.3h0m3.3 .8h0m-2.9 1.1h0m2.9 .9h0m-.8 .7h0m-1.3 .8h0m.9 1.2h0m1.1 .9h0m-.1 1.2h0m-3 1h0m.3 1.1h0m-.2 1.2h0m2.3 2h0M1412.1 616h0m-1.1 3.6h0m-1.4 3.5h0m0 1.3h0m2.4 1.5h0m-2.4 2.2h0m2.2 2.2h0m-1.6 1.8h0m2.5 1.3h0m-3.3 1.5h0m1.8 1.3h0m-.1 1.4h0m.5 .9h0m0 1.1h0m.9 1.5h0m-.6 .9h0m-1.5 .8h0m1.6 .6h0m.2 .7h0m0 1h0m-2.3 1.1h0m2.2 1.1h0m-.1 .9h0m-2.5 .8h0m0 .9h0m3 .8h0m-.6 1.2h0m-2.2 .8h0m-.2 1h0m2.6 1.1h0m-1.8 .6h0m.3 1h0m-1.3 1h0m2.3 1.2h0m-2.1 .7h0m.3 .6h0m0 .9h0m.7 .6h0m-1.2 .6h0m2.1 1.1h0m-1.2 .8h0m.5 .8h0m-.9 1h0m1.7 1.1h0m.6 1.1h0m-.8 1.2h0m1.1 .6h0m-1 1h0m-1.9 .8h0m3 .7h0m-1.9 .9h0m.3 1.2h0m-.3 .8h0m.8 1.2h0m-2.1 1.7h0M1427.8 572h0m-1.3 6.5h0m2.2 2.5h0m-.5 2.7h0m-.4 3.9h0m-.8 1.9h0m-.8 2.3h0m2.5 1.9h0m-1.3 1.8h0m-1.3 1.4h0m-.6 1.7h0m1.9 1.2h0m-1.6 1.5h0m1.7 1.4h0m-1.1 .6h0m2 .7h0m0 1h0m-1.6 .6h0m-1.1 1.2h0m1.7 .8h0m-1.4 1.2h0m-.7 .7h0m2.2 1h0m-1.8 .6h0m1.8 .9h0m.9 .6h0m-1 .9h0m-.8 1h0m0 1h0m.5 1.1h0m-.5 .6h0m1.8 .6h0m-1.6 .6h0m-.1 1.1h0m-.8 .6h0m.2 .9h0m-.1 1.1h0m1.7 1.3h0m-1 .7h0m-.9 1h0m-.1 1.2h0m1.3 1.1h0m-1.5 1.2h0m1.7 .6h0m-1.1 .8h0m1.9 .8h0m-2.3 .9h0m.1 1h0m.4 .6h0m.8 .8h0m-1.3 .8h0m-.1 1.1h0m2.5 1h0m-.5 .8h0m-.1 .7h0m1.2 .7h0m0 1.2h0m-1.9 1.1h0m1.3 1h0m-1.1 1.2h0m-1.1 .8h0m1.8 .8h0m-.3 .6h0m.6 .6h0m-1.2 .7h0m1.1 1.2h0m-.3 .6h0m1.2 .9h0m-1.4 .7h0m-.4 .9h0m-.3 1h0m.7 1.1h0m-1.4 .8h0m1.2 1h0m-.4 .7h0m-.1 1.2h0m.7 .8h0m-.9 .6h0m-1.2 1.2h0m1.2 .7h0m-1.2 .7h0m2.1 .9h0m.4 .6h0m-.3 1h0m0 .7h0m.9 1.3h0m-3.1 .8h0m2.6 .8h0m-.5 .9h0m-.6 1.1h0m1.1 .7h0m-.8 .9h0m.1 .8h0m1 1h0m-1 1.1h0m.8 1.2h0m-2.4 1.1h0m1.2 1.2h0m1.1 .8h0m-.5 .7h0m.2 .6h0m.2 1.1h0m.2 .9h0m-1.1 .7h0m-.7 1h0m2.4 1.3h0m-3.3 .9h0m2.5 .8h0m0 1h0m.3 .9h0m.5 1.2h0m-.7 1h0m-1.8 1.1h0m-.5 1.3h0m-.1 .9h0m2.4 1.2h0m-1.5 .7h0m-.4 1.5h0m.3 1.2h0m.7 1.7h0M1429.2 580h0m-.8 6.4h0m.5 2.8h0m1.6 3.3h0m1.1 2.7h0m-3 2.4h0m1.8 1.4h0m.5 1.3h0m-1.8 2.1h0m2.6 2.2h0m-3 1.2h0m.5 1.2h0m-.5 1.4h0m1 1.1h0m-.1 1.3h0m-1.3 .6h0m1.3 .9h0m1.2 .9h0m-.7 .8h0m-1.9 .6h0m2.5 .9h0m.9 .8h0m-3 .6h0m.4 .7h0m-.2 .6h0m.5 1.3h0m2.1 1.2h0m-.4 .9h0m-.5 1.1h0m-.1 1h0m.1 .6h0m.9 1h0m-1.4 1.2h0m-.8 1h0m-.4 .7h0m.5 1h0m1.5 .7h0m-2.1 1.2h0m.8 1.3h0m1.1 .9h0m.6 1.2h0m-.8 1.2h0m-2.2 1h0m.2 1h0m.8 1.2h0m-.8 1h0m.5 1.2h0m.4 .6h0m1 1.1h0m-.6 .7h0m-.8 .6h0m2.7 .6h0m-1 .7h0m-2.1 1h0m2.6 1.2h0m-2.5 1.1h0m2 .6h0m.2 1.3h0m-.2 .5h0m-1.7 .6h0m1.8 .9h0m-1.6 .8h0m.3 1.1h0m-.9 .8h0m2.4 .8h0m-.8 .6h0m.4 .7h0m-.6 .8h0m1.7 1h0m-1.6 .7h0m-1.7 1h0m.7 .6h0m-.8 .9h0m1.6 .7h0m1.9 1.1h0m-3.2 1.3h0m1.7 .6h0m-1.5 .9h0m2.8 .9h0m-1.7 1h0m.6 .8h0m-.1 1.2h0m.4 .8h0m-.3 1h0m-1.9 .8h0m.8 1.2h0m.2 .6h0m1.3 .7h0m.4 .5h0m-2.6 1h0m1.1 1.1h0m-.4 1h0m.1 .7h0m2.3 1h0m-1.7 1h0m.9 1.1h0m-2.5 .9h0m.3 1.2h0m.6 .7h0m.4 1h0m-.9 .9h0m2.1 1.1h0m.5 1h0m-.3 .6h0m-1.2 1.2h0m1.8 .8h0m-.1 1.1h0m-.7 .6h0m-2.6 .8h0m3.1 1.1h0m-1.2 1.2h0m-1.7 1h0m.7 1h0m-.7 1.2h0m.7 .7h0m.1 .9h0m.7 .8h0m.1 .7h0m-.3 .6h0m.3 1h0m0 .5h0m-.6 1.3h0m1.7 .7h0m-.1 1.2h0m-2.1 .9h0m1.5 .6h0m.1 .8h0m-.8 .9h0m.7 1.7h0m-.2 1.6h0M1437.9 602h0m-2.6 2.8h0m.6 1.7h0m1.7 1.5h0m-2.2 2.6h0m1.5 3h0m-1 2.5h0m2.7 2h0m-2.4 1.8h0m.2 2h0m.6 1.3h0m1.4 1.1h0m-2.8 1.2h0m2.3 1h0m-2.5 1.5h0m2.9 1.3h0m-1.1 .6h0m.3 1.4h0m.2 1.3h0m.6 .8h0m-2.7 .9h0m-.3 .8h0m0 1.2h0m.5 1.3h0m1.8 .6h0m-.5 .9h0m-.5 .8h0m1.9 .9h0m-.2 .9h0m-1.9 1h0m.6 .7h0m-1.7 1h0m2.3 .8h0m1.1 .8h0m-.8 1h0m.3 .6h0m-2.5 .9h0m.2 .8h0m2.6 .9h0m-2.6 .9h0m.6 1.1h0m1.6 1h0m-2.1 .7h0m1.6 .6h0m.9 .6h0m-.2 .6h0m-.4 1.2h0m-1.3 1.3h0m.7 1h0m-.1 .6h0m-.9 1h0m-.8 .8h0m.3 .6h0m-.5 .6h0m1.7 .7h0m-1.3 1.1h0m2.5 1.3h0m-2.6 .9h0m-.3 .9h0m2.1 .7h0m1.1 .8h0m-.8 1h0m-.7 1.2h0m.5 .8h0m-1.7 .7h0m2.2 .6h0m-2.1 1h0m-.2 1.4h0m.7 1h0m1 2h0M1445 607.5h0m-.1 5h0m.5 4.1h0m-1 5h0m0 4.5h0m.4 3.3h0m-.1 5.5h0m-.5 2h0m1.2 3.7h0m-1.5 3.1h0m-.5 2.1h0m.8 3.3h0m-.8 4.3h0m1.7 6h0m-.8 2.5h0m-.8 5h0m.3 2.8h0m1.1 4.2h0m-.8 5.3h0m-.6 1.9h0m0 3.5h0m1.5 3h0m-1 3.9h0m1.1 3.7h0M1450.7 579.1h0m1.7 8.1h0m-1.5 5.6h0m1.8 11.2h0m.1 4h0m-2.4 2h0m2.5 3.2h0m-2.9 2.4h0m1.9 1.3h0m.5 2.5h0m-.5 1.7h0m.9 1.5h0m.2 1.5h0m-1.5 1.3h0m.7 1.8h0m-2.4 1.1h0m.8 1.1h0m-.6 1h0m1.1 1h0m-.1 1.3h0m.9 1.2h0m.7 1h0m-2.3 1.2h0m-.4 .8h0m.1 1h0m3.1 .8h0m-1.8 .8h0m1.3 .8h0m-1.1 .9h0m-1.1 1.2h0m2.6 .6h0m-.5 1.1h0m-.8 1.2h0m-1.2 .6h0m-.2 1.1h0m1 1h0m1.3 1.2h0m-2.4 .8h0m1.9 1h0m-.6 .6h0m-.5 .6h0m2.1 1.1h0m-2 .7h0m2.1 .9h0m-.5 1.2h0m-.2 .7h0m-2.6 1h0m1.7 .9h0m-1.2 .7h0m-.6 .8h0m1.9 .8h0m0 .8h0m-.2 1.2h0m.7 .9h0m-2 1.2h0m2.9 1.1h0m-2.6 1.3h0m.5 1.2h0m-.2 .8h0m1.3 1.1h0m-1.2 .7h0m1.9 1h0m-.6 1h0m.7 .8h0m-.9 1h0m-.1 .8h0m-.7 .7h0m.2 1.3h0m-.1 .7h0m1.1 .7h0m0 .7h0m-1.1 .9h0m2 1.2h0m-2.7 1.6h0m-.3 1.5h0M1464.5 544h0m-2.3 1.8h0m.9 1.9h0m-1.4 3.2h0m.9 2.9h0m.8 2.1h0m1.2 2.6h0m-1.3 2.4h0m.7 2.1h0m-.7 1.5h0m-1.5 1.1h0m.3 1.3h0m2.5 .7h0m.1 .9h0m-2.6 1.2h0m-.6 1h0m.8 1.1h0m-.3 .6h0m2.5 .9h0m-.3 .8h0m-1.8 .9h0m.6 .8h0m.4 .8h0m1 1.1h0m-1.1 .9h0m-.2 .7h0m-1.2 1.2h0m-.7 .6h0m1.4 .7h0m0 1h0m.6 1.3h0m-1.2 1.2h0m1.1 .7h0m.6 .6h0m.1 .7h0m.4 1h0m.4 .7h0m-1.9 1.3h0m-1.5 1h0m1.5 .9h0m1.2 1.2h0m.9 1h0m-2.4 .6h0m2.1 1h0m-.5 .8h0m-1 1.2h0m.9 1h0m.3 1.1h0m0 .6h0m-.9 .6h0m-.2 .8h0m-.9 1.2h0m1.7 .9h0m-.7 .9h0m1.5 1.1h0m-1.9 .6h0m-1.5 1.1h0m1.2 1.2h0m1.4 .6h0m-.1 1.1h0m.1 1.1h0m.4 1.3h0m-2.8 .6h0m.9 1.1h0m2.1 .8h0m-1.8 .7h0m.9 1.3h0m-1.7 1h0m.8 1.1h0m-.2 1.3h0m.2 .8h0m1.2 1.3h0m-2.6 1h0m1.1 .6h0m0 1.1h0m.3 .8h0m1.4 .6h0m.6 .8h0m-1.4 1.2h0m.5 1h0m1 .6h0m-1.6 1h0m.1 1.1h0m-.2 1.1h0m-1.3 .9h0m.8 .9h0m.6 1.2h0m-.8 1.8h0M1468.7 600h0m-1.8 4h0m1.8 1.7h0m.2 2.9h0m-2.4 1.8h0m2.7 1.8h0m-.6 1.5h0m.8 1.5h0m-1 1h0m.4 1.3h0m-1.1 1.6h0m.1 2h0m.7 1.5h0m-.2 1h0m1.4 1.6h0m-1.3 1.1h0m-1.8 1.2h0m1.7 .8h0m-.5 1.3h0m.5 1.2h0m1.2 1.2h0m-1.9 .8h0m1.4 .6h0m.3 1h0m-1.5 .6h0m-.9 1.2h0m2.4 .9h0m-2.4 1.1h0m.6 .9h0m-1 .9h0m1.7 1.2h0m.4 1.2h0m-1.1 .6h0m-.2 .7h0m1.7 1.1h0m-.1 .6h0m-2.6 .6h0m.2 1.2h0m2.6 1h0m.1 .6h0m0 .8h0m-1.3 1.1h0m-.2 1h0m.6 .7h0m-1.9 1h0m.7 .9h0m1.3 .8h0m-.9 .8h0m1.3 .5h0m1 1.2h0m-2.2 .9h0m.8 .8h0m-1.9 1h0m3 .9h0m-1.1 .8h0m-1.8 1.3h0m.8 1.2h0m-.1 1h0m.5 .7h0m.4 1.1h0m.6 .6h0m-2.3 .9h0m3.1 .8h0m-.1 1.1h0m-2.9 .8h0m.3 .5h0m-.6 1.3h0m0 1h0m3.3 .6h0m-.2 1.1h0m-2.7 .8h0m2.2 1.1h0m-.2 .8h0m-2.3 1.1h0m.4 1.9h0m.5 2h0M1473.1 574h0m-1.9 3.4h0m.2 3.9h0m1.9 4h0m-.8 3.7h0m.1 2.5h0m.1 1.8h0m.8 1.4h0m-.6 2.1h0m-.6 1.5h0m.3 1.3h0m-.6 .9h0m1.4 1.1h0m-.1 .7h0m.3 1.5h0m-2.3 .8h0m1.8 .7h0m-2.1 1.1h0m.1 1.1h0m-.7 1.1h0m1.3 1.2h0m.4 1.2h0m.9 .7h0m-2.7 1.1h0m.4 .6h0m1.5 .9h0m1.3 1h0m-1.3 .9h0m1.4 1h0m-1.5 1.3h0m-1.5 .8h0m.3 .7h0m1.5 .9h0m-.3 .6h0m1.3 1.2h0m-.2 1.2h0m-1.2 .9h0m1.7 .6h0m-3.4 .9h0m2.6 1.2h0m-1.9 1.1h0m1.3 .6h0m-.2 .7h0m-.6 1h0m1.9 1.2h0m-3.1 1.3h0m2.6 .9h0m-.1 .8h0m-.8 .7h0m-.4 1.3h0m.6 .6h0m-.2 .7h0m1.7 1.2h0m-1 1h0m-.2 .9h0m-.8 1h0m.2 .8h0m.9 .5h0m-1.4 1h0m1.5 1.1h0m-.7 .9h0m-1.8 .7h0m.8 1.1h0m.5 1.1h0m1.6 1.1h0m-2.6 .6h0m-.2 .9h0m1.2 .6h0m1.8 .6h0m-3.2 1.2h0m2.5 1h0m-2.5 .6h0m2.6 .7h0m-2.2 .7h0m1.2 1h0m-1.3 1h0m1 .6h0m.1 1h0m1.1 1.1h0m-.2 1.1h0m-.3 .8h0m1.2 .8h0m-1.1 .8h0m.4 1.1h0m-2.4 .6h0m1.7 .8h0m-.9 .8h0m-.5 1.1h0m1.2 .7h0m1.3 .6h0m.2 1h0m-1.3 .8h0m1.1 .9h0m-.7 .9h0m-.7 1.2h0m.9 .7h0m-.2 .7h0m.9 1.3h0m-2.9 .8h0m1 1.9h0m.5 1.5h0M1476.3 580h0m.7 3.7h0m.2 5.5h0m-2.1 4.5h0m.6 2.2h0m.4 1.6h0m1.2 1.5h0m-2.3 1.4h0m1.8 1.3h0m-1.5 1.7h0m1 1.5h0m-1.7 1.8h0m.5 1.2h0m2.5 .8h0m-2.6 1.3h0m-.1 1.2h0m.2 .7h0m2.3 1.3h0m-2.2 1.1h0m1.3 1.2h0m1 .7h0m-.2 .8h0m.3 .6h0m-.3 .7h0m-3 1h0m1.6 .8h0m.8 1.3h0m-1.1 .6h0m1.2 1.3h0m-1.7 .9h0m-.4 1.2h0m1.2 .9h0m1.3 1h0m-.9 1.1h0m.6 1.1h0m-2.3 .8h0m2.2 1.2h0m-.6 .7h0m-.9 .9h0m1.5 .6h0m-2.3 .8h0m.9 .8h0m-.5 1.2h0m2.8 .6h0m-2.5 .9h0m.7 1.2h0m.1 .8h0m-1.8 1.1h0m1.6 1.2h0m1.3 1h0m-2.8 1.1h0m1.1 1h0m1.6 1h0m-2.3 .6h0m3.1 .7h0m-1.6 1h0m1.4 1.1h0m-2.5 1.3h0m2.7 1.3h0m-3.6 .9h0m.7 1h0m1.1 .6h0m-1.5 1.3h0m2.7 .9h0m.4 1h0m-3 1.2h0m2.2 .7h0m-.8 .7h0m-1.5 1h0m2.8 .9h0m-1.3 1.2h0m-1.3 .7h0m1.9 .6h0m-.9 1.1h0m2.1 1h0m-1.7 .7h0m-1.1 1h0m2 .7h0m.6 .9h0m-2.1 .8h0m1.5 1.1h0m.7 1h0m-1.8 1.1h0m1.7 .8h0m-.9 .9h0m-.6 .6h0m1.2 .9h0m-.9 .7h0m.6 1.2h0m-1 1.5h0m-1 1.3h0M1480.2 596h0m2.9 3.2h0m-.6 2h0m1.2 1.8h0m-.1 2.6h0m-3.3 1.7h0m3.1 2.2h0m.2 2.3h0m-2 1.2h0m.7 2.1h0m-.7 2h0m1.1 .9h0m.3 1.6h0m.8 1.4h0m-1.1 1.5h0m-.8 .9h0m-.2 .7h0m-.2 .9h0m-1 1.2h0m1 .9h0m1.2 .8h0m.7 1h0m-.4 1.1h0m.6 1.3h0m-2.5 1h0m1.4 .7h0m-1.6 1h0m1.4 1.3h0m-1.1 .6h0m0 1h0m1 1h0m-1.9 1.3h0m.9 .5h0m.3 1.2h0m1.8 .9h0m-.2 1.3h0m-.9 1.2h0m-.6 .8h0m.1 .7h0m.2 .5h0m-1.6 .9h0m1.2 .9h0m1.9 1h0m-1.9 1.3h0m2.2 .9h0m-2.5 1.3h0m-.4 .8h0m1.3 1.3h0m1.2 .7h0m-2.1 1.2h0m.3 1h0m2.1 1.2h0m-2.5 1.2h0m-.2 .6h0m2 .9h0m.4 1h0m-1.2 .8h0m1.1 .9h0m-1.3 1h0m1.8 .8h0m-3.4 .9h0m3.4 1.2h0m-2.2 1.1h0m-.9 1.1h0m.8 .6h0m.6 .7h0m.3 1.1h0m.9 .9h0m-2.4 .8h0m1.2 1.2h0m.7 .6h0m.4 .6h0m-.8 .9h0m.2 1.1h0m-1 1.5h0m1.5 1.2h0m-.6 2.3h0M1486.4 661.1h0m1.5 3.8h0m.1 2.9h0m-.8 4.6h0m-.4 2.6h0m.5 5.7h0m.3 5.8h0m-1 5.9h0m-.4 3h0m1.2 2.3h0m-1.1 3.5h0m.2 3.1h0m.6 3.5h0M1493.4 627.1h0m-.9 5.1h0m-.9 4.2h0m.4 4.1h0m.1 1.8h0m.3 2.1h0m-.8 3.9h0m.7 5.8h0m.4 3.3h0m-.4 2.2h0m-.7 4.3h0m.1 2.3h0M1507.9 592h0m-.1 3.7h0m-.6 2.7h0m.2 2h0m1.6 1.6h0m-2.6 1.9h0m2.5 2.5h0m-.1 1.3h0m-1.3 2.1h0m-1.8 1.3h0m1.8 1.6h0m.5 1.8h0m.1 1.6h0m.9 1.3h0m.2 1.1h0m-2.7 1.1h0m1.8 1.3h0m-1 .8h0m1.1 .7h0m-.3 1.1h0m-2 .8h0m1.1 .9h0m1.7 .8h0m-1.8 1h0m-.8 1.1h0m-.2 1.1h0m1.8 1h0m1.2 .8h0m-1.2 1.3h0m-1.5 .7h0m.5 1.2h0m.6 .8h0m-1.5 .8h0m1 .8h0m-1.3 .8h0m3.1 1.1h0m-.6 .7h0m.2 1.1h0m-1.4 1.1h0m1.6 .8h0m-1.4 1.1h0m.6 .9h0m-1.7 .7h0m1.6 1h0m-1.8 1.1h0m-.1 1.1h0m-.1 .8h0m2.3 .7h0m.8 1.1h0m0 1.2h0m-1.3 .7h0m.5 .7h0m.9 .7h0m-.5 1.2h0m-1.8 1.2h0m1.1 1.3h0m.4 1.1h0m-2.3 1h0m2.1 1.2h0m-.5 .7h0m1.6 .9h0m-3.3 .8h0m3 1.3h0m-.7 .6h0m.7 .7h0m-2.3 .8h0m2.2 1h0m-2.7 1h0m1 1.1h0m2 1.2h0m-1.1 1.5h0m-1 1.9h0M1516.2 574.9h0m1 5.3h0m.8 7.8h0m-2 3.4h0m1.7 3.6h0m-.7 2.8h0m-.8 1.4h0m2.2 2.4h0m-.2 1.5h0m-1.8 1.2h0m1.3 2h0m1 1h0m-.6 1.6h0m.1 1.9h0m-1.9 1.3h0m2 1.1h0m.4 1.5h0m-2.4 1.2h0m1.5 1h0m-.3 .7h0m-1.1 .6h0m2.1 1h0m-1.4 1.2h0m-.2 .7h0m1.9 .7h0m-2 .6h0m.4 .7h0m-.4 1h0m1.9 .6h0m-1.9 .8h0m-.6 .9h0m-.6 .7h0m2.3 1.3h0m.5 .8h0m-.8 .6h0m.8 1.1h0m-2.7 1.1h0m1.1 1h0m1.1 .9h0m-1 1.1h0m1.5 .6h0m-2.2 1h0m1.4 .9h0m-.8 .7h0m.7 1.1h0m.1 1h0m1.1 .8h0m-.5 1.3h0m-2.8 1h0m.8 .8h0m1.3 1.3h0m-.1 1h0m-.3 1.3h0m1.6 .8h0m-1.2 .7h0m1.1 1h0m.2 1.1h0m-1.3 1.1h0m-1.7 .7h0m.7 .8h0m1 .7h0m-.3 1.2h0m-.7 1.1h0m1 .9h0m.3 .6h0m-1.4 1.1h0m1.7 1.3h0m-1.3 1h0m.7 1h0m0 1.3h0m.8 .8h0m-1.5 1h0m.1 1h0m.2 .8h0m1.3 1.2h0m-.8 1.3h0m.7 .5h0m.1 .6h0m-1.5 .8h0m1.1 .9h0m.5 1.1h0m.3 .8h0m-1.6 .8h0m-1.4 1h0m.5 1h0m-1 .7h0m.1 1h0m2.1 1.1h0m-1.1 1.2h0m2 1.7h0m-2.3 2h0M1520.6 586.8h0m.1 2.5h0m1 3.1h0m-.7 2.3h0m-.8 1.8h0m.6 3.1h0m.9 2.4h0m-1.7 1.5h0m0 1.7h0m.5 2.7h0m.2 4h0m.3 1.9h0m0 4.7h0m.7 2h0m-1.2 1.8h0m1 4.1h0m-.7 3.2h0m.2 1.7h0m-.7 3h0m.1 4h0m.2 2.3h0m.4 3.4h0m-.2 4.1h0m0 2.9h0m1.1 1.5h0m-.3 2.5h0m.1 4.1h0m.1 3.9h0m-.4 2.5h0m.7 2h0m-1.3 4.8h0m-.3 3.5h0m.8 3.6h0M1530.5 540.1h0m-1 2h0m-.4 4.9h0m1.5 7h0m-2.4 2.6h0m.7 2.8h0m2 1.9h0m-.2 1.7h0m.5 1.7h0m-2.8 2.2h0m.2 2.4h0m2.3 1.3h0m-2.9 2.1h0m1.5 1.9h0m-1.7 1.4h0m.4 1.7h0m1.1 1.4h0m1.9 .9h0m-.6 1.4h0m-.8 .7h0m0 .7h0m.1 1.4h0m-.9 1.2h0m.2 .9h0m1 1.1h0m-.7 .7h0m-.7 1.2h0m1.5 .7h0m-1.8 1.3h0m.1 1h0m-.5 .6h0m3.3 .6h0m-3 1.3h0m2.3 .9h0m.3 1.1h0m-1.8 .7h0m.1 1h0m-.1 .7h0m1.9 .9h0m-2 1h0m0 1h0m1.6 1h0m-1.8 .9h0m-1 1h0m.7 .8h0m.7 .9h0m-.8 .7h0m1.3 1.1h0m1.3 .6h0m-2.2 .6h0m1 .7h0m-1.8 .6h0m1.6 .6h0m.2 .6h0m.3 1h0m-1.9 1h0m1.4 1.2h0m.6 .6h0m-1.3 .6h0m1.7 .9h0m0 1h0m.2 .8h0m-.2 .8h0m-1.8 .8h0m1.9 .6h0m-.6 1h0m-.7 .9h0m.6 1.1h0m-1.2 .6h0m1.4 1.2h0m-1.1 1.3h0m.5 .6h0m0 .9h0m.8 1.2h0m-.5 .8h0m-1 1.1h0m1.6 .9h0m-1.6 .7h0m1.1 .8h0m-2.3 .9h0m3.5 .7h0m-2.3 1h0m-1 .7h0m1.9 .6h0m0 .9h0m1.2 .8h0m-2.8 1h0m1 .7h0m-.9 1.2h0m.2 .6h0m2.2 .9h0m-.7 .7h0m0 .9h0m-1.5 .9h0m.2 .9h0m-.7 .8h0m2.1 1h0m-2.1 1.3h0m1.8 .9h0m-2.1 1.1h0m1.8 .6h0m.1 1h0m-1.6 1h0m1 .7h0m2.2 .8h0m-.7 1.2h0m.2 1h0m-2 1.2h0m1.8 .8h0m-.3 1.3h0m.1 1.3h0m-2.3 1h0m1.7 1.3h0m-1.1 .8h0m-.6 .9h0m2.2 1.1h0m-.3 1.3h0m.8 1.1h0m-2.7 1.1h0m.5 1.1h0m.4 .8h0m1.6 .9h0m-.3 .7h0m-1.3 1.2h0m1.1 .7h0m-1.7 .7h0m.8 1.3h0m.5 1.2h0m.1 .7h0m-1.4 1.1h0m1.6 1.2h0m-1.5 1.5h0M1538.4 542.7h0m.1 2.1h0m.2 4h0m-.8 8.1h0m.7 1.8h0m1.5 11.3h0m.6 2.5h0m-1.2 2.7h0m.8 2.8h0m-2.5 2.6h0m.7 1.4h0m2.3 1.7h0m-2.7 1.6h0m0 1.3h0m-.8 1.7h0m2.9 1.2h0m.1 .9h0m-.4 1.3h0m-2.6 1.3h0m.7 1.6h0m.6 .8h0m.2 1.5h0m-.4 1.3h0m-1 .8h0m3.2 .8h0m-.3 .9h0m-.7 .6h0m-1.6 1h0m1.3 1.1h0m-.6 .9h0m.2 .7h0m.6 1.2h0m-1.9 1h0m.4 .6h0m.6 .9h0m-.6 1.2h0m-.6 1.3h0m1.5 1h0m-1.4 1.2h0m2.4 1.2h0m0 .9h0m-.6 1.1h0m.9 .7h0m-1 .8h0m-1.3 .5h0m2.6 .7h0m-.4 .7h0m-.8 .7h0m.6 1h0m-2.4 1.2h0m1.8 .8h0m.4 1.2h0m-.8 1.2h0m-.4 1.2h0m-.8 1.3h0m.2 1.2h0m2.5 1h0m.1 1.1h0m-.7 1.1h0m0 1.3h0m-2.5 1.1h0m3.2 1.3h0m-3 .9h0m.9 .8h0m1.3 .8h0m-.3 1h0m-1.5 1.2h0m1.6 1.3h0m1.2 .7h0m-3.5 1h0m2.1 .6h0m-1.9 1.3h0m2.4 .6h0m.4 1h0m-1.1 .6h0m-1.1 .8h0m2.4 1.3h0m-.2 1h0m-1 1.2h0m-1.8 1.2h0m1.3 1.3h0m.4 .7h0m.4 1.2h0m.1 1.1h0m.4 .8h0m-2.3 1h0m-.1 .7h0m.2 .9h0m-.2 1h0m2.7 1.1h0m-2.1 1.2h0m.3 1h0m-.8 .9h0m1.1 1.1h0m-.6 .7h0m.8 .7h0m1.8 1.2h0m-3.1 1.1h0m2.4 1.6h0m-.4 1.2h0M1551.2 558h0m1.2 3.3h0m-1.4 4.3h0m-.8 2.7h0m-.1 3.3h0m1.8 3h0m-.1 3.1h0m.1 1.8h0m.7 1.5h0m-2.4 1.3h0m1.4 1.9h0m-1.3 .9h0m-1 .9h0m3.2 .7h0m-2.8 1.2h0m2.5 .9h0m-2 .7h0m.5 1h0m-.2 1.3h0m-.9 1h0m2.8 .7h0m-3.2 .7h0m3.5 1.1h0m-2.4 .8h0m.7 .9h0m.6 .9h0m-2.4 1.1h0m1.8 .9h0m-1.6 1.2h0m1 1.2h0m.2 .7h0m-.2 .6h0m0 .5h0m1.2 .9h0m-.4 1.2h0m-1.2 1.2h0m2.2 .6h0m-1.4 1.2h0m-1.4 1.1h0m.8 1.2h0m-.7 .9h0m2.8 1.2h0m-.9 .6h0m-.6 .7h0m1.8 1h0m-3 .9h0m1.6 .9h0m1.3 .5h0m-1.2 1.1h0m-.7 .8h0m2 .8h0m-.5 .7h0m-2 1.2h0m2.2 1.3h0m.1 1h0m-2.7 .9h0m.8 .9h0m.7 1.2h0m-1.6 1.1h0m2.7 .8h0m-2.8 .6h0m.7 .8h0m2.4 1h0m-.9 1.1h0m-.8 .9h0m1.3 1h0m-1.8 1.1h0m0 .6h0m2.4 .9h0m-3.4 .7h0m.1 1h0m.7 .9h0m.5 1.1h0m1 .8h0m-1.1 .8h0m-1 1.1h0m1.2 1.2h0m-.8 1.2h0m-.2 .7h0m.1 .7h0m2.2 1h0m-1.2 .7h0m.3 1.2h0m.7 1.2h0m-1.6 .6h0m.3 1.2h0m.6 1.2h0m-1.2 .5h0m.8 .7h0m.2 1.1h0m1.2 .6h0m.2 .6h0m-1.8 1h0m-.4 .8h0m.8 .8h0m-.9 1.3h0m2.3 1.2h0m0 1h0m-.1 1h0m-1.6 .7h0m1.8 1.1h0m-1.1 .7h0m-1.2 .9h0m.9 .9h0m.6 .6h0m-.1 1h0m-2.3 .8h0m3.5 .9h0m-2.8 1h0m-.7 1h0m.3 .7h0m2.9 .7h0m-.9 1h0m-2.1 .8h0m.9 1.2h0m-1 1.1h0m2.5 2.1h0M1555 534.5h0m-.9 7.6h0m.6 4.5h0m-1 5.4h0m1.8 8h0m.2 3.9h0m.1 5.3h0m-2.5 4.5h0m-.4 3.2h0m.2 1.6h0m.3 1.7h0m1.1 2.3h0m.7 .9h0m-.2 1.1h0m.6 1.1h0m-1.2 1.4h0m.9 1h0m-.1 .7h0m-1.5 1.1h0m-1.4 .9h0m1.6 1h0m-1 .8h0m.9 1h0m-.8 .7h0m-.7 .7h0m.6 1h0m.7 1.1h0m-.6 .6h0m.4 1.1h0m-.9 1h0m1.3 1.3h0m-.8 1.1h0m0 1.3h0m2.4 1h0m-2.8 1.1h0m2.4 1.2h0m-.6 1h0m-1.1 .6h0m-.3 .8h0m-.3 1.2h0m.1 .7h0m2.5 .7h0m-2.9 .6h0m.9 1.1h0m-.5 .8h0m-.2 1h0m1.9 .8h0m-.7 .6h0m-1.5 .6h0m0 1.2h0m3.3 .7h0m-1.8 .6h0m.4 1h0m-.5 1.3h0m-.6 1.2h0m2.7 .9h0m-1.4 .8h0m1 1.2h0m-3.1 1.3h0m3.3 .8h0m-2.6 .8h0m2.2 .7h0m-1.6 1h0m-.4 .7h0m.8 .7h0m.1 .6h0m.8 1h0m0 1h0m.3 .7h0m-1.8 .7h0m-.8 1h0m2.5 1.1h0m-1.7 1.1h0m-.5 .7h0m1.6 .7h0m-.3 .8h0m1.2 1.1h0m-2 1.1h0m2.2 1.1h0m-3.1 1h0m1.4 1h0m-.7 .6h0m.7 1.1h0m1.4 1.3h0m-1.2 .9h0m.5 .7h0m-.5 .6h0m.6 .9h0m.8 1.1h0m-.3 1.2h0m-1.4 .7h0m-.1 1.1h0m.6 .5h0m-2 .7h0m.7 .6h0m.7 .8h0m.7 1.1h0m-.8 .8h0m-.2 .9h0m.2 1.2h0m.6 1.1h0m.1 .9h0m-.4 1.2h0m-.7 1h0m-.2 1.1h0m2.6 .7h0m-1.1 1.1h0m-.2 .8h0m-1.3 .7h0m-.3 1.1h0m1.9 .5h0m-1.2 .9h0m2 1.2h0m-2.7 1.5h0m1.5 2h0M1562 542h0m-.1 2.5h0m1.4 2.2h0m-.5 2.4h0m2.2 2.7h0m-1.7 2.2h0m.5 2.3h0m-1.3 1.9h0m1.6 1.7h0m-.4 1h0m0 1.6h0m1.2 1.5h0m.1 1.7h0m-2.8 1.5h0m2 1.4h0m-1 1h0m-.2 1h0m-.7 .9h0m1.4 1.2h0m-.3 1.3h0m1.6 1.3h0m-1.5 .6h0m1.4 1h0m-.6 .9h0m-1.4 .7h0m.9 .9h0m-1.6 .7h0m0 .6h0m2.5 1.2h0m-1.5 .8h0m.4 .8h0m-1.9 .7h0m3.4 1h0m-1.3 1.2h0m-.7 .6h0m2.1 .9h0m-1 1.1h0m.1 .9h0m.8 .6h0m-1.1 1.3h0m.7 .9h0m-2.2 .5h0m2.1 1h0m-.5 .8h0m.4 1.2h0m0 1h0m-1.2 1.2h0m-.5 .7h0m2.2 .8h0m-1.2 .6h0m-1.6 .7h0m.9 .8h0m-.6 1.1h0m-.7 1.1h0m.9 .8h0m.8 .6h0m-.9 .9h0m1.8 .7h0m-.3 .8h0m.4 1.1h0m-.4 1.2h0m-1.3 .9h0m-.9 1.3h0m.1 .6h0m2.8 .9h0m-.7 1.2h0m-1.7 1.3h0m.4 .9h0m2 1h0m-1.3 .7h0m-1.5 .6h0m1.4 .8h0m1.2 .6h0m-.2 .5h0m-1.5 .8h0m-1.2 1.1h0m.5 .9h0m2 1.2h0m.3 .7h0m-2.3 .6h0m.9 .7h0m-.5 1.2h0m.9 .9h0m-1.2 1.2h0m-.2 .8h0m2.2 1.3h0m-1.4 .9h0m0 1h0m1.2 .8h0m-2.1 .6h0m3.2 .7h0m-2.1 .7h0m.2 .8h0m.9 1.1h0m-1.9 1.2h0m1.6 1.2h0m-1.1 1.1h0m-1.1 1h0m1.3 1.2h0m.6 1h0m-1 1h0m-.3 1.1h0m1 1.2h0m-1.6 1.3h0m.1 .5h0m.1 1h0m.2 .9h0m1.8 .6h0m.2 1.3h0m-.6 .6h0m-1.2 1.2h0m2.3 1.3h0m-.8 1.1h0m-1.8 .8h0m-.2 .7h0m2.5 1.2h0m.4 .8h0m-.6 1h0m.9 .6h0m-2.1 .7h0m.4 .9h0m-.7 1h0m.7 1h0m1.2 .7h0m-.8 .7h0m.7 .7h0m-.4 .8h0m-.2 .8h0m-.6 1h0m1.3 1.1h0m-2.7 .6h0m2.5 .9h0m-.2 1.1h0m-.6 .8h0m-1.5 1h0m-.3 1h0m1.5 1h0m1.4 .9h0m-.8 1.1h0m.2 .9h0m-1.5 1h0m-.3 .9h0m1 1.3h0m1.6 .9h0m-1.7 .9h0m.2 .6h0m.3 .8h0m-.1 1.1h0m1.3 .7h0m-2.5 1.1h0m.8 1.2h0m.6 .7h0m.1 1h0m-1.1 1.4h0m-.8 2.1h0M1574.2 536h0m-.5 3.4h0m-.6 3.1h0m.5 3.2h0m.3 2.2h0m-1 3.2h0m.5 3.4h0m1.3 1.2h0m-1 1.7h0m.7 2.1h0m.2 1.7h0m.1 1.7h0m-1.7 1.3h0m.9 .9h0m-.1 1.2h0m-.9 .7h0m1.3 .8h0m-.1 1h0m-.1 1.3h0m-1.1 1.1h0m1.6 1.1h0m-1.5 1.1h0m.2 1.2h0m0 1h0m1.2 .9h0m.1 1h0m-2.1 1.2h0m2.3 1.2h0m-.4 .7h0m-.4 1.1h0m.6 .7h0m-1.1 .8h0m-.7 .6h0m.3 1.2h0m-.3 1.3h0m.7 1.1h0m-1.2 1h0m1.2 1h0m.5 .8h0m-1 .7h0m1 .6h0m.6 .6h0m-1.7 1.3h0m-.6 1.2h0m2 1.1h0m-.4 1.1h0m.5 .7h0m-1.2 1.2h0m-.1 .8h0m-.6 1.1h0m1.1 1.1h0m-.2 .9h0m-.2 .8h0m-.6 .9h0m1.1 .8h0m-1.3 .9h0m1.1 .9h0m-1.1 .8h0m2.2 .9h0m-2.2 .7h0m1 .7h0m0 1h0m.6 1.1h0m.9 1.2h0m-2 1.2h0m1.3 .7h0m.3 1.3h0m-1.6 1.1h0m.9 .9h0m.1 1.1h0m-1.1 1h0m.7 .9h0m-.7 .6h0m.7 1.1h0m1.2 .9h0m-1 1.2h0m.7 1h0m-.5 1.3h0m-1.4 .9h0m-.1 1.1h0m.4 .8h0m1.1 1.2h0m-1.6 .9h0m2.4 .8h0m-1.4 .6h0m-.6 .8h0m1.6 .6h0m-1.3 .9h0m.5 1.2h0m-.8 1h0m.4 .6h0m1.5 .5h0m-2 .9h0m.4 1.1h0m.9 1.2h0m-1.3 1.1h0m.2 1.2h0m1.6 1.2h0m-1.4 .6h0m.8 1.2h0m.1 .9h0m-.3 .6h0m1.3 .9h0m-1 .5h0m-.6 .9h0m1 .9h0m-.3 .7h0m-1.5 1h0m1.3 .9h0m-1 1h0m.3 .8h0m-.3 1.1h0m.2 .7h0m-.6 1h0m.8 .6h0m1.3 .7h0m-.7 1.1h0m-1 .9h0m2 .8h0m-1.1 1.2h0m0 1.1h0m-1.3 1.1h0m2.3 1.2h0m-.2 1.1h0m-1.8 1h0m.6 .8h0m.1 .9h0m.5 .6h0m-.7 .9h0m.7 1h0m.2 1.1h0m.3 1.3h0m-2 1.2h0m.6 1.1h0m-.3 1.2h0m1 .8h0m.4 .6h0m-1.4 1.2h0m.2 .7h0m.9 .8h0m.1 .7h0m-.8 1.6h0m-.2 1.8h0M1577.1 532h0m-.6 3.3h0m1.5 3.4h0m-1.7 5.1h0m.3 3.5h0m.8 3.1h0m1 1.6h0m-1.1 2.3h0m.7 1.4h0m.7 1.3h0m-.9 1.8h0m-1.3 1.5h0m.7 1h0m-.2 .9h0m-.3 1.3h0m-.5 .6h0m.1 1h0m1.5 1.3h0m-.6 .7h0m-.6 1.2h0m.8 .9h0m1 1h0m-.8 .7h0m-.1 .7h0m-1 .6h0m1.6 1h0m-1.8 .9h0m2.1 1.1h0m-2.1 1.1h0m0 1.2h0m1.1 1.1h0m-.3 .6h0m1 .7h0m-.8 .8h0m-1.1 .9h0m.8 .5h0m.4 1.2h0m-.9 .6h0m1 1.1h0m-.4 .6h0m.3 1.3h0m1.3 1.2h0m-1.9 .6h0m-.5 1.2h0m.9 .7h0m0 1.1h0m.5 .6h0m-.2 .9h0m.5 .6h0m-1.4 .9h0m.7 1.1h0m-.9 1.1h0m1.3 .7h0m.7 1h0m-.6 .8h0m-1.5 1.1h0m1.6 .7h0m.5 .6h0m-1.2 1h0m1.2 .8h0m-1.1 .8h0m-.2 1h0m1.4 .9h0m.1 1.2h0m-1.3 .9h0m1.2 .7h0m-.4 .6h0m0 1h0m-1.6 .5h0m.4 1h0m1.6 .7h0m-1.8 .8h0m.2 .7h0m1.1 .8h0m-.2 .6h0m.1 1h0m-1.6 1h0m.7 .9h0m1 .9h0m-.3 .9h0m1 1h0m-.8 1.1h0m-1.4 .9h0m1.3 .7h0m-.8 .8h0m-.1 .7h0m-.4 .9h0m.6 .7h0m1.5 .7h0m-.8 1.3h0m.2 1.2h0m-1 1.2h0m1.2 1.1h0m-1.5 .8h0m.8 .9h0m-.1 .9h0m.4 .7h0m.8 1.3h0m-.4 .9h0m-1.9 1.3h0m1.7 1h0m-1.8 .6h0m2.4 1.2h0m.2 .8h0m-.8 .8h0m-1.5 .9h0m1.2 1.2h0m-1.4 1h0m1.8 .7h0m-.1 1.2h0m.3 1.2h0m-1.2 1.1h0m-.4 .9h0m.3 1.1h0m-.2 1.2h0m-.2 .6h0m1.2 1h0m-.7 1.3h0m-.7 1.2h0m1.6 .6h0m-1.2 .9h0m.6 .9h0m-.1 1.1h0m.4 .8h0m-.6 1h0m1.1 .8h0m-.7 .8h0m-.6 .7h0m1.6 1.1h0m-1.4 .9h0m1.2 1h0m-2 1.3h0m1 .6h0m.3 .6h0m-1.3 .8h0m1.2 .7h0m-.6 1.2h0m.9 .8h0m0 1.2h0m-.7 1.1h0m1.3 .8h0m-1.9 1h0m-.1 1.1h0m1.6 1.1h0m-.8 1.2h0m1.4 .9h0m-1.1 .8h0m-1 1.3h0m2.3 1.3h0M1595.6 575h0m-.8 4.2h0m-2.5 3.6h0m.3 3.9h0m.1 1.8h0m.6 3.5h0m.2 2.3h0m-1 1.7h0m2.5 1h0m.6 1.3h0m-.3 1h0m-.1 1.7h0m-2.8 1.3h0m2.7 1.3h0m-.1 .9h0m-.6 .6h0m-1.8 .6h0m2.8 .9h0m-.6 1.2h0m.8 .6h0m-1.1 .7h0m-1 .9h0m1.4 .9h0m.6 .7h0m-2.3 1.2h0m2.1 1h0m-2.9 .9h0m.4 1h0m0 1.1h0m.4 1h0m2.5 1h0m-2.2 1.1h0m1 1h0m-.5 .7h0m-1.3 1h0m.1 1h0m2.7 1.1h0m-.1 1h0m-1.7 .9h0m1.4 .9h0m-1 1.2h0m-.8 1h0m.8 .7h0m-.8 .6h0m1.1 .6h0m-1.7 .7h0m.8 .6h0m.3 1.2h0m0 1h0m1.5 .7h0m-1.7 1.1h0m1.7 .9h0m-2.6 1.1h0m-.3 .5h0m3.2 .8h0m-2.8 1h0m1.6 .9h0m.5 1.2h0m-1.7 1h0m-.5 .8h0m.7 .7h0m-.6 .9h0m2.3 1h0m-1.3 1h0m1.3 .7h0m-2.1 .7h0m2.1 .8h0m-2.2 .9h0m2.4 .6h0m.2 1.3h0m-1.4 1.1h0m-1.1 1.2h0m1.4 .6h0m.6 .9h0m-1.9 1h0m1.5 1.2h0m-1.7 .7h0m.7 1h0m.4 .8h0m.2 1.2h0m.9 .7h0m-2.6 .8h0m.8 .7h0m2.1 .5h0m-3 .9h0m2.6 1.1h0m-1.7 .6h0m.7 1h0m.7 .9h0m-2.3 .6h0m1.1 1.3h0m.4 .9h0m1.4 .6h0m-.2 .8h0m-1.3 1.1h0m1.5 1.2h0m.4 1.6h0M1596.7 560h0m1.9 5.9h0m-1.7 4.7h0m-.4 2.9h0m-.4 3.1h0m.3 2.7h0m1.2 1.2h0m.1 1.3h0m1.2 2.2h0m-1.5 1.7h0m-.8 1.6h0m-.2 1.2h0m1.5 1.4h0m-2 1.3h0m-.1 .9h0m2.6 1.3h0m-2.5 .7h0m2.2 .9h0m-1.9 .6h0m.7 1.2h0m-.6 .8h0m1 .8h0m.8 .7h0m0 .9h0m.5 1h0m.1 .6h0m-1.5 1.2h0m-1.3 .7h0m3 1.2h0m-1.6 1.1h0m1.8 .6h0m-3.3 1.1h0m3 .7h0m-1.8 .8h0m-1.2 .6h0m3.2 .8h0m-1.9 1.1h0m1.6 .8h0m-1.8 .7h0m.8 1.2h0m-1.1 1h0m.6 1h0m-.7 .8h0m-.5 1.2h0m.8 .9h0m1.1 .7h0m0 1.2h0m-1.1 .9h0m-.6 .8h0m1.7 1.1h0m0 .7h0m-2.3 1h0m2.4 1.1h0m-1.5 .6h0m.5 1.3h0m.5 1h0m-1.9 1h0m1.6 1.1h0m.5 1.1h0m-.8 .8h0m-.2 .5h0m.6 .6h0m-.8 .8h0m1.4 1h0m-2.2 .6h0m.7 1h0m1.2 1h0m1.5 .5h0m-1.1 .7h0m.3 .9h0m-.2 1h0m-2 .9h0m1.8 .7h0m-.5 .7h0m1.3 .9h0m.3 .7h0m.1 1.1h0m-3.3 1h0m.3 1.3h0m1 .9h0m1.9 .8h0m.2 .9h0m-3.2 1.1h0m2.1 1h0m-1.9 .9h0m.1 1.2h0m.6 1.2h0m-.6 .8h0m.2 .9h0m.5 1.2h0m1.8 .6h0m-1.1 1h0m-2.1 .9h0m.7 .6h0m1.8 1.2h0m-1.9 .9h0m.3 1.3h0m.5 1.2h0m.2 .5h0m.5 1h0m-2 .8h0m3.2 1.3h0m-.5 1.2h0m-1.1 1.1h0m-.2 .7h0m1.5 .7h0m-2.1 1h0m1.5 1.5h0m.9 2.1h0M1600.2 570h0m.3 6.3h0m-.5 5.2h0m0 1.9h0m.8 3.5h0m-.6 2.2h0m1.5 1.2h0m-2.1 1.4h0m-1.3 1.4h0m1.8 .9h0m-1.9 1.3h0m2.7 .9h0m-.2 .8h0m-.5 1h0m-.9 1.3h0m-.3 1.2h0m1.1 1h0m0 .8h0m.1 1.2h0m-1.5 .6h0m1.7 .9h0m-1.8 1h0m2.9 1.1h0m-2.3 .8h0m1.2 .7h0m-1.7 .6h0m1.2 1.3h0m1.8 1.1h0m-.7 .9h0m-1.1 .6h0m1.4 1.1h0m-.9 1.2h0m-.9 1h0m.8 1.3h0m-.3 .6h0m-1.4 .6h0m1.4 .6h0m-.7 .6h0m2.3 .9h0m-2.9 1.2h0m1.1 1.2h0m.2 1.1h0m-.3 .8h0m1.1 1h0m-1.6 1.2h0m2.5 1.2h0m-1.8 .6h0m-.1 .7h0m1.7 .6h0m-2.5 1.3h0m.9 .6h0m-.6 1.1h0m1.6 1.1h0m-1.1 .7h0m-1 1.2h0m1.1 .9h0m1.9 .6h0m-1.4 .7h0m-2.2 1.3h0m2.1 1.1h0m.6 1.3h0m-2.6 .6h0m1.3 1.2h0m-.6 1h0m1.1 1h0m-.9 1.3h0m-.2 1.2h0m.1 1.2h0m1.7 1.3h0m.3 .7h0m-.2 1.2h0m-2 .9h0m1.2 .7h0m-1.2 .8h0m-.1 1.1h0m2.5 .6h0m-2.3 .6h0m2 .8h0m-.5 .8h0m-1.2 .8h0m-.8 1.2h0m-.2 .8h0m.9 1.1h0m1.5 1.2h0m-.9 1.1h0m.4 1h0m1.3 .6h0m-1.6 .6h0m.4 1h0m-.7 .8h0m.4 1.1h0m.7 1.1h0m-.4 1.2h0m1 1h0m-1.8 1.1h0m0 1.6h0m-.8 1.8h0M1604.5 554h0m1.5 4.9h0m1 5h0m.3 3h0m-2 3.2h0m1.3 2.3h0m-.5 2.7h0m1.4 1.3h0m-2.5 2.2h0m1.8 1.2h0m-1.1 1.7h0m-.2 .8h0m1.6 .7h0m-2 .8h0m.6 1.2h0m-1 1h0m1.3 .6h0m-.5 1.2h0m0 1.2h0m1.3 .9h0m-.4 .7h0m.5 1.3h0m.7 1h0m-1.3 1.2h0m.2 .5h0m1 1.1h0m-.4 .6h0m0 .7h0m-1.7 1.2h0m-1.1 .5h0m.5 1h0m3 1h0m-.3 1.1h0m-2.6 1.1h0m2.8 .6h0m-2.2 1.3h0m2 1h0m-1.9 .8h0m1.8 .9h0m-1.1 .6h0m-.7 .9h0m.2 .7h0m-1.2 1h0m1.3 1.1h0m-.5 .8h0m-.4 1.1h0m.8 1h0m-.7 .6h0m-.6 .6h0m.3 .7h0m.4 1h0m1.6 .8h0m-1.7 .6h0m.1 .6h0m.3 .7h0m-1.3 1.1h0m1.9 .6h0m-.1 .7h0m-.9 1h0m1.6 .8h0m-1.7 .5h0m-.5 1h0m3.2 .9h0m-2.5 .6h0m.1 1h0m-.7 .9h0m1.2 1.1h0m1.5 1.2h0m-2.8 .7h0m2.5 .7h0m-2.1 .8h0m.6 .5h0m2.2 1.1h0m-.6 .7h0m-1.5 1.3h0m-1.3 .7h0m.7 .7h0m.4 1h0m.8 1.1h0m.4 1h0m0 .9h0m-.8 .6h0m0 .9h0m.6 1.1h0m-.4 .6h0m1.5 1.1h0m0 .8h0m-.4 .8h0m-2.1 1.2h0m1 1h0m1.6 1.1h0m.1 .7h0m-3.4 .6h0m.6 .9h0m1.1 .8h0m-.8 1h0m2.1 .6h0m-.1 1.1h0m.1 1.2h0m-2.9 1h0m1 1.2h0m-.6 1h0m1.8 .9h0m-2 .9h0m1.2 .8h0m1.5 1.2h0m-3.1 1.2h0m2.5 1.3h0m-.8 .6h0m-.2 1.2h0m-.4 1h0m.1 1.2h0m1.5 .7h0m.3 1h0m-1.8 1.1h0m.7 1.1h0m-.7 1.1h0m-1.2 1.1h0m2.6 1.8h0M1609 558h0m-.4 3.4h0m1.7 4.5h0m.8 3.6h0m-1.1 2.7h0m-.1 2.1h0m1.5 1.4h0m-1.2 2.6h0m1.4 2.1h0m0 1.3h0m-1.2 1h0m-1.9 1.5h0m.1 1.6h0m.5 .7h0m2.5 1.2h0m-3.2 1.1h0m2.4 .9h0m-.3 .6h0m0 .9h0m-.1 .9h0m-1.9 .6h0m1.1 .7h0m2.1 1.2h0m-2.5 .7h0m2.5 1.2h0m-1.7 1.2h0m1.3 .8h0m-2.2 .8h0m.1 .6h0m.6 .6h0m.3 1.3h0m.8 .8h0m-1.9 .7h0m2.8 1.1h0m-3.5 .7h0m3 1.2h0m-1.9 .9h0m.6 .6h0m-.5 .6h0m2.2 .7h0m-.9 1h0m.2 1h0m-1.5 .9h0m2 1.1h0m-1.6 .6h0m.9 1.1h0m-.3 .5h0m-.8 1.1h0m1.2 .8h0m-1.8 .9h0m-.5 1h0m2.4 .8h0m-1.9 .8h0m.6 .9h0m1.6 1.3h0m-.7 1.1h0m-1.3 .8h0m-.1 1.1h0m2 .6h0m.5 .8h0m-2.9 1h0m2.4 1h0m.4 .8h0m-1.6 .9h0m-1.4 .7h0m2.9 1h0m-1.4 .9h0m1.2 .9h0m-1.2 1.1h0m-1.7 .7h0m2.1 1.2h0m-.1 .9h0m-1.6 1.2h0m2.1 .9h0m-.4 1.2h0m-.1 1.2h0m.3 1.1h0m-1.1 1.3h0m.4 1.3h0m1 1h0m-1.2 .9h0m-.5 .8h0m-.6 1.1h0m.2 1h0m1.4 .7h0m-1.6 .9h0m2.2 .6h0m-.2 1.1h0m-.4 .8h0m-.6 .8h0m-.9 .7h0m-.3 1.3h0m.5 .9h0m2.7 1.3h0m-2.5 1.2h0m1.2 1h0m.3 1.2h0m-.3 .8h0m.7 .9h0m-.9 1.2h0m-.3 .7h0m1.6 1.2h0m-.9 .9h0m.6 .7h0m-2.7 1.2h0m1.4 .9h0m1.3 .7h0m.2 .6h0m-2.1 .9h0m.5 .7h0m-.6 1.6h0m2.4 1.5h0M1608 683.4h0m-1.3 4.8h0m1.6 5.3h0m-1.7 4.5h0m1.5 1.7h0m-1.7 2.3h0m1.2 2h0m-1.2 4.3h0M1619 578h0m.4 6.3h0m2.1 4.1h0m-2.1 3.3h0m1.1 1.7h0m-1.1 3.2h0m-.2 2.2h0m.9 2h0m-1.2 1.9h0m-.2 1.3h0m-.4 1.4h0m.2 .8h0m1 1.4h0m-1.1 .9h0m3.2 .8h0m-.8 .7h0m-1.5 1.1h0m.8 1h0m-1.4 1.3h0m1.3 .8h0m-1 1h0m2 .9h0m-2.7 .7h0m1.7 .7h0m1.7 .9h0m-1.7 .6h0m-1 .6h0m1.2 .7h0m1.3 .9h0m-1 .8h0m-.2 1.1h0m-1.1 1.1h0m-.5 .7h0m3 .5h0m-1.7 .7h0m-.9 1h0m0 1.2h0m1.7 1.2h0m-.4 1h0m.3 .6h0m-2.4 .6h0m1.8 1.3h0m-1 .5h0m0 .9h0m.8 .8h0m-.5 .9h0m.9 .5h0m-.5 1h0m2 1.1h0m-1.7 1h0m1.1 1h0m-1.4 1.2h0m-.1 .6h0m-1.1 .7h0m.1 .6h0m1.6 1h0m-.5 1.2h0m1.2 .6h0m-1.5 .9h0m-.6 1.2h0m2.4 .6h0m0 1.3h0m-2.1 .5h0m1.7 1h0m-.4 1.1h0m1 1.1h0m-1.4 1h0m-.3 .9h0m-.9 1h0m2.7 .6h0m-.4 .9h0m-2.4 1.2h0m.8 1.2h0m.3 .9h0m1.4 .9h0m-1.3 .7h0m-.8 .9h0m1.7 .6h0m-2.5 1.1h0m1.7 .9h0m-1.3 1.1h0m1.9 1.2h0m1.1 .7h0m-.9 .9h0m-1.1 1.1h0m-1.5 .9h0m2.3 1.2h0m-.2 .6h0m-1.5 1.1h0m1.8 1.2h0m-.5 .8h0m1 1.1h0m-2 1.2h0m2.4 .9h0m-2.8 1.1h0m2.8 .7h0m-2.9 .5h0m1.7 .6h0m-1.2 .6h0m-.1 1.2h0m.3 .9h0m-1.1 1.2h0m.1 .8h0m3.2 1.3h0m-1.8 1.2h0m1.1 1.3h0m-1.2 .6h0m-1 1h0m2.1 1h0m-.5 .6h0m1.1 1.1h0m-.6 1.2h0m-.2 .6h0m-1.1 1h0m0 .7h0m1 .6h0m1.2 1h0m-2.3 .7h0m2.1 .7h0m-.5 .9h0m.4 .6h0m-1.4 1.1h0m.3 .8h0m-1.4 1.2h0m2.8 1h0m-3.4 1.1h0m1.5 .6h0m-.7 .8h0m1.7 1h0m.3 1h0m-2.1 .7h0m1.4 .6h0m-1.5 1.2h0m1.1 .8h0m1.3 .7h0m-.5 .7h0m1 .7h0m-1.9 .8h0m.3 .9h0m-.1 .7h0m-1.5 1h0m2.6 .9h0m-.8 .8h0m.1 .6h0m-1 .6h0m.4 1.2h0m1.1 .8h0m-1.3 1.2h0m-.5 1.1h0m.8 1.2h0M1623 590h0m.4 4.3h0m-1.6 3.4h0m.5 3.6h0m1 1.8h0m-.7 2.5h0m1.7 1.7h0m-2.6 2.9h0m2.8 2.2h0m-.3 1.1h0m-1.3 1.7h0m-.4 1.4h0m1.1 1h0m-1.3 1.4h0m.7 .8h0m-1 1.1h0m-.6 .6h0m2.2 .8h0m1 1h0m-2.9 .7h0m1.7 1.1h0m-2.1 .7h0m1.8 1h0m-.8 .9h0m1 1h0m-1.6 1h0m2.4 .9h0m-.4 .7h0m-2.3 1.2h0m2.5 .8h0m-.8 .9h0m-.8 1.2h0m2.2 .9h0m-2 1.3h0m-.9 .9h0m2.1 1h0m0 .6h0m-.2 1h0m-1.8 .9h0m2.3 1.2h0m-.3 1h0m.7 .7h0m.3 1h0m-.2 .6h0m-3.2 .9h0m2.2 1.1h0m-1.2 .6h0m2.3 .9h0m-3.3 .8h0m.5 1.3h0m-.4 1.1h0m2 .9h0m1.3 1.1h0m-2.5 .9h0m-.4 1.5h0m1.9 2.1h0M1626.2 630h0m.8 2.5h0m-1.6 2.5h0m2.6 1.8h0m-2.2 3.1h0m1 2h0m.4 1.7h0m1.5 1h0m-1.4 2.4h0m-.4 1.8h0m1.4 1.1h0m-3 1h0m2.6 1.8h0m.1 .8h0m-.3 1h0m.7 .8h0m-1.2 1.1h0m-1.8 1.1h0m1.7 1h0m.3 .6h0m.7 1h0m-.9 .8h0m-1.1 .8h0m.7 .6h0m-.8 .7h0m1.9 1.1h0m.2 1.3h0m-2.7 .8h0m2.2 .6h0m.6 1.3h0m.1 .8h0m-.8 1.1h0m-1.5 1.2h0m2 1.1h0m.1 .9h0m-2 1.1h0m1.8 1h0m-1.8 1.1h0m.7 .6h0m1.1 1.1h0m.2 1.2h0m-1.8 .9h0m2.1 1h0m-2.5 .7h0m2.7 1.2h0m.1 1.1h0m-1.3 1.2h0m-.2 1.1h0m-1 1.2h0m1.5 1.1h0m-2.4 .9h0m3.1 .6h0m-.1 1h0m-1.9 1h0m.2 .9h0m-.2 .7h0m-.6 .9h0m2.6 .6h0m-3.1 1.2h0m1.7 .8h0m1.1 .8h0m-1.8 1h0m1.5 .9h0m-2.3 1.1h0m1.1 1.3h0m-.1 .6h0m-.6 .7h0m0 1.2h0m2.2 1.3h0m.4 .7h0m-1.8 .6h0m-.4 1.3h0m.9 1.2h0m1.4 1h0m-2.5 1.2h0m.5 1h0m1.5 1h0m-2 .8h0m-.4 .7h0m2.5 1.2h0m-2.6 .7h0m1.9 .6h0m-.4 1.2h0m-.9 .7h0m1 .7h0m1.1 .6h0m-1.7 1.1h0m1.8 1.3h0m-3.1 1h0m1 .9h0m1 1.2h0m-1.3 1.1h0m0 .8h0m1.1 1h0m1.6 1.3h0m-1.2 1.8h0M1631 551.5h0m2.1 4.4h0m-.3 2.3h0m-1.1 3h0m0 3.5h0m.2 5.9h0m-.8 3.4h0m.9 5.9h0m-.6 6.2h0m.7 3.2h0m.6 5.8h0m-1.6 5.4h0m.9 4h0m-.2 6h0m-.9 7.3h0m1 5.7h0m1.2 8.7h0m-.9 7.6h0M1639.8 540h0m-.8 1.9h0m-1.1 1.7h0m2.6 3.1h0m-.8 1.6h0m1 2.6h0m-.9 2.2h0m.9 2h0m-2 1.1h0m2 1.4h0m-2.4 2h0m.9 1h0m1.5 1.1h0m-.7 1.5h0m-.9 1h0m.7 1.3h0m-1.1 1.1h0m-.7 .8h0m1.6 1.2h0m.8 1.1h0m-.1 .7h0m-1.7 .8h0m-.1 1.3h0m2.1 .8h0m-1.7 1.1h0m-1.3 1h0m1.5 .8h0m1.4 1.1h0m-.2 1.3h0m-.7 1.2h0m-2 1h0m2.6 1h0m-2.6 .9h0m2.8 .7h0m-2.2 1.2h0m1.6 .7h0m-1.6 .8h0m-.5 1.2h0m3 1.1h0m-1.4 .6h0m.1 .6h0m-.2 .6h0m.8 1h0m-2.3 .8h0m1.8 1.3h0m-.5 1h0m.1 1.2h0m-.2 .8h0m0 1.1h0m-.6 .8h0m.2 .8h0m1.2 .8h0m-2.5 1h0m0 .8h0m.9 1.1h0m1.4 1.2h0m.5 1h0m-.1 1h0m-2.4 1.2h0m2.7 1h0m-1.6 .8h0m1.9 1.2h0m-1.5 .7h0m.3 .9h0m-.7 .7h0m-.5 1.2h0m2.6 1.2h0m-.2 .6h0m-2.9 .8h0m3.2 .9h0m-2.6 1h0m1.6 1h0m.8 .8h0m-2.9 1.3h0m1.3 1.9h0M1643.4 600h0m-2.2 1.7h0m-.5 3h0m2.2 1.5h0m-2 1.7h0m.8 2h0m-1.2 2h0m-.3 2.3h0m2.2 1.9h0m-1.3 1.3h0m1.7 2h0m-2.2 1.2h0m.1 1.6h0m2 .9h0m0 1.3h0m-1.3 .8h0m1.3 1.5h0m-1.3 1h0m-.3 .6h0m0 1.1h0m.3 1.2h0m-1 .5h0m2.2 .6h0m-.4 1.2h0m0 1.1h0m-1.2 .7h0m1.2 .8h0m1 1.2h0m0 .8h0m-.9 .8h0m.4 1.1h0m0 1.1h0m.6 .7h0m-.1 1.1h0m-1.6 .8h0m1.6 .8h0m-.7 .9h0m-1 1.2h0m.5 1h0m0 .7h0m-1.5 1h0m1 1h0m1.1 .7h0m.1 1.2h0m-1.9 1.2h0m.2 .8h0m1.6 .6h0m.6 .7h0m-1.4 .9h0m-.5 1.2h0m1.5 1.2h0m.3 1.1h0m-1.6 .9h0m-.7 1.1h0m-.2 1.1h0m3 1.2h0m-2.2 .8h0m2.2 1h0m-1.8 .9h0m-1.2 1h0m1.9 1.2h0m.7 1.1h0m-1.9 .6h0m-.5 1.1h0m1.2 .9h0m-1.5 .8h0m.1 1h0m2.7 1.1h0m-.8 .7h0m-.1 1h0m-1.3 .7h0m1.9 1.3h0m-2 .6h0m.8 .9h0m1.6 .6h0m-2.1 1.1h0m-.5 .8h0m.3 .7h0m1 1.3h0m1.3 .6h0m-3.1 .8h0m2.6 1.1h0m-2.3 1.1h0m.2 1.2h0m3 1.1h0m-2.2 1h0m.5 1.1h0m.2 1h0m.6 1.3h0m0 .8h0m-1.8 1.1h0m1.2 1h0m-.1 .7h0m-.1 1h0m.6 1.1h0m-1.9 1.2h0m2.5 1.2h0m-1.6 .6h0m-.5 1.2h0m-.8 1.3h0m3.3 1.1h0m-1.7 1h0m-.4 1h0m1.2 .8h0m-.4 .8h0m1.4 .6h0m-2.6 1.3h0m1 1.1h0m-1.3 1.1h0m1 1.2h0m.6 1h0m-.5 .6h0m-1.2 1.1h0m1.3 .9h0m.9 .7h0m-1.1 .7h0m-1.1 1h0m-.6 1.2h0m2.8 .9h0m-.2 1.7h0M1651.4 512h0m-1 2.6h0m1.1 2.6h0m.1 1.7h0m.1 1.4h0m-1.5 1.9h0m1.3 2.1h0m.2 1.4h0m.2 1.4h0m-1.8 .9h0m.9 1.5h0m-.4 1.3h0m1.5 1.4h0m-.5 1.1h0m-.7 1.1h0m.8 1.1h0m-1.7 1h0m1.8 1.3h0m-1.1 1.4h0m-.6 .7h0m1 .8h0m-.3 .8h0m.1 1.1h0m-.6 .8h0m-.3 1.2h0m1 .9h0m-.3 1.3h0m.3 1h0m.1 1.2h0m0 1.2h0m.9 .7h0m-2 .6h0m1.3 .8h0m-1.2 1h0m1.3 1.1h0m-.2 1h0m-1.1 .8h0m.1 .7h0m1.1 .9h0m.1 .9h0m-1.1 .8h0m1.4 1h0m-1.5 .9h0m-.1 1.2h0m.7 1h0m1.1 .9h0m-.2 .7h0m0 1.3h0m-.1 1.3h0m-1 .6h0m-.1 .6h0m.3 .9h0m1.2 1.2h0m-1 1.1h0m-.9 1.2h0m1.7 .6h0m0 .9h0m-.7 1.1h0m.4 .8h0m-.4 1.3h0m-.3 .7h0m.9 .8h0m-.6 .8h0m-1 .8h0m1.3 1.3h0m-.8 1.1h0m.3 1.2h0m-.9 .9h0m1.3 1h0m-1.1 1.1h0m.7 .9h0m-.9 .5h0m.1 1h0m.3 1h0m.2 1.2h0m.1 .8h0m.5 1.1h0m-.6 1.2h0m-.2 1.2h0m1.3 1.2h0m-1.3 1.1h0m.2 .6h0m1.4 .9h0m-.6 .7h0m-1.3 .9h0m.3 1.3h0m-.2 .6h0m1 .6h0m.3 .6h0m-.9 .7h0m-.4 1.2h0m1.9 1.1h0m-1.6 1.2h0m1.2 .7h0m-1 .6h0m1 1h0m-.7 1h0m.4 .8h0m.3 1.1h0m-.1 .8h0m-1.4 .9h0m-.2 1h0m2.1 .6h0m-.1 .9h0m-1.4 1.5h0m1.3 1.9h0M1653 512h0m.9 2h0m.5 2.3h0m-.4 1.8h0m.3 1.2h0m-.3 1.4h0m-.7 1h0m.2 1.6h0m1.1 1.5h0m-1.4 1.9h0m-.3 .9h0m1.1 1.7h0m0 1.3h0m-.6 1h0m-.3 1.1h0m-.4 1.2h0m1.1 1.2h0m.3 1.1h0m-.3 1.4h0m-.6 1h0m1.2 .9h0m-1.7 .6h0m.1 .9h0m1.7 1.1h0m-.9 1h0m-.4 1h0m.8 .9h0m-1.1 .8h0m-.4 .7h0m1.4 1h0m-.2 .7h0m-1 .9h0m1.4 .6h0m-1.1 1.3h0m.4 .9h0m-.3 1h0m-.4 .9h0m.1 .8h0m1 .9h0m-.7 1h0m.2 1h0m-.1 1.3h0m.2 .6h0m.8 .8h0m.3 1.1h0m-.4 .9h0m-1.5 1.1h0m1.8 .6h0m-1.2 1.2h0m-.3 .6h0m.3 1.2h0m.7 1.1h0m-1.3 .8h0m.4 .6h0m.5 .8h0m0 1h0m.9 .8h0m-.2 .6h0m-.1 .8h0m-1.6 .6h0m.9 1.2h0m-.9 1h0m.7 1.2h0m-.6 1.2h0m1.7 .8h0m0 1.3h0m-.2 .6h0m.2 1.2h0m-1.5 1.1h0m-.1 .9h0m1 .5h0m.6 1.1h0m0 .6h0m-.3 .9h0m-.5 .8h0m-.4 1.1h0m0 .5h0m-.5 1.1h0m.9 1.3h0m-.9 .9h0m1 1.2h0m.5 .8h0m-1.2 .7h0m-.1 1.2h0m1.4 1.2h0m0 1.3h0m-1.3 1h0m1.2 1.2h0m-.1 1.3h0m.3 .6h0m-.7 1h0m-.7 .6h0m-.4 .6h0m0 .9h0m0 1.1h0m1.6 1.3h0m-.3 .8h0m.7 .7h0m-1.5 1h0m0 .6h0m.8 .7h0m-.8 .9h0m.9 .8h0m.2 1.5h0m.3 1h0m-1.9 1.2h0M1662.2 488h0m.8 1.5h0m-1.6 2.4h0m-.2 2.3h0m.7 1.8h0m-.8 1.6h0m.7 1.9h0m-.8 2h0m1.8 1.2h0m-1.6 1.4h0m0 1.8h0m.8 1.3h0m-.5 1.2h0m.5 .9h0m.9 1.3h0m-1.9 1.2h0m1.4 1.3h0m.6 1h0m-1 1.2h0m-.8 .8h0m1.3 1.2h0m-1.6 1.2h0m1 1.1h0m-.2 .6h0m-.3 1.2h0m.8 1.2h0m-.4 1.1h0m.1 1.2h0m.4 .7h0m-.4 1.1h0m.4 .7h0m.3 .7h0m-.1 .6h0m-.3 .9h0m-.4 1.3h0m.4 .9h0m.8 1.2h0m-.1 1.3h0m-.7 1.1h0m-.5 .6h0m-.3 .7h0m.3 .9h0m0 .6h0m.6 1h0m0 1.2h0m0 .8h0m-.3 1.3h0m.9 .9h0m-.9 1.1h0m-.7 .8h0m1.5 1.1h0m-.1 .8h0m-1.3 1.3h0m-.1 1.1h0m.6 1.3h0m-.4 .6h0m1.6 .8h0m-2 .9h0m1.5 .7h0m-1.2 1h0m1 .8h0m-1.1 1.1h0m.2 1.2h0m.2 .9h0m-.2 1.2h0m.4 .9h0m.5 .9h0m-.5 1.2h0m-.2 1.2h0m-.4 .8h0m1.1 .8h0m-.8 .7h0m.2 .6h0m-.3 .9h0m-.4 .5h0m1.1 1.1h0m-1.1 1.3h0m1.5 1.2h0m-.7 .8h0m1.1 .9h0m-1.9 .9h0m.6 .8h0m.3 .9h0m-.4 1.2h0m.8 1.2h0m0 1h0m.3 1.2h0m-1.7 1h0m.1 .6h0m.2 .6h0m.5 .8h0m.3 1h0m-.4 1h0m1.1 1.2h0m-.3 .6h0m.3 .9h0m-1.5 .9h0m.4 1h0m-.5 1.3h0m1.2 1.1h0m-.1 1.2h0m.3 .6h0m-1.6 .9h0m.1 1.3h0m.8 .6h0m.5 1.2h0m-.3 1.2h0m-.9 .9h0m.5 1.2h0m-.3 .9h0m1.1 .8h0m-.6 .7h0m.4 1h0m-1 .9h0m1.7 1.3h0m-.2 1.1h0m-1.8 1.3h0m.7 .7h0m.5 .6h0m0 1.1h0m0 1.2h0m.4 1h0m.4 1.3h0m-.8 .9h0m.5 1.2h0M1665.1 493h0m-1.4 1.3h0m1.9 1.5h0m-.4 2.5h0m-.5 2.1h0m-.3 2.1h0m.5 2.1h0m-1 1.4h0m.6 1.6h0m-.8 1.1h0m1.8 1.8h0m-2.1 1.1h0m1.4 .8h0m.3 1.4h0m-.3 1.4h0m.5 1.2h0m-.4 1.2h0m-1 1h0m-.3 .8h0m1.5 1.4h0m.1 1h0m-1.8 1.3h0m.9 1.1h0m-.6 .9h0m1.3 .8h0m-1.5 1.1h0m.9 .9h0m-1 .7h0m1.2 1.1h0m-.9 1.2h0m.7 1h0m-.1 .7h0m-.4 .8h0m1.3 .7h0m-1.3 .6h0m1.3 .6h0m-1.1 1.2h0m.2 .9h0m-.6 .8h0m1.6 .7h0m0 .7h0m.1 1.1h0m-1.4 1h0m.5 .8h0m.6 .6h0m0 .9h0m-.5 1.2h0m.9 .7h0m-.9 .7h0m-1.2 1.1h0m2.2 1.1h0m-.6 .6h0m-.9 .7h0m.1 .6h0m-.3 1h0m0 1h0m.5 .8h0m.5 1h0m-.7 .6h0m-.3 1.1h0m1.5 .9h0m-.9 1h0m.5 1.1h0m-.1 1h0m-.4 .6h0m0 .8h0m-.9 .7h0m.3 1h0m-.1 1h0m1.3 .6h0m0 1.1h0m-1.6 .9h0m.7 1.1h0m.9 1h0m-1.5 .8h0m.2 .9h0m.9 1.1h0m-.3 1.1h0m.3 .6h0m-.8 .9h0m1.3 1.2h0m-1.7 1.1h0m1.7 .9h0m-.4 .7h0m-1.2 1h0m.9 1.3h0m.2 .8h0m-.8 1h0m.3 1.2h0m1.1 1.2h0m-1.1 1.1h0m-.7 1.1h0m.3 1.2h0m1 .7h0m-.2 .8h0m-.2 .8h0m-.3 .7h0m.2 .9h0m-.4 1.1h0m.1 .9h0m0 1.2h0m.3 1.1h0m1.1 .9h0m.1 .6h0m-1.8 .6h0m.8 .7h0m.8 .9h0m-1.6 1h0m-.3 .7h0m1.3 .8h0m-.6 .9h0m-.6 .9h0m.6 1h0m.1 .9h0m.2 1.2h0m-.2 .6h0m-.4 1h0m.2 1h0m.5 1.3h0m-.7 1.2h0m.6 .9h0m-.2 1h0m.9 1.3h0m.1 1.5h0M1675.4 468h0m.9 1.2h0m-1.8 2h0m1.5 1.8h0m-1 1.3h0m0 1.9h0m2.2 1h0m-.6 .9h0m-.6 .8h0m.5 .7h0m-1.5 1.3h0m-.3 .9h0m1.3 1.6h0m-1.2 .7h0m1.6 .9h0m-2.2 .8h0m2 1.5h0m-2 1.4h0m2.1 .7h0m1.2 1h0m-3.2 1.4h0m0 1h0m3.4 1.1h0m-2.4 .8h0m1.3 1h0m-2.2 1.2h0m1.2 .7h0m1.3 .7h0m-1.6 .9h0m0 .8h0m1.5 1.2h0m-2.5 .9h0m.7 1h0m2.1 1.2h0m-2.9 .5h0m1.9 1.2h0m-1.3 .7h0m1.7 1h0m-1.7 .8h0m1.8 .7h0m-.9 .6h0m1.1 1.2h0m-2.6 1h0m1.5 .8h0m-1.2 1.1h0m3.2 1h0m-1.9 1.2h0m-.9 .9h0m1.9 .9h0m-1.4 .8h0m1.6 1.1h0m.4 .6h0m-.3 .9h0m-.2 1.1h0m-2.2 .7h0m.3 .9h0m1.2 .6h0m-1.2 1.1h0m-.3 1.3h0m2.1 1.2h0m-.7 .8h0m-.5 1h0m1.2 1.1h0m-1.4 1.1h0m-.9 1.2h0m1.9 .8h0m-1.9 .9h0m2.6 1.1h0m-2.2 1h0m1.8 1.2h0m-.6 1.2h0m-.2 .9h0m-.5 1.1h0m.5 .6h0m-1 .7h0m-.6 1.1h0m2.4 1.2h0m0 1.2h0m-1.8 1h0m2.4 .7h0m-2.4 1.1h0m1.7 1.3h0m.4 1.1h0m-1.4 .8h0m-.8 .8h0m.7 1h0m-.2 1.1h0m-1 .7h0m3.4 .9h0m-1.1 1.2h0m-2.3 1.1h0m2 1.1h0m-2 .8h0m.1 1h0m-.1 1h0m0 1h0m2.7 1.2h0m-2.8 .6h0m3 1.3h0m-1.3 1.1h0m1 1.2h0m-1.7 1.2h0m.7 .6h0m1.6 1h0m-2.5 .9h0m-.2 .6h0m-.6 1.2h0m3.4 1.1h0m-.3 .9h0m-1.6 1h0m-1.3 .9h0m0 .7h0m2.1 1h0m-.8 .6h0m.7 .6h0m0 .7h0m1.1 .8h0m-.6 1.4h0m-1.1 2h0m.5 1.2h0M1683.6 374h0m-.5 2.2h0m-.9 1.5h0m.4 1.3h0m-.6 2.1h0m1.2 1.7h0m-1.1 1.1h0m1.5 2.2h0m.6 1.1h0m-1.9 1.3h0m.4 1.9h0m.4 1h0m-.7 1.8h0m.7 1.3h0m-1.1 .7h0m1.6 1h0m-1.6 1.3h0m1.7 1.2h0m-.7 .8h0m.2 1.1h0m.3 .7h0m.6 1.1h0m-1.8 .7h0m1.1 .7h0m-.3 .9h0m-.9 1h0m-.1 1.1h0m1.8 1h0m-.7 .7h0m.3 .7h0m-1.3 .8h0m1.3 .8h0m-1 1.2h0m.2 1.1h0m.3 1h0m-.8 .7h0m1.8 .6h0m-.6 .7h0m-.7 1.2h0m-.3 1.1h0m.8 1.1h0m.6 .9h0m-1.1 .6h0m.7 1.1h0m-.7 .7h0m.3 .5h0m1 .6h0m-.2 1h0m-1 .7h0m0 .6h0m1 1h0m-1.2 1.3h0m1.2 1.1h0m-1.4 1.3h0m-.4 1.1h0m2 1h0m-1.4 .7h0m0 1h0m-.5 1.1h0m-.1 .6h0m1.1 .7h0m-.5 .7h0m.9 1.2h0m.5 1.3h0m-1.8 .8h0m1.5 .9h0m-1 .7h0m1.1 .6h0m-.9 .8h0m-1 1.1h0m.7 .9h0m-.6 1.2h0m1.1 1h0m.7 .8h0m-1.2 1.2h0m.6 1.3h0m-.4 1.1h0m-.9 .7h0m1 1h0m0 .9h0m-.7 1.2h0m.8 1.2h0m-.3 .8h0m.4 1.1h0m-.7 .9h0m.8 .9h0m-.4 .8h0m.2 1h0m-.5 1.1h0m-.1 .8h0m1.3 .6h0m-1.6 .8h0m.3 1.2h0m.9 .7h0m-.4 1.2h0m.7 .6h0m0 .9h0m-1.8 1.5h0m1.9 1.3h0M1685.2 374h0m.2 2.7h0m.4 2h0m0 1.5h0m-.5 1.4h0m.2 2.3h0m-.2 1.9h0m.7 1.5h0m.2 1h0m.1 1.4h0m-1.1 .9h0m.1 .9h0m1.2 1.7h0m-1.2 1h0m1.4 .9h0m-.5 .7h0m-.8 1.6h0m0 1.3h0m0 .9h0m.3 .8h0m1 .6h0m.1 1.2h0m-.9 .9h0m-1 .6h0m.3 1.3h0m1.4 1.1h0m0 .8h0m.1 1.1h0m-.8 .7h0m.9 1.2h0m-2.1 .8h0m.5 .6h0m1.2 .8h0m-1.1 1.3h0m.4 1h0m-.5 1.2h0m1 1h0m.3 1.2h0m-1.6 1.1h0m.3 1h0m-.4 .9h0m.5 1.2h0m1 1h0m-.3 1.1h0m-.7 .6h0m.8 1.2h0m-.5 1.3h0m-.8 1h0m2 1.2h0m-2 1.1h0m1.1 .6h0m-.8 1.3h0m1.4 .8h0m.4 1h0m-.6 .7h0m-.6 1.2h0m-.4 1.2h0m.4 .6h0m.8 1.1h0m.1 1.2h0m.2 1.2h0m-.3 .9h0m-1.6 1.1h0m.1 .8h0m2 1.2h0m-.9 .7h0m-.3 .5h0m.3 .8h0m-1.1 .9h0m1.7 .8h0m.1 .8h0m0 .7h0m-1.3 .6h0m-.4 1.2h0m-.5 1.2h0m1.7 1h0m.4 .6h0m-.5 1.2h0m.1 .9h0m-.8 .9h0m0 .6h0m.5 1h0m-.5 .6h0m1.5 1h0m-.6 1.1h0m.6 1.1h0m0 1.2h0m-1 .7h0m0 1.2h0m-1.3 .8h0m1.7 1.3h0m.3 .8h0m-1 .9h0m-1.1 1.2h0m1.2 .9h0m.7 1.3h0M1686.8 658.1h0m-.9 5.6h0m.7 3.9h0m.1 6.1h0m.1 3.8h0m-1.1 2h0m.4 3h0m.9 2.9h0m.2 5h0m-1.6 2.6h0M1716.6 580h0m-3 2.4h0m1.6 2.8h0m1.4 2.1h0m-.9 2.4h0m-1 2.5h0m-1.2 1.3h0m1.3 1.1h0m-1.6 2.3h0m2 1.6h0m0 1.5h0m-.2 .9h0m.7 .8h0m-.6 1.1h0m.7 1.1h0m-1.9 1.3h0m1.4 .8h0m.1 1.1h0m.8 1.3h0m-2.2 1h0m2.6 .8h0m-.2 .6h0m-1.6 1h0m-.1 .9h0m-.2 1h0m-.6 .8h0m2.1 .8h0m-2.4 .9h0m2.5 1h0m-1.2 .7h0m-1.6 1h0m.8 1.2h0m2.4 .8h0m-2.1 .7h0m-.5 1.3h0m1.9 .9h0m-1.7 1.2h0m.9 .6h0m-.9 .6h0m-.3 .9h0m2.7 1.2h0m-.6 .7h0m-1.5 1.1h0m1 .8h0m-1.5 .5h0m2.7 .6h0m-.8 .8h0m-2.1 .8h0m1.3 1h0m-.5 .6h0m.4 1.1h0m-1.1 1h0m2 1.2h0m-1.4 .8h0m-.3 1.1h0m-.4 1.3h0m1.8 .8h0m.6 1h0m-.4 .6h0m-1.5 1.2h0m-.4 .7h0m2.1 .7h0m0 .9h0m-.6 .6h0m-.3 .6h0m1.2 .6h0m-.1 1.2h0m-.6 .9h0m-1.2 .8h0m-.2 1.1h0m-.2 1.2h0m.3 .8h0m1.1 .7h0m-1.7 .6h0m-.1 1.2h0m2.9 1.2h0m.1 .7h0m-.7 1.2h0m-1.5 .6h0m1.5 1.3h0m.1 1h0m.3 .7h0m-1.6 .9h0m2.1 1.3h0m-1.7 .7h0m.2 .9h0m-.3 1h0m.5 1.1h0m-.4 .7h0m-1.8 1.3h0m1.2 1h0m.7 .6h0m1.3 1.2h0m-2.4 .9h0m.1 1.2h0m-.1 1h0m.2 1.4h0m1.4 1.1h0m-1.1 2.1h0M1727.7 598.1h0m.5 4.7h0m-.1 4.3h0m.1 3.9h0m.2 3.7h0m-1.4 6.2h0m1 2.9h0m-.4 2.6h0m-.2 3h0m-1 5.5h0m.5 3.7h0m1 6.1h0m-.2 3.3h0m-1.3 2.4h0M677 304h0m-.9 1.8h0m2.4 2.2h0m-2.9 1.5h0m-.1 2h0m-.1 1.3h0m2.5 1.1h0m.6 1.2h0m-2.1 1.2h0m1.5 1.8h0m-.9 1h0m.9 1h0m.7 .9h0m-2.2 1.6h0m-.9 1.5h0m3.2 1.1h0m-.9 .7h0m-1.1 1h0m.9 1.3h0m.3 1.3h0m-1.4 1.4h0m1 1h0m-2.1 .8h0m3.3 1.3h0m-2.6 .8h0m-.5 1.1h0m.4 .7h0m-.7 .8h0m2.1 .7h0m-1.9 .7h0m2.8 .7h0m-1 .9h0m.1 1.3h0m-.6 .7h0m1.1 1h0m-2.7 .8h0m2.2 .8h0m-1.1 .6h0m.5 .7h0m-1.4 1.3h0m-.2 .7h0m.5 1.3h0m2.5 .8h0m-.9 1.1h0m-1.9 1.1h0m1.4 1.1h0m-1.3 1.2h0m1.4 1.1h0m-1.2 1.1h0m.7 1h0m2.3 1.1h0m-1.5 .9h0m.8 .7h0m-2.2 1h0m-.3 .8h0m-.2 .8h0m.9 1.3h0m-.6 .9h0m.1 .5h0m.7 1.3h0m-.2 1.1h0m0 1.2h0m1.2 1.2h0m-1.2 .8h0m-.1 .6h0m2.4 1.1h0m0 1h0m-1.1 .7h0m-1.2 1h0m.1 .8h0m1.4 .5h0m-1.8 1.3h0m1.5 1.2h0m-1.8 1.1h0m.1 .9h0m1.4 1.1h0m-.9 .9h0m1.6 .9h0m.8 1.2h0m-1.1 1.1h0m-.9 .8h0m-1.1 .9h0m2.7 .6h0m-1.7 .8h0m1.2 1.1h0m-.5 .8h0m-.4 .9h0m-.6 1.3h0m2.4 1h0m-1.5 .7h0m-.3 .8h0m.8 1.3h0m1 .7h0m-3.1 1.2h0m1.5 1.2h0m1.2 .5h0m.2 1.3h0m-3.1 1h0m1.8 .9h0m.5 1h0m-.4 1.3h0m.1 1.1h0m-1.4 1.2h0m-.1 1.2h0m.5 1.2h0m.8 .8h0m.1 1.1h0m-1.1 1.3h0m.4 .8h0m-1 1.1h0m1.2 .9h0m-.7 .6h0m1.2 1h0m-.4 .9h0m1.3 1h0m-2.5 .8h0m0 1.1h0m.1 .9h0m2.6 1.3h0m-.8 .7h0m-1.9 .9h0m2.2 .7h0m-1.6 .7h0m.8 .9h0m1.3 .8h0m-1.8 .9h0m-.6 .8h0m.4 1.5h0m-.9 1.5h0M681.4 300h0m.1 3.7h0m.9 2.2h0m0 1.9h0m-1.3 1.3h0m-.5 2.7h0m0 1.8h0m.4 1.1h0m1.1 1.5h0m-2.7 1.2h0m.3 1.9h0m1.5 1.8h0m-1.4 1.3h0m1.6 1.2h0m.5 .7h0m.3 1.3h0m.2 1h0m-2 1.3h0m-.1 1.3h0m-.3 .9h0m-.7 .9h0m.6 1h0m1.8 .6h0m-.6 .9h0m1.2 .7h0m-2.8 .6h0m.6 .9h0m2.4 .8h0m-2.5 1.3h0m.4 .7h0m-.9 .7h0m.1 1.1h0m0 .9h0m.8 1.1h0m1.4 .7h0m-1.6 .7h0m0 .8h0m-.5 .9h0m1.6 .8h0m-1.7 .9h0m2 1h0m-.9 1h0m-.3 1h0m.4 1.2h0m.9 1.1h0m-1.9 .9h0m2 .8h0m-2.1 .8h0m2.1 .9h0m.2 1.3h0m-1.9 .6h0m.1 1.1h0m2.1 .8h0m0 1.3h0m-1.2 1.1h0m-.6 .7h0m.7 .8h0m1.2 .7h0m-1.4 .8h0m.6 1.3h0m-2.3 1h0m1.6 1.3h0m-.1 .6h0m-.2 1.2h0m.1 1h0m1.3 1.3h0m-2 .9h0m.2 .7h0m.1 1.3h0m2.1 1.1h0m-1.4 1.1h0m1.6 1.1h0m-.9 1.1h0m-2.4 1.1h0m2.7 .8h0m-1 .9h0m1.1 .8h0m-2.7 1.1h0m1.3 .8h0m1.3 .9h0m.1 1.1h0m-2.2 .7h0m2.1 .8h0m.5 .6h0m-2.6 .6h0m2.8 .8h0m-2.7 .8h0m1.6 .6h0m-1.9 .6h0m1.8 1.3h0m.3 .8h0m-2.4 1.3h0m0 1.1h0m1.9 1.3h0m1.5 1.2h0m-3.2 .8h0m2 .8h0m1.2 1.1h0m-3.4 .7h0m1.8 .9h0m-.5 1.1h0m.9 .7h0m.5 1.3h0m-2.2 1h0m-.3 1h0m2.7 .9h0m-1.7 1.2h0m2 .7h0m-1.5 1.1h0m-1.7 1.1h0m1.8 1.2h0m-1.4 1.6h0m.1 1.6h0M683.9 302h0m0 1.9h0m.2 2.5h0m2.4 2.1h0m-3.2 1.8h0m3.2 1.5h0m-2.8 1.1h0m1.6 1.2h0m.6 2.2h0m-1.4 1.3h0m1.3 2.2h0m-2.4 1.5h0m-.1 1.2h0m1.2 .9h0m.4 .9h0m-1.3 1.4h0m-.3 1.2h0m.2 .8h0m1.7 1.3h0m0 1.3h0m1.4 1.2h0m-.3 1.2h0m-1 1h0m.4 1.2h0m-.5 .7h0m.7 1.3h0m-.4 .6h0m-1 1.2h0m-.7 .9h0m2 1.3h0m-1.1 .7h0m.7 1h0m-.4 .7h0m1.2 1h0m.2 .9h0m-.2 .6h0m-.7 .9h0m.4 .9h0m-.8 .7h0m-1.5 1h0m2.3 .9h0m.5 .6h0m-3 1.1h0m.3 1.3h0m2.7 .6h0m-1.5 1.3h0m-.6 .8h0m1.8 .7h0m-1.6 .8h0m1 1.2h0m-.2 1.1h0m1.3 .8h0m-2.1 .7h0m-1.3 1.3h0m1.7 1h0m1.7 1.2h0m-2.8 .6h0m1.6 1.2h0m-1.8 .6h0m.6 .5h0m-.5 1.1h0m1.1 1.1h0m1 1.1h0m.5 1.1h0m-.7 1.2h0m-.8 1.3h0m-1.3 1h0m.4 1.1h0m1.2 .9h0m.7 .6h0m.5 .8h0m-2.8 1.2h0m1.9 .5h0m.8 1.3h0m-.1 .8h0m-.2 .6h0m-1.7 .6h0m1.1 .8h0m-1.6 1.2h0m-.3 .7h0m1.4 .7h0m.3 1.3h0m-.4 .7h0m1.3 1.1h0m-2.2 .9h0m2.3 1h0m-2.5 1.2h0m-.2 .8h0m-.1 1.3h0m2.2 1.1h0m-2 1.3h0m.5 1h0m.4 1h0m-1.1 .6h0m1.7 .6h0m-1.1 .6h0m.2 1.1h0m2.1 .6h0m-1.3 .8h0m.8 .9h0m0 .9h0m-2.3 1.1h0m2.8 1h0m-2 1.2h0m.3 .6h0m-.4 .9h0m1.7 .6h0m-.9 .6h0m1.9 .7h0m-1.4 1h0m-1.6 .8h0m-.3 1.1h0m2.8 .8h0m-1.8 1h0m-.5 .7h0m.4 1.2h0m2.1 .9h0m-2.3 1.5h0m-.6 1.3h0m0 1.3h0M689.4 300h0m-.3 2.7h0m-1.7 2.2h0m.1 1.8h0m2.2 2.1h0m0 2.7h0m-.6 1.9h0m1.6 1.9h0m-3.1 2h0m2.3 1.4h0m.9 1.2h0m-3.5 1.7h0m1.6 1.6h0m.7 .7h0m.7 1h0m-.1 1h0m-1.1 1.1h0m1.4 1.3h0m-3 1.1h0m.7 1.3h0m.9 1h0m1.6 .6h0m-.3 .6h0m-.8 1.1h0m-.2 1.2h0m-.7 .6h0m.7 1h0m1.2 1.1h0m-.7 1.1h0m-2.2 1.3h0m.5 .5h0m.7 .8h0m.2 .5h0m-1 .8h0m1.5 .8h0m0 1h0m-1.4 .7h0m0 1h0m-1 1.1h0m1.3 1h0m.2 .5h0m1.8 .9h0m-2 .7h0m.7 .7h0m.4 1h0m-.9 1.2h0m1.7 .9h0m-1.9 1.1h0m1.5 .8h0m-1.6 .7h0m1 .9h0m-1.3 1.3h0m1.4 .6h0m-2.2 1h0m1.5 .9h0m-.6 .9h0m2.1 1h0m-1.3 1h0m-.5 .7h0m-.3 .7h0m1.3 1.2h0m0 1.1h0m0 .7h0m-.8 .8h0m1.1 .9h0m-1 .6h0m1.9 1h0m-2.6 1h0m0 1h0m1.5 .7h0m.8 .8h0m-2.6 1.2h0m-.5 1.1h0m3 .6h0m-2 1h0m1.7 .6h0m.2 1.1h0m-2.4 .6h0m1.1 1.3h0m.9 1.1h0m-1.8 1.2h0m.2 1.3h0m-.8 1.1h0m.6 1.1h0m1.1 1.2h0m-.4 1.1h0m-.7 .9h0m0 .6h0m-.8 1.2h0m1 1.1h0m-.3 1h0m.9 .9h0m1.3 1.3h0m-2.1 1.3h0m.7 .6h0m1.4 1.2h0m-1.1 .9h0m1 .7h0m-2 .7h0m2.6 1h0m-3.1 .5h0m1.5 1.3h0m.1 .6h0m.6 .7h0m.8 .8h0m-1.2 .7h0m-.2 .9h0m.7 .8h0m-2.5 .8h0m0 .9h0m2.8 .7h0m-1.8 1.1h0m.4 .9h0m.8 .7h0m-1 1.2h0m1.8 1.3h0m.3 .9h0m-.3 .6h0m-2.2 .6h0m-.8 .9h0m0 .8h0m2.8 .7h0m-1.9 .8h0m-.3 1.1h0m-.3 .6h0m-.1 1.2h0m3 1.2h0m-3.2 1.2h0m1.6 .7h0m-1.4 1.4h0m-.2 1h0m3.4 1.1h0M693.9 312h0m-1.6 3.2h0m-.6 1.8h0m.1 1.9h0m.5 1.3h0m.8 2.5h0m-.5 1.7h0m.5 2.1h0m-.6 1.1h0m-.1 2h0m-1 1.5h0m2.4 .9h0m-2.1 1h0m2.8 1.1h0m-.7 1.7h0m-.1 1h0m-1.1 1.2h0m.7 1.1h0m-1.9 .7h0m3.3 .9h0m-.6 .7h0m.7 .6h0m-1.5 1.1h0m.9 .7h0m-2.8 .7h0m-.1 1.1h0m1.9 .7h0m-1.8 .9h0m2.3 .7h0m-1 1h0m-.1 .8h0m.6 1.3h0m1.5 1.3h0m-.9 1.1h0m-1.2 1.1h0m.3 .7h0m.5 .7h0m-1.1 .8h0m-.6 1h0m1.8 1.2h0m-.4 1.1h0m-1.3 .8h0m.9 1.1h0m.7 1.2h0m.8 .7h0m-2.3 1.1h0m2.6 1.3h0m-2.7 1h0m.6 .7h0m-.3 1.2h0m1.7 .9h0m-1.4 .6h0m-.5 .8h0m1.6 1h0m1.2 1.2h0m-3.2 .8h0m.9 1h0m1.3 .6h0m.5 .9h0m-.5 .6h0m-.6 .6h0m1 .9h0m.3 .9h0m-.1 .8h0m-2.6 1.3h0m2.4 1.2h0m-2 .8h0m.2 1.2h0m1.7 .7h0m-2 .6h0m2.4 1h0m-1 1.2h0m1.2 .6h0m-1.2 1h0m-1.4 .8h0m2.1 .6h0m-1.8 1h0m1.6 1.3h0m.5 .8h0m-2.2 1.1h0m-.3 .9h0m.1 1.2h0m1.1 .7h0m-1.7 .7h0m2.5 1.1h0m-2.1 .9h0m.1 1.2h0m2.3 1.1h0m.2 .8h0m-2.4 .9h0m-.4 1h0m1.6 .5h0m.7 1h0m-2.3 1.1h0m2.5 .9h0m-.7 .7h0m.8 1h0m-1.2 .6h0m.6 1.1h0m-.5 1.1h0m1 .6h0m-2 1.1h0m2.2 .7h0m-1.2 .9h0m-.9 1.1h0m1 1.1h0M695.6 306h0m2 1.3h0m-.4 2.6h0m0 1.4h0m-1.4 1.7h0m-.7 1.3h0m.6 1.1h0m.6 2.1h0m-.9 1.8h0m.7 1.2h0m.5 1.1h0m1.7 1.2h0m-3.4 1.3h0m1.5 1.5h0m0 1h0m1.5 1h0m-.3 1.4h0m-1.4 1.5h0m-.5 1h0m1.4 1.3h0m.4 1.2h0m-.6 1.1h0m-.3 .9h0m.6 .9h0m.4 .7h0m-.2 .8h0m-1.1 1.2h0m-.1 1h0m-1.4 .9h0m2.2 1.1h0m.9 .7h0m-2 1.2h0m-.9 1.1h0m2.2 .8h0m-.2 .7h0m-.6 .8h0m-.4 .7h0m.8 1.2h0m.9 1.1h0m-.6 .6h0m.7 .6h0m.1 .9h0m-2.8 .7h0m.3 1.1h0m1.9 1.3h0m.1 .6h0m.3 1h0m0 .6h0m.1 1.3h0m-2.2 .7h0m.9 1.2h0m-.1 1.1h0m0 .9h0m1.4 1.1h0m-2.7 .9h0m.6 .9h0m-.2 1.1h0m2.6 .6h0m-1.8 .6h0m1.1 1.1h0m.8 1h0m-2.7 1.2h0m2.8 1.1h0m-3.3 1.2h0m1.3 .7h0m-.3 .8h0m2 1h0m-.4 1.2h0m.5 .7h0m-2.3 1.1h0m2.3 .6h0m-.7 1h0m-1.7 1h0m2.1 1.2h0m-.1 1.1h0m.6 1h0m-2.6 1.2h0m1.1 .9h0m-1.5 .6h0m0 1h0m1.5 1h0m-.1 1.2h0m.8 1.1h0m.1 .9h0m-.4 1.2h0m-1.1 .7h0m-.6 .7h0m2.4 1.3h0m-2.4 .7h0m2 .6h0m-1.6 .9h0m1 1.1h0m1.3 1.1h0m-2 1h0m1.7 .9h0m-.9 1.1h0m.8 1h0m-1.4 1.3h0m-.1 .9h0m1.3 .8h0m.4 1h0m-3 1h0m3.1 1.1h0m-3.4 1.2h0m3 .9h0m-2.7 1.3h0m1.3 1.6h0m1.5 1.6h0M703.3 306.4h0m-1.3 3.3h0m1.4 4h0m-1.7 2.2h0m-.2 2.1h0m.2 4.3h0m.6 2.3h0m.5 1.7h0m.5 2.1h0m-1.3 3.6h0m0 4.9h0m0 4.6h0m.7 1.9h0m-.4 4.6h0m.1 1.7h0m-.4 4.6h0m1 4.6h0m-.7 1.9h0m.4 2.1h0m-.1 1.5h0m.9 1.5h0m-.7 4.5h0m-1 2.4h0m.3 3.7h0m-.1 4.5h0m.2 2.8h0m.3 4.1h0m.4 1.6h0m-1 2.8h0m.5 5h0m1.1 3.8h0m-2 4.8h0m0 1.7h0m.4 3.6h0M710.6 309h0m-1.2 1.7h0m1.3 1.1h0m-2.1 1.3h0m1.9 1.5h0m.1 1.9h0m.3 1.7h0m-3.1 1.5h0m1.7 1.6h0m.3 1.3h0m1.4 1.5h0m-1.3 1.2h0m-.5 1.2h0m-1.6 .7h0m2.2 1.3h0m-1.6 1.5h0m.6 1.3h0m-.1 1.1h0m2 .7h0m-.9 1.1h0m-1.8 .9h0m2.1 .7h0m-.5 .8h0m-1.9 1h0m2.2 1.2h0m1.1 1.3h0m-.4 1.3h0m-2.5 1.1h0m.5 .7h0m1.4 .6h0m-.9 1.1h0m1.9 .8h0m-1.1 .9h0m-1.7 .9h0m1.6 1.3h0m-1.3 .9h0m1.3 1h0m-1.2 .6h0m.5 .6h0m-1.2 1h0m.8 1h0m1.3 .8h0m-2 .6h0m2.5 .9h0m-2 .9h0m2.5 .8h0m-3.3 1h0m3.2 1.1h0m-2.1 .6h0m-1.1 .6h0m2.4 .9h0m-.5 .9h0m-1.4 1.1h0m2.5 1.2h0m-.5 .7h0m-2 .9h0m1.1 1.2h0m.6 .6h0m-.8 1.2h0m-.6 .9h0m1.8 .6h0m-.6 .6h0m1.2 .7h0m-2.3 .7h0m.2 .6h0m1.7 .9h0m.2 .6h0m-.4 .8h0m.1 .8h0m.4 .8h0m-1.5 .7h0m.2 1.2h0m1 .8h0m-2 .8h0m2.2 .8h0m-.2 .7h0m-.9 1.2h0m-1.1 1h0m1.9 1h0m-1.6 .8h0m-1.1 .6h0m1.1 1.3h0m-1.3 .6h0m2.6 .8h0m.5 .7h0m.2 .7h0m-1.8 .7h0m-1.4 .8h0m1.6 .7h0m-1.1 .8h0m1.4 .7h0m.6 1.2h0m.5 1.2h0m-1.4 1.2h0m-1.2 1.1h0m2.5 .9h0m-.1 .8h0m-2.5 1.1h0m1 .6h0m-.8 .8h0m2.1 .9h0m.7 1.3h0m-.2 1h0m-.1 .8h0m.3 .6h0m.2 .6h0m-.4 1.2h0m-.8 1.3h0m-.5 1.1h0m.8 1.1h0m.7 .7h0m-1 1.1h0m-1.9 1.1h0m.7 .8h0m-.1 .6h0m1.5 .6h0m-1.9 .6h0m2.6 1.1h0m-.9 .9h0m-1.2 .7h0m.9 1.1h0m0 1.3h0m-1.1 1.1h0m-.2 1.1h0m.3 1.1h0m-.9 1.3h0m-.1 2.2h0M707.3 310.6h0m.2 3.8h0m-.1 4.9h0m.6 4.1h0m.5 4.1h0M727.7 305h0m1.6 2.5h0m-2.1 2.7h0m2.2 2.1h0m-1.4 1.4h0m-1.4 2.2h0m1.3 2.1h0m1.2 1.6h0m-.8 1.5h0m1 1.6h0m-.7 1.4h0m-1.7 .8h0m0 1.6h0m2.5 1.1h0m-3.1 1.5h0m.3 1.4h0m3 1.3h0m-1.5 .9h0m-.8 .6h0m-.4 .8h0m-.7 1.1h0m.3 .6h0m1.1 1h0m1.2 1.1h0m-.2 .8h0m.3 .9h0m-.6 .8h0m-2.1 .9h0m.7 .8h0m2.5 .6h0m-2.8 .7h0m1.6 .8h0m-1.1 1.3h0m1.9 1h0m-2.4 1.2h0m0 .7h0m0 .5h0m1.8 1h0m.6 1.2h0m.6 1.1h0m-2.6 1.2h0m1.6 .9h0m.6 .9h0m-2.7 .9h0m3.3 .8h0m-1.2 .7h0m-.1 .9h0m-1.1 1.3h0m1.8 .8h0m.1 1.2h0m-.1 .6h0m-2 .7h0m1.4 1.1h0m-2.1 .9h0m.5 1h0m2.6 1.2h0m0 .8h0m-2.3 .8h0m.5 .9h0m.8 1h0m.4 .7h0m.3 .9h0m-.8 .9h0m-1.4 .6h0m1 1.1h0m-1.2 1h0m.1 1.3h0m2.3 .9h0m-2.4 .8h0m2.7 1h0m-.6 .7h0m-.6 .9h0m1.2 1h0m-.1 1.2h0m0 1h0m-1.6 1.1h0m1.5 .9h0m-.5 .9h0m-1.4 .7h0m-1.1 1h0m3.4 1.1h0m-.9 .7h0m-2.4 .8h0m0 .7h0m2.1 .9h0m-.9 1.1h0m.3 .6h0m-.1 1h0m.3 1.1h0m.9 1h0m.2 .6h0m-1 .6h0m.1 1.1h0m-.8 .6h0m1.6 1.1h0m-.2 1h0m-.5 .8h0m1.3 1h0m-.2 1.1h0m-1.9 .9h0m-.9 .9h0m1.1 1.2h0m.3 .7h0m-1.7 1h0m2.2 1h0m-1.6 1.1h0m.8 1.2h0m.4 1h0m.8 .9h0m-.4 .9h0m-.8 .6h0m0 .6h0m1.9 1.1h0m-2 1.2h0m.6 1.1h0m-1.2 .7h0m1.3 1h0m.8 .7h0m-2.1 .8h0m-.2 .7h0m0 .7h0m-.2 1.2h0m.6 .8h0m.9 1.2h0m1.4 2.3h0M730.9 300h0m.6 2.5h0m.7 1.9h0m1.5 1.9h0m-1.4 1.8h0m-1.6 1.6h0m2.4 1.6h0m-.9 2.1h0m1.1 1.7h0m-.6 1.6h0m-1 1.8h0m2.1 1.6h0m-1.1 1.4h0m-2.1 .7h0m2.7 1h0m-2.5 1.1h0m-.1 1.4h0m1.9 1h0m1.2 .6h0m-1 1.4h0m-2 .7h0m1.9 1.1h0m-1 1.3h0m.5 .7h0m-1.6 .7h0m1.2 1.1h0m-.5 .9h0m-.3 .6h0m.8 .7h0m.4 .8h0m.1 1.2h0m-1.4 .9h0m.4 .9h0m.9 1.1h0m0 .6h0m-1.9 1h0m.3 1.2h0m1.6 .9h0m.8 1.1h0m.7 1h0m-1.3 .9h0m-2 .8h0m2.8 1h0m.6 1.2h0m-2.9 1h0m1.3 1h0m-1.7 1h0m2.7 .8h0m-2.9 1.1h0m2.9 .6h0m-1.1 1.1h0m-1.9 .6h0m2.2 1.1h0m.5 1.2h0m-1.7 1.2h0m1.9 1h0m-1.7 1.2h0m.8 1h0m.2 1h0m.3 1.1h0m-2.3 1.3h0m1.2 .8h0m1 .7h0m-1.7 .6h0m2.8 .7h0m.1 .7h0m-2.3 1.1h0m1.1 1.2h0m-2 .9h0m2.3 .5h0m-1.6 1h0m-.9 .7h0m.3 1.1h0m-.1 1.2h0m0 1h0m2 .9h0m-1 1.1h0m2.1 .9h0m-2.4 1h0m-1 1h0m2.6 .9h0m-2.5 1.2h0m1.3 1h0m-.3 .5h0m1.5 .7h0m.3 .6h0m-.2 1h0m-.5 .7h0m-1.7 1.3h0m.1 1.3h0m-.7 1h0m.9 .9h0m-.3 1.1h0m1.2 .7h0m1.5 1.2h0m-1.9 1h0m1.6 .7h0m-2.2 .9h0m.7 .7h0m0 1.1h0m-.9 1.2h0m1.2 1.1h0m-.2 1.2h0m-.3 .6h0m.8 1.1h0m-.1 .5h0m-.1 1h0m-.1 1.2h0m.1 .7h0m1.4 1.2h0m-.7 .7h0m-1 .8h0m-.4 .7h0m.8 .8h0m-1.4 1h0m1.1 .9h0m.2 1.2h0m1 .6h0m.4 .6h0m-3 .6h0m1.3 .9h0m1.1 1.2h0m-.6 1.2h0m-1.8 1.4h0m2.4 1.2h0m-2.6 2h0M734.8 318h0m2.4 1.6h0m-.3 1.4h0m-2.3 2.7h0m2.4 1.6h0m.1 1.5h0m-2 1.1h0m2.7 1.5h0m-3.3 1h0m2.2 .9h0m.7 1h0m-2.4 1.1h0m.6 .9h0m-1.2 .8h0m2.7 1.5h0m-1.2 .8h0m-.9 1h0m.5 1.2h0m.1 1.4h0m-1 .6h0m2.6 1.1h0m-.4 .9h0m.6 .6h0m-3.1 1.2h0m1.6 1h0m1.2 .7h0m.6 1h0m-.1 .9h0m-2.1 1h0m-1.3 .8h0m1.5 .7h0m1.5 1.1h0m-1.1 1.1h0m-1.7 1.1h0m1.5 .7h0m-1.2 1h0m2.1 .7h0m-1.3 .7h0m-1.1 .9h0m.4 .6h0m.1 .8h0m.7 .8h0m1.9 1.2h0m-.2 .8h0m0 .8h0m-1.5 .7h0m-.1 1.3h0m-.5 1h0m1 1.2h0m-.4 1.3h0m.7 1.1h0m-.1 1h0m-1.6 .9h0m2.5 .7h0m-.9 1.3h0m.8 1.3h0m-2.8 .6h0m2.1 .9h0m1 .7h0m-1.1 1.2h0m-1.8 1.1h0m2.6 .6h0m-.2 1.1h0m-.1 .8h0m-.7 1.1h0m.7 .9h0m.3 1.2h0m-2.2 .8h0m-.4 .6h0m0 1.2h0m1.6 1.1h0m0 1h0m-1.8 .6h0m.1 1h0m1.1 .8h0m2.1 1.2h0m-1.2 .6h0m-1.8 1.2h0m1.8 .9h0m.6 1.2h0m-2.7 .8h0m2.5 1h0m.8 1.2h0m-1.9 1.2h0m-.4 .9h0m2.1 .7h0m-.1 1.2h0m-2.6 1.1h0m-.6 .7h0m3.3 1.1h0m-1 .7h0m0 .7h0m-1 1.3h0m-.5 .8h0m1.2 1h0m-1 1.1h0m.5 .9h0m-1.1 1h0m1.6 1.4h0m1.5 1.1h0m-3.4 1.7h0M741.9 309h0m3.1 1.5h0m.2 1.1h0m-3.4 1h0m2.9 2h0m-1.2 .9h0m-1.4 1.7h0m.6 1h0m2.1 1.3h0m-1.8 1h0m1 1.4h0m-.2 .9h0m-1.7 1.3h0m.5 1h0m-.5 .9h0m1.4 1.2h0m-.8 1.4h0m-.9 1.3h0m1.2 1.3h0m1.3 1.2h0m-2.5 .7h0m2.7 1h0m-1.7 .8h0m1.4 1.2h0m1 1.2h0m-2.1 1h0m1.9 .6h0m-2.9 1.3h0m0 .6h0m.4 .7h0m-.1 1.3h0m2 1h0m-.1 .7h0m.7 1.1h0m.1 1.3h0m-.9 1h0m-.1 .7h0m-1.3 .9h0m1.1 .6h0m-1.4 1.3h0m2.1 1h0m.5 .9h0m-1.4 1.2h0m-.9 .6h0m.3 1.2h0m.8 .6h0m-.2 .9h0m.9 .5h0m-2.5 .9h0m2.8 1h0m-3.2 .7h0m.4 .9h0m1.3 .8h0m1.3 1h0m.2 1h0m-1.6 1.1h0m-1.2 1.2h0m.6 .9h0m-.6 1h0m2.9 1.1h0m-.8 .7h0m-1.5 .6h0m.1 1.2h0m-.2 1h0m2.3 .9h0m-1.1 1.3h0m.3 .7h0m.8 .6h0m-3.1 .6h0m2.7 .6h0m.8 1.2h0m-3 1.2h0m1 1.2h0m-.9 .8h0m1.3 .7h0m1.4 1.1h0m-.8 1.1h0m-1.9 .9h0m.1 .6h0m.2 1.3h0m.8 .7h0m-.3 1h0m2.1 .7h0m-3.1 .9h0m-.1 .9h0m.8 .7h0m1.6 1h0m-1.5 .7h0m-.5 1.3h0m2.7 .7h0m-2.1 .9h0m-.6 .9h0m1.5 1.1h0m-.3 .6h0m.3 1h0m-1.2 1.3h0m2.3 .6h0m.1 1h0m-1.5 .6h0m.6 .9h0m-1.9 .6h0m1.3 .6h0m1 .9h0m.3 .9h0m.3 1h0m-1 .6h0m.9 .6h0m-.6 .6h0m-2.7 1.3h0m1.2 .5h0m.2 .9h0m-1.1 .6h0m.8 1.2h0m-.4 .9h0m2.4 1.3h0m-2.9 1h0m2.4 .6h0m0 1.4h0m-2 1.2h0m2.5 1.5h0M769.3 322h0m-2.2 1.9h0m2.7 1.3h0m-1.4 1.1h0m-1.1 1.7h0m.2 1.5h0m.6 1.2h0m2 1.6h0m-1.7 1.6h0m1.7 1.1h0m-1.8 1.1h0m-1.6 1.6h0m3.2 1.2h0m-.8 1.1h0m.7 1.3h0m-3 1.1h0m2.2 .9h0m.3 .7h0m.6 1.4h0m-.2 .7h0m-.6 1.1h0m-.6 .9h0m1 .7h0m-1.8 1.1h0m-.8 1.1h0m2.6 1h0m-.3 .7h0m-.3 .7h0m-1.1 1.2h0m1.3 1h0m1.1 1.2h0m-1.2 .6h0m-1 .6h0m2.1 1.1h0m.1 1h0m-3 .6h0m1.5 .6h0m-1.7 1.2h0m1.3 .6h0m1.3 1.3h0m-1.9 .9h0m.6 .7h0m-1 1h0m2.8 1.2h0m-.3 1.1h0m-2.6 1.2h0m1.4 .8h0m.4 .9h0m-2.2 .7h0m.8 1h0m.1 .7h0m1.1 .9h0m.2 .9h0m-.3 .9h0m1.2 .7h0m-.8 .6h0m-2.3 .8h0m2.7 1h0m-.9 1h0m-1.3 1h0m.3 .7h0m1.6 .6h0m-.3 .7h0m-1.5 .6h0m.5 1.1h0m1.8 .5h0m-1.8 1.3h0m2.3 1.2h0m-.8 .6h0m-1 .6h0m.1 .8h0m1.2 .8h0m-.8 .7h0m1.1 .6h0m-1.9 .8h0m1.8 .8h0m0 1.3h0m-2.8 1.7h0m.3 2.2h0M292.1 862h0m0 1h0m.7 .7h0m-.4 1h0m-.1 1.2h0m.4 .9h0m0 1.1h0m-.6 1h0m.2 .7h0m-.2 .7h0m.6 1.3h0m-.2 1.5h0M411.5 867h0m-.5 1.1h0m.4 1.2h0m.3 .9h0m-.3 .8h0m-.2 1.2h0m.3 1.4h0m-.5 1.9h0M546.4 864h0m-.1 1h0m-.3 .7h0m.7 .9h0m0 .6h0m-.2 .5h0m-.3 .9h0m-.1 .7h0m.4 1h0m-.2 1.3h0m.1 .9h0m.3 2.1h0M875.5 858h0m-.3 1.2h0m.2 1.3h0m-.1 1.2h0m-.2 .6h0m.3 1.1h0m.2 .9h0m0 .9h0m-.2 1h0m0 1h0m-.1 1.2h0m.2 1h0m.2 2.3h0M1022.2 862h0m0 1h0m.3 .7h0m.3 .9h0m-.3 .6h0m-.1 1.2h0m0 .9h0m.1 .7h0m-.4 1.2h0m0 1.2h0m-.1 1.5h0m.2 1.9h0M1344.7 865h0m-.5 1.2h0m.2 .7h0m-.3 1h0m.6 .9h0m-.3 1.3h0m-.2 .9h0m.3 1.9h0m.3 1.3h0M1374.1 863h0m0 .8h0m.7 .9h0m-.4 1h0m-.3 1.2h0m.3 1.1h0m.3 1.1h0m.1 1.6h0M1487.1 863h0m0 1.1h0m.3 1.2h0m.1 .8h0m.2 1.2h0m-.3 1.1h0m0 1.3h0m-.3 1h0m0 1h0m.6 1.5h0m-.6 1.2h0M1571.6 859h0m0 .7h0m-.2 1.3h0m-.2 .9h0m.5 .8h0m.1 1.2h0m-.7 .6h0m.7 1.2h0m-.4 1h0m-.2 1.3h0m-.2 1.1h0m.4 .7h0m-.3 1.2h0m.4 1h0m.1 1h0m-.3 1.5h0m.1 2.3h0M1606.5 864h0m-.1 .7h0m-.4 .6h0m.8 .8h0m-.1 .6h0m-.7 .8h0m.7 1h0m-.4 .8h0m-.2 .9h0m.3 1.1h0m.4 2.2h0M1607.4 864h0m.4 .6h0m-.3 1.2h0m.1 .6h0m.3 1.4h0m-.3 1.6h0m.2 2h0M1687.6 864h0m-.5 1.3h0m.4 1.3h0m-.4 .6h0m.5 .6h0m0 .9h0m.1 .9h0m-.4 .8h0m0 1.1h0m-.2 1.3h0m.3 1.8h0M1766 860h0m0 .6h0m.2 .7h0m.4 1.1h0m-.5 .9h0m.2 1.1h0m.1 1.3h0m-.1 .7h0m-.1 .6h0m.2 1h0m.4 .7h0m-.5 .9h0m0 1.6h0m0 1.6h0M258.5 543h0M263 699h0M292 719h0M292 728h0M348.2 493.3h0M355 648h0M392 702h0M407 661h0M411.6 724h0M424.4 705h0M435 561h0M435 586h0M435 596h0M435 606h0M435 612h0M435 623h0M442 700h0M453 706h0M473.4 484.4h0M473.4 503.6h0M475 700h0M477 702h0M488 704h0M495.6 532h0M495.6 540h0M495.6 555h0M501 541h0M546.6 717h0M546.6 722h0M541 537.4h0M552 548.4h0M566 716h0M574 589h0M597.6 576h0M597.6 673h0M597.6 685h0M597.6 690h0M633.6 529h0M634.6 550h0M633.6 560h0M647 690h0M665.4 496h0M664.4 560h0M664.4 567h0M665.4 695.6h0M675 530h0M697.4 505.4h0M697.4 558.4h0M697.4 682.6h0M707.4 636h0M707.4 677h0M707.4 702h0M714 639h0M714 645h0M714 658h0M719.4 508.4h0M740.4 529h0M740.4 588h0M740.4 659h0M740.4 674h0M747.4 502.4h0M746.4 567h0M746.4 572h0M746.4 585h0M746.4 682.6h0M766.6 552h0M766.6 559h0M766.6 702h0M772.4 548.6h0M773 566h0M773 569h0M772.4 578h0M773.4 695h0M800 694h0M800 703h0M800.4 544.4h0M811.4 553.4h0M823 508h0M824 514h0M824 520h0M823 534h0M822 541h0M821 550h0M820 693h0M834.5 451.5h0M833.5 462.5h0M834 465.5h0M829.5 476.5h0M831.5 478h0M834.5 481.5h0M831.5 483h0M829.5 487.5h0M834.5 486.5h0M840.4 546h0M841 702h0M858.4 520.4h0M854 688h0M875.4 630h0M875.4 689h0M882.6 599h0M882.6 607h0M882.6 621h0M882.6 633h0M882.6 640h0M882.6 698h0M882.6 703h0M882.6 708h0M898.4 566.4h0M897.4 576.6h0M898.4 584.4h0M897.4 596h0M898 683.6h0M912.4 519h0M912.4 523h0M912.4 527h0M912.4 551h0M912.4 638h0M916.4 572.4h0M916.4 684.4h0M934.6 546h0M932 571h0M933 574h0M933 686h0M934 691h0M934 696h0M940.4 540h0M942.4 534.4h0M949.4 528.4h0M952.4 520.4h0M945 692h0M945 698h0M946 704h0M946.4 707h0M954 686h0M954 690h0M964.4 539.4h0M964.4 698.4h0M972.2 449.4h0M972.2 461h0M972.2 479.2h0M972.2 485.6h0M972.2 542h0M976 684h0M977 686h0M977 694h0M977 698h0M977.4 718.4h0M984.4 526.4h0M983.4 538h0M983.4 544h0M983.6 555.6h0M994.4 532.4h0M996 565h0M997 567h0M994 578h0M995 582h0M994 693h0M994 697h0M1014 563.6h0M1016 574h0M1013 581h0M1012.4 687.6h0M1027.4 518.4h0M1023.4 527.4h0M1024 557h0M1026 564h0M1045 544.4h0M1045 610h0M1066.4 673h0M1077.4 542.4h0M1078.4 567h0M1088.4 490h0M1088.4 502h0M1088.4 507h0M1088.4 612h0M1104.4 547.4h0M1104.4 576h0M1111.6 572.4h0M1112.4 706.4h0M1117.4 587.4h0M1144.4 502h0M1145.4 510.4h0M1152.4 520.4h0M1143.4 674h0M1153.4 693.4h0M1160.4 507h0M1160.4 510h0M1160.4 521h0M1160.4 529h0M1160.4 636h0M1160.4 645h0M1166.6 532.4h0M1168 697.6h0M1172 697h0M1177.6 695.6h0M1186.4 712.4h0M1193.6 555.6h0M1194 549.6h0M1197.6 543.6h0M1200.4 538.4h0M1200 689.4h0M1207.4 529h0M1206.4 541h0M1207.4 550.4h0M1206.4 559h0M1206.4 563h0M1206 574h0M1207 588h0M1207.4 689.4h0M1216 578h0M1215 677h0M1215 685h0M1222.4 552.4h0M1220 686h0M1242.4 544.4h0M1239.4 558.4h0M1242.4 564h0M1244.4 689.4h0M1255 561.4h0M1255 579h0M1255.4 676h0M1255.4 704.4h0M1265.4 481h0M1266.4 538.4h0M1261.4 558.4h0M1261.4 709.4h0M1260 690h0M1265 690h0M1273.4 537.6h0M1272.4 549.4h0M1270.4 555.6h0M1284 553.4h0M1283 563.4h0M1283 576h0M1283 589h0M1297.4 506.4h0M1300.4 524.4h0M1293.4 561.4h0M1294 565h0M1301 568h0M1293.4 693.4h0M1298 682h0M1300 680h0M1311.4 540.4h0M1331.4 513.4h0M1330.4 561.4h0M1329.4 573.4h0M1330.4 688.4h0M1338 588h0M1343 546.4h0M1344.4 718.4h0M1351 531h0M1352 534h0M1350.4 555.4h0M1349.4 692.4h0M1362 562h0M1364 568h0M1364.4 697.4h0M1374.4 715.4h0M1385.4 521.4h0M1383 553h0M1385 555.4h0M1383 568h0M1382 684h0M1383 690h0M1411 684h0M1411 690h0M1428.4 548.4h0M1437.4 543.4h0M1426.4 563.4h0M1430 719h0M1437 584h0M1451.6 689h0M1463 510h0M1463.6 513h0M1462.4 526.4h0M1463 533h0M1463 538h0M1472 549h0M1470 559h0M1472 569h0M1466.4 691.4h0M1467.4 699.4h0M1477.4 687.4h0M1482 553h0M1482 557h0M1482 562h0M1482 588h0M1487 636h0M1487.4 730.4h0M1492.4 579h0M1492.4 600h0M1492.4 610h0M1492.4 618h0M1507 582h0M1508 588h0M1508 682.4h0M1508.4 694.4h0M1516.4 551h0M1516.4 565.4h0M1519 688.4h0M1529.6 508h0M1530 517h0M1529 692.4h0M1538.4 689.4h0M1539.4 695.4h0M1553.4 521.4h0M1564.4 519.4h0M1563.4 527.4h0M1563.4 538h0M1573.4 489h0M1575.4 493h0M1576.4 497.4h0M1571.4 506.4h0M1574.4 517.4h0M1574.4 524h0M1575 529h0M1571.4 706.4h0M1576.5 468.5h0M1597.4 502.4h0M1598.4 528.4h0M1597 547h0M1598 552h0M1594.4 686.4h0M1593.4 699.4h0M1611.4 527.4h0M1605.4 534.4h0M1605.4 540h0M1606 546h0M1606 552h0M1612 545h0M1622.4 532.4h0M1621.4 557.4h0M1620.4 738.4h0M1627.4 737h0M1632.4 503.4h0M1631.4 535.4h0M1632 624h0M1632 628h0M1632.4 638.4h0M1632 664.4h0M1632.5 476.5h0M1639.4 519.4h0M1639 534h0M1639 538h0M1642 733h0M1648.4 633.4h0M1651.4 639.4h0M1648.4 645.4h0M1661.4 637.4h0M1660.4 621h0M1653 484.5h0M1654 484.5h0M1652.4 500.4h0M1653.4 506.4h0M1653.4 510h0M1664 434.5h0M1664 446.5h0M1664 456h0M1664 458h0M1664 462h0M1664 465.5h0M1664 475h0M1664 477.5h0M1664 481.5h0M1664 489h0M1665.4 605.4h0M1675.5 428.5h0M1675.5 432.5h0M1684.5 334h0M1684 337h0M1684.5 357.5h0M1682.5 362h0M1683 365h0M1684.5 369h0M1685 483h0M1683 488h0M1686 491h0M1684 496h0M1685 499h0M1682.4 569.4h0M1682.4 640.4h0M1687.4 640.4h0M1687.4 649.4h0M1686.4 712.4h0M1715.4 567.4h0M1716.5 442.5h0M1727.4 563.4h0M1727.4 670.4h0M1727.4 676.4h0M1752 597.4h0M1752 607.4h0M1752 620h0M1752 623h0M1752 642h0M1752 647h0M1752 652h0M1752 662.4h0M1752 668.4h0M1766.4 636h0M1766.4 639h0M1766.4 654.4h0M1766.4 668h0M1766.4 672h0M1766.4 675h0M1766.4 678h0M1766.4 682h0M1766.4 690h0M1766.4 695h0M1766.4 700h0M1766.4 705h0M1766.4 710h0M695.5 269.5h0M701.5 272.5h0M677.5 278.5h0M685.5 280.5h0M688.5 279.5h0M680.5 286.5h0M708.5 285.5h0M676.5 293.5h0M690.5 293.5h0M695.5 293.5h0M695.5 298.5h0M678.5 298h0M680.5 302.5h0M702.5 422h0M702.5 428h0M702.5 436h0M710 436h0M709 440h0M709.5 445h0M707 445.6h0M684.2 443.4h0M734.5 282.5h0M729.5 287.5h0M733.5 287h0M733.5 292h0M730.5 295.5h0M731 301h0M727 303h0M734 306h0M742.5 304h0M743.5 252.5h0M744.5 252.5h0M743.5 428h0M768.5 282.5h0M769.5 289h0M768.5 294h0M767.5 298.5h0M769 308h0M768.5 311.5h0M768.5 315h0M768.5 405h0M767.5 413.5h0M348.2 307.4h0M603 284.3h0M522 387.4h0M858 259.4h0M387 495.5h0M397.2 474h0M396.2 485.3h0M413.2 479.2h0M1431.1 202.4h0M1438.2 349.3h0M1464.1 379.4h0M1360.1 450.4h0M1606.5 378.5h0M1551 474.5h0M292.4 848.4h0M292.4 854.4h0M411.4 847.4h0M411.4 852h0M411.4 857.4h0M546.4 851.4h0M546.4 857.4h0M875.4 835.4h0M875.4 853h0M1022.4 851.4h0M1344.4 854.4h0M1344.4 861h0M1374.4 843.4h0M1374.4 849.4h0M1374.4 858.4h0M1487.4 849h0M1487.4 853.5h0M1487.4 856h0M1571.4 856.4h0M1606.4 860h0M1687.4 854.4h0M1687.4 860h0M1766.4 849.4h0"/>
</g>
<rect x="250" y="120" width="1550" height="770" fill="none" stroke="#000" stroke-width="2.2"/>
<path d="M250 890v9.7M459.4 890v9.7M668.9 890v9.7M878.3 890v9.7M1087.7 890v9.7M1297.1 890v9.7M1506.6 890v9.7M1716 890v9.7M250 890h-9.7M250 735.8h-9.7M250 581.5h-9.7M250 427.2h-9.7M250 273h-9.7" stroke="#000" stroke-width="2.2" fill="none"/>
<g class="tk"><text x="250" y="931" text-anchor="middle">0</text><text x="459.4" y="931" text-anchor="middle">50</text><text x="668.9" y="931" text-anchor="middle">100</text><text x="878.3" y="931" text-anchor="middle">150</text><text x="1087.7" y="931" text-anchor="middle">200</text><text x="1297.1" y="931" text-anchor="middle">250</text><text x="1506.6" y="931" text-anchor="middle">300</text><text x="1716" y="931" text-anchor="middle">350</text><text x="230.6" y="900.5" text-anchor="end">0</text><text x="230.6" y="746.2" text-anchor="end">5</text><text x="230.6" y="592" text-anchor="end">10</text><text x="230.6" y="437.8" text-anchor="end">15</text><text x="230.6" y="283.5" text-anchor="end">20</text></g>
<text x="1025.7" y="102.8" text-anchor="middle" font-size="33.33px" textLength="392" lengthAdjust="spacing">ACIS Count Rate: CCD0</text>
<text x="1025.7" y="964.8" text-anchor="middle" font-size="22.22px" textLength="340" lengthAdjust="spacing">Time (Day of Year: Year 2009)</text>
<text transform="translate(181.4 507.6) rotate(-90)" text-anchor="middle" font-size="22.22px">Count/Sec</text>
</svg>
</body></html>
